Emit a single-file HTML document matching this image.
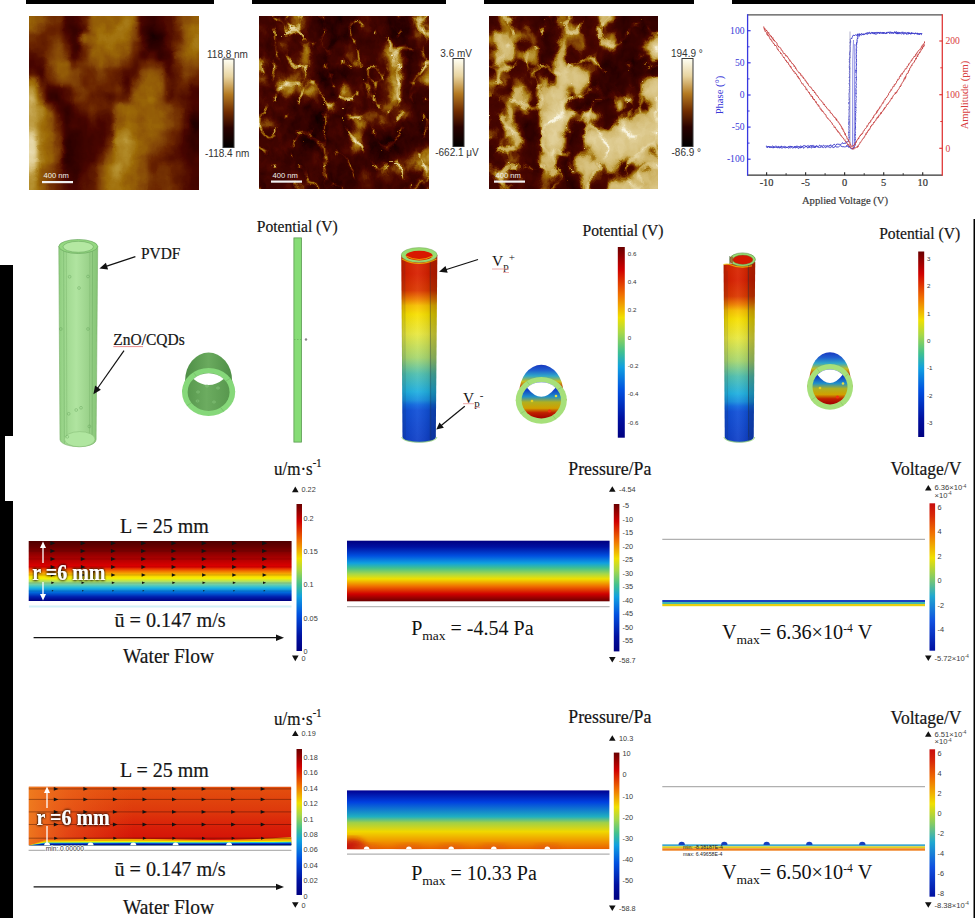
<!DOCTYPE html>
<html><head><meta charset="utf-8"><title>figure</title>
<style>html,body{margin:0;padding:0;background:#fff;} body{width:975px;height:918px;overflow:hidden;} svg{display:block}</style>
</head><body>
<svg width="975" height="918" viewBox="0 0 975 918">
<defs><linearGradient id="jet" x1="0" y1="0" x2="0" y2="1"><stop offset="0" stop-color="#6a0000"/><stop offset="0.12" stop-color="#d00000"/><stop offset="0.25" stop-color="#f07000"/><stop offset="0.37" stop-color="#f0e000"/><stop offset="0.45" stop-color="#a8d848"/><stop offset="0.55" stop-color="#40c090"/><stop offset="0.63" stop-color="#10a0e0"/><stop offset="0.75" stop-color="#0050e0"/><stop offset="0.9" stop-color="#0010a0"/><stop offset="1" stop-color="#000080"/></linearGradient><linearGradient id="jetv" x1="0" y1="0" x2="0" y2="1"><stop offset="0" stop-color="#c80c0c"/><stop offset="0.08" stop-color="#d82808"/><stop offset="0.2" stop-color="#f07000"/><stop offset="0.37" stop-color="#f0e000"/><stop offset="0.5" stop-color="#88cc60"/><stop offset="0.63" stop-color="#20a8d0"/><stop offset="0.8" stop-color="#1050e0"/><stop offset="1" stop-color="#0010a0"/></linearGradient><linearGradient id="jetr" x1="0" y1="0" x2="0" y2="1"><stop offset="0" stop-color="#000080"/><stop offset="0.09999999999999998" stop-color="#0010a0"/><stop offset="0.25" stop-color="#0050e0"/><stop offset="0.37" stop-color="#10a0e0"/><stop offset="0.44999999999999996" stop-color="#40c090"/><stop offset="0.55" stop-color="#a8d848"/><stop offset="0.63" stop-color="#f0e000"/><stop offset="0.75" stop-color="#f07000"/><stop offset="0.88" stop-color="#d00000"/><stop offset="1" stop-color="#6a0000"/></linearGradient><linearGradient id="afmgrad" x1="0" y1="0" x2="0" y2="1"><stop offset="0" stop-color="#fffff4"/><stop offset="0.2" stop-color="#e8d4a0"/><stop offset="0.4" stop-color="#b47a22"/><stop offset="0.6" stop-color="#702c00"/><stop offset="0.78" stop-color="#2a0200"/><stop offset="1" stop-color="#000"/></linearGradient><filter id="blur0" x="-20%" y="-20%" width="140%" height="140%"><feGaussianBlur stdDeviation="3.4"/></filter><filter id="blur1" x="-20%" y="-20%" width="140%" height="140%"><feGaussianBlur stdDeviation="3.2"/></filter><filter id="blur2" x="-20%" y="-20%" width="140%" height="140%"><feGaussianBlur stdDeviation="4"/></filter><filter id="bl1"><feGaussianBlur stdDeviation="0.6"/></filter><filter id="tshadow" x="-10%" y="-30%" width="120%" height="160%"><feGaussianBlur in="SourceAlpha" stdDeviation="1.2"/><feOffset dx="0" dy="0"/><feComponentTransfer><feFuncA type="linear" slope="1.5"/></feComponentTransfer><feMerge><feMergeNode/><feMergeNode in="SourceGraphic"/></feMerge></filter><filter id="sb1" x="-30%" y="-30%" width="160%" height="160%"><feGaussianBlur stdDeviation="30"/></filter><filter id="sb2" x="-30%" y="-30%" width="160%" height="160%"><feGaussianBlur stdDeviation="4"/></filter><filter id="sb3" x="-30%" y="-30%" width="160%" height="160%"><feGaussianBlur stdDeviation="7"/></filter><filter id="afmf0" x="9" y="-4" width="210" height="214" filterUnits="userSpaceOnUse" color-interpolation-filters="sRGB"><feGaussianBlur in="SourceGraphic" stdDeviation="2.8" result="b"/><feTurbulence type="fractalNoise" baseFrequency="0.08 0.06" numOctaves="3" seed="3" result="nz"/><feColorMatrix in="nz" type="matrix" values="1 0 0 0 0  1 0 0 0 0  1 0 0 0 0  0 0 0 0 1" result="nzg"/><feComposite in="b" in2="nzg" operator="arithmetic" k1="0" k2="1" k3="0.08" k4="-0.04" result="bn"/><feTurbulence type="fractalNoise" baseFrequency="0.09" numOctaves="2" seed="3" result="dn"/><feDisplacementMap in="bn" in2="dn" scale="4" xChannelSelector="R" yChannelSelector="G" result="d"/><feComponentTransfer in="d" result="c"><feFuncR type="table" tableValues="0 0.09 0.17 0.26 0.37 0.5 0.62 0.74 0.85 0.93 1"/><feFuncG type="table" tableValues="0 0.09 0.17 0.26 0.37 0.5 0.62 0.74 0.85 0.93 1"/><feFuncB type="table" tableValues="0 0.09 0.17 0.26 0.37 0.5 0.62 0.74 0.85 0.93 1"/></feComponentTransfer><feComponentTransfer in="c"><feFuncR type="table" tableValues="0.000 0.157 0.290 0.416 0.525 0.620 0.706 0.800 0.894 0.973"/><feFuncG type="table" tableValues="0.000 0.000 0.024 0.141 0.282 0.424 0.557 0.690 0.831 0.957"/><feFuncB type="table" tableValues="0.000 0.000 0.000 0.000 0.031 0.031 0.173 0.376 0.627 0.878"/></feComponentTransfer></filter><filter id="afmf1" x="239" y="-4" width="210" height="213" filterUnits="userSpaceOnUse" color-interpolation-filters="sRGB"><feGaussianBlur in="SourceGraphic" stdDeviation="3.0" result="b"/><feTurbulence type="fractalNoise" baseFrequency="0.12 0.08" numOctaves="3" seed="7" result="nz"/><feColorMatrix in="nz" type="matrix" values="1 0 0 0 0  1 0 0 0 0  1 0 0 0 0  0 0 0 0 1" result="nzg"/><feComposite in="b" in2="nzg" operator="arithmetic" k1="0" k2="1" k3="0.2" k4="-0.1" result="bn"/><feTurbulence type="turbulence" baseFrequency="0.04 0.03" numOctaves="2" seed="12" result="rt"/><feColorMatrix in="rt" type="matrix" values="-7 0 0 0 1  -7 0 0 0 1  -7 0 0 0 1  0 0 0 0 1" result="rg"/><feComposite in="bn" in2="rg" operator="arithmetic" k1="0" k2="1" k3="0.3" k4="0" result="br"/><feTurbulence type="fractalNoise" baseFrequency="0.09" numOctaves="2" seed="3" result="dn"/><feDisplacementMap in="br" in2="dn" scale="6" xChannelSelector="R" yChannelSelector="G" result="d"/><feComponentTransfer in="d" result="c"><feFuncR type="table" tableValues="0 0.06 0.14 0.2 0.28 0.5 0.72 0.82 0.9 0.96 1"/><feFuncG type="table" tableValues="0 0.06 0.14 0.2 0.28 0.5 0.72 0.82 0.9 0.96 1"/><feFuncB type="table" tableValues="0 0.06 0.14 0.2 0.28 0.5 0.72 0.82 0.9 0.96 1"/></feComponentTransfer><feComponentTransfer in="c"><feFuncR type="table" tableValues="0.000 0.157 0.290 0.416 0.525 0.620 0.706 0.800 0.894 0.973"/><feFuncG type="table" tableValues="0.000 0.000 0.024 0.141 0.282 0.424 0.557 0.690 0.831 0.957"/><feFuncB type="table" tableValues="0.000 0.000 0.000 0.000 0.031 0.031 0.173 0.376 0.627 0.878"/></feComponentTransfer></filter><filter id="afmf2" x="469" y="-4" width="209" height="213" filterUnits="userSpaceOnUse" color-interpolation-filters="sRGB"><feGaussianBlur in="SourceGraphic" stdDeviation="3.4" result="b"/><feTurbulence type="fractalNoise" baseFrequency="0.1 0.07" numOctaves="3" seed="5" result="nz"/><feColorMatrix in="nz" type="matrix" values="1 0 0 0 0  1 0 0 0 0  1 0 0 0 0  0 0 0 0 1" result="nzg"/><feComposite in="b" in2="nzg" operator="arithmetic" k1="0" k2="1" k3="0.2" k4="-0.1" result="bn"/><feTurbulence type="turbulence" baseFrequency="0.035 0.03" numOctaves="2" seed="21" result="rt"/><feColorMatrix in="rt" type="matrix" values="-6 0 0 0 1  -6 0 0 0 1  -6 0 0 0 1  0 0 0 0 1" result="rg"/><feComposite in="bn" in2="rg" operator="arithmetic" k1="0" k2="1" k3="0.22" k4="0" result="br"/><feTurbulence type="fractalNoise" baseFrequency="0.09" numOctaves="2" seed="3" result="dn"/><feDisplacementMap in="br" in2="dn" scale="8" xChannelSelector="R" yChannelSelector="G" result="d"/><feComponentTransfer in="d" result="c"><feFuncR type="table" tableValues="0 0.05 0.13 0.18 0.24 0.5 0.76 0.82 0.86 0.9 1"/><feFuncG type="table" tableValues="0 0.05 0.13 0.18 0.24 0.5 0.76 0.82 0.86 0.9 1"/><feFuncB type="table" tableValues="0 0.05 0.13 0.18 0.24 0.5 0.76 0.82 0.86 0.9 1"/></feComponentTransfer><feComponentTransfer in="c"><feFuncR type="table" tableValues="0.000 0.157 0.290 0.416 0.525 0.620 0.706 0.800 0.894 0.973"/><feFuncG type="table" tableValues="0.000 0.000 0.024 0.141 0.282 0.424 0.557 0.690 0.831 0.957"/><feFuncB type="table" tableValues="0.000 0.000 0.000 0.000 0.031 0.031 0.173 0.376 0.627 0.878"/></feComponentTransfer></filter><linearGradient id="gtube" x1="0" y1="0" x2="1" y2="0"><stop offset="0" stop-color="#8ccc7c"/><stop offset="0.12" stop-color="#9cd68c"/><stop offset="0.45" stop-color="#b0e4a0"/><stop offset="0.8" stop-color="#98d088"/><stop offset="1" stop-color="#84c474"/></linearGradient><linearGradient id="gring" x1="0" y1="0" x2="1" y2="0"><stop offset="0" stop-color="#4e8e46"/><stop offset="0.5" stop-color="#6aaa5e"/><stop offset="1" stop-color="#4e8e46"/></linearGradient><linearGradient id="ginner" x1="0" y1="0" x2="1" y2="0"><stop offset="0" stop-color="#58984e"/><stop offset="0.45" stop-color="#6cac60"/><stop offset="1" stop-color="#58984e"/></linearGradient><linearGradient id="tubegrad" x1="0" y1="0" x2="0" y2="1"><stop offset="0" stop-color="#d82800"/><stop offset="0.1" stop-color="#d82000"/><stop offset="0.19" stop-color="#dc3800"/><stop offset="0.236" stop-color="#f08000"/><stop offset="0.27" stop-color="#f8c000"/><stop offset="0.317" stop-color="#f8e000"/><stop offset="0.423" stop-color="#e8e840"/><stop offset="0.549" stop-color="#a8d870"/><stop offset="0.635" stop-color="#50c0b0"/><stop offset="0.73" stop-color="#20b0e0"/><stop offset="0.775" stop-color="#1890e0"/><stop offset="0.8" stop-color="#1068e0"/><stop offset="0.83" stop-color="#1050d8"/><stop offset="1" stop-color="#1040c8"/></linearGradient><linearGradient id="tubeshade" x1="0" y1="0" x2="1" y2="0"><stop offset="0" stop-color="#000" stop-opacity="0.22"/><stop offset="0.12" stop-color="#000" stop-opacity="0.05"/><stop offset="0.45" stop-color="#fff" stop-opacity="0.06"/><stop offset="0.75" stop-color="#000" stop-opacity="0.08"/><stop offset="0.82" stop-color="#000" stop-opacity="0.2"/><stop offset="1" stop-color="#000" stop-opacity="0.25"/></linearGradient><linearGradient id="ringback" x1="0" y1="0" x2="0" y2="1"><stop offset="0" stop-color="#1838c0"/><stop offset="0.1" stop-color="#2060d0"/><stop offset="0.2" stop-color="#30a8c8"/><stop offset="0.3" stop-color="#c8c020"/><stop offset="0.4" stop-color="#c83000"/><stop offset="0.6" stop-color="#a00800"/><stop offset="1" stop-color="#900000"/></linearGradient><linearGradient id="ringin" x1="0" y1="0" x2="0" y2="1"><stop offset="0" stop-color="#1030c0"/><stop offset="0.22" stop-color="#1040c8"/><stop offset="0.4" stop-color="#2090c8"/><stop offset="0.55" stop-color="#b0b020"/><stop offset="0.72" stop-color="#d0a000"/><stop offset="0.84" stop-color="#c02000"/><stop offset="1" stop-color="#a00000"/></linearGradient><linearGradient id="ringside" x1="0" y1="0" x2="1" y2="0"><stop offset="0" stop-color="#000" stop-opacity="0.25"/><stop offset="0.18" stop-color="#fff" stop-opacity="0"/><stop offset="0.82" stop-color="#fff" stop-opacity="0"/><stop offset="1" stop-color="#000" stop-opacity="0.25"/></linearGradient><linearGradient id="flow1grad" x1="0" y1="0" x2="0" y2="1"><stop offset="0" stop-color="#500000"/><stop offset="0.1" stop-color="#680000"/><stop offset="0.17" stop-color="#800000"/><stop offset="0.3" stop-color="#b00000"/><stop offset="0.43" stop-color="#e00000"/><stop offset="0.5" stop-color="#f07000"/><stop offset="0.57" stop-color="#f8c800"/><stop offset="0.62" stop-color="#f8f000"/><stop offset="0.7" stop-color="#90d890"/><stop offset="0.78" stop-color="#20b8e0"/><stop offset="0.85" stop-color="#0070e0"/><stop offset="0.93" stop-color="#0020b0"/><stop offset="1" stop-color="#000080"/></linearGradient><linearGradient id="fl2base" x1="0" y1="0" x2="0" y2="1"><stop offset="0" stop-color="#e4500e"/><stop offset="0.4" stop-color="#de3a0c"/><stop offset="0.7" stop-color="#d81e08"/><stop offset="0.88" stop-color="#d41408"/><stop offset="1" stop-color="#d41408"/></linearGradient><linearGradient id="fl2left" x1="0" y1="0" x2="1" y2="0"><stop offset="0" stop-color="#f08020" stop-opacity="0.9"/><stop offset="0.15" stop-color="#f07020" stop-opacity="0.5"/><stop offset="0.4" stop-color="#e86018" stop-opacity="0"/></linearGradient><filter id="bl2" x="-10%" y="-50%" width="120%" height="200%"><feGaussianBlur stdDeviation="3"/></filter><linearGradient id="pr2grad" x1="0" y1="0" x2="0" y2="1"><stop offset="0" stop-color="#000090"/><stop offset="0.2" stop-color="#0040e0"/><stop offset="0.45" stop-color="#20b0c0"/><stop offset="0.55" stop-color="#a0d048"/><stop offset="0.7" stop-color="#f0d800"/><stop offset="0.88" stop-color="#f09000"/><stop offset="1" stop-color="#e86000"/></linearGradient></defs>
<rect width="975" height="918" fill="#fff"/>
<rect x="26" y="0" width="188" height="4" fill="#000"/>
<rect x="252" y="0" width="194" height="4" fill="#000"/>
<rect x="484" y="0" width="210" height="4" fill="#000"/>
<rect x="732" y="0" width="243" height="4" fill="#000"/>
<rect x="0" y="265" width="13" height="171" fill="#000"/>
<rect x="0" y="436" width="5" height="65" fill="#000"/>
<rect x="0" y="501" width="13" height="417" fill="#000"/>
<rect x="973.5" y="219" width="1.5" height="699" fill="#000"/>
<clipPath id="afmclip0"><rect x="29" y="16" width="170" height="174"/></clipPath>
<g clip-path="url(#afmclip0)"><g filter="url(#afmf0)"><rect x="12.00" y="-1.40" width="8.80" height="9.00" fill="#848484"/><rect x="20.50" y="-1.40" width="8.80" height="9.00" fill="#848484"/><rect x="29.00" y="-1.40" width="8.80" height="9.00" fill="#848484"/><rect x="37.50" y="-1.40" width="8.80" height="9.00" fill="#767676"/><rect x="46.00" y="-1.40" width="8.80" height="9.00" fill="#676767"/><rect x="54.50" y="-1.40" width="8.80" height="9.00" fill="#676767"/><rect x="63.00" y="-1.40" width="8.80" height="9.00" fill="#3d3d3d"/><rect x="71.50" y="-1.40" width="8.80" height="9.00" fill="#3d3d3d"/><rect x="80.00" y="-1.40" width="8.80" height="9.00" fill="#595959"/><rect x="88.50" y="-1.40" width="8.80" height="9.00" fill="#848484"/><rect x="97.00" y="-1.40" width="8.80" height="9.00" fill="#848484"/><rect x="105.50" y="-1.40" width="8.80" height="9.00" fill="#848484"/><rect x="114.00" y="-1.40" width="8.80" height="9.00" fill="#848484"/><rect x="122.50" y="-1.40" width="8.80" height="9.00" fill="#929292"/><rect x="131.00" y="-1.40" width="8.80" height="9.00" fill="#848484"/><rect x="139.50" y="-1.40" width="8.80" height="9.00" fill="#3d3d3d"/><rect x="148.00" y="-1.40" width="8.80" height="9.00" fill="#2f2f2f"/><rect x="156.50" y="-1.40" width="8.80" height="9.00" fill="#3d3d3d"/><rect x="165.00" y="-1.40" width="8.80" height="9.00" fill="#4b4b4b"/><rect x="173.50" y="-1.40" width="8.80" height="9.00" fill="#676767"/><rect x="182.00" y="-1.40" width="8.80" height="9.00" fill="#767676"/><rect x="190.50" y="-1.40" width="8.80" height="9.00" fill="#848484"/><rect x="199.00" y="-1.40" width="8.80" height="9.00" fill="#848484"/><rect x="207.50" y="-1.40" width="8.80" height="9.00" fill="#848484"/><rect x="12.00" y="7.30" width="8.80" height="9.00" fill="#848484"/><rect x="20.50" y="7.30" width="8.80" height="9.00" fill="#848484"/><rect x="29.00" y="7.30" width="8.80" height="9.00" fill="#848484"/><rect x="37.50" y="7.30" width="8.80" height="9.00" fill="#767676"/><rect x="46.00" y="7.30" width="8.80" height="9.00" fill="#676767"/><rect x="54.50" y="7.30" width="8.80" height="9.00" fill="#676767"/><rect x="63.00" y="7.30" width="8.80" height="9.00" fill="#3d3d3d"/><rect x="71.50" y="7.30" width="8.80" height="9.00" fill="#3d3d3d"/><rect x="80.00" y="7.30" width="8.80" height="9.00" fill="#595959"/><rect x="88.50" y="7.30" width="8.80" height="9.00" fill="#848484"/><rect x="97.00" y="7.30" width="8.80" height="9.00" fill="#848484"/><rect x="105.50" y="7.30" width="8.80" height="9.00" fill="#848484"/><rect x="114.00" y="7.30" width="8.80" height="9.00" fill="#848484"/><rect x="122.50" y="7.30" width="8.80" height="9.00" fill="#929292"/><rect x="131.00" y="7.30" width="8.80" height="9.00" fill="#848484"/><rect x="139.50" y="7.30" width="8.80" height="9.00" fill="#3d3d3d"/><rect x="148.00" y="7.30" width="8.80" height="9.00" fill="#2f2f2f"/><rect x="156.50" y="7.30" width="8.80" height="9.00" fill="#3d3d3d"/><rect x="165.00" y="7.30" width="8.80" height="9.00" fill="#4b4b4b"/><rect x="173.50" y="7.30" width="8.80" height="9.00" fill="#676767"/><rect x="182.00" y="7.30" width="8.80" height="9.00" fill="#767676"/><rect x="190.50" y="7.30" width="8.80" height="9.00" fill="#848484"/><rect x="199.00" y="7.30" width="8.80" height="9.00" fill="#848484"/><rect x="207.50" y="7.30" width="8.80" height="9.00" fill="#848484"/><rect x="12.00" y="16.00" width="8.80" height="9.00" fill="#848484"/><rect x="20.50" y="16.00" width="8.80" height="9.00" fill="#848484"/><rect x="29.00" y="16.00" width="8.80" height="9.00" fill="#848484"/><rect x="37.50" y="16.00" width="8.80" height="9.00" fill="#767676"/><rect x="46.00" y="16.00" width="8.80" height="9.00" fill="#676767"/><rect x="54.50" y="16.00" width="8.80" height="9.00" fill="#676767"/><rect x="63.00" y="16.00" width="8.80" height="9.00" fill="#3d3d3d"/><rect x="71.50" y="16.00" width="8.80" height="9.00" fill="#3d3d3d"/><rect x="80.00" y="16.00" width="8.80" height="9.00" fill="#595959"/><rect x="88.50" y="16.00" width="8.80" height="9.00" fill="#848484"/><rect x="97.00" y="16.00" width="8.80" height="9.00" fill="#848484"/><rect x="105.50" y="16.00" width="8.80" height="9.00" fill="#848484"/><rect x="114.00" y="16.00" width="8.80" height="9.00" fill="#848484"/><rect x="122.50" y="16.00" width="8.80" height="9.00" fill="#929292"/><rect x="131.00" y="16.00" width="8.80" height="9.00" fill="#848484"/><rect x="139.50" y="16.00" width="8.80" height="9.00" fill="#3d3d3d"/><rect x="148.00" y="16.00" width="8.80" height="9.00" fill="#2f2f2f"/><rect x="156.50" y="16.00" width="8.80" height="9.00" fill="#3d3d3d"/><rect x="165.00" y="16.00" width="8.80" height="9.00" fill="#4b4b4b"/><rect x="173.50" y="16.00" width="8.80" height="9.00" fill="#676767"/><rect x="182.00" y="16.00" width="8.80" height="9.00" fill="#767676"/><rect x="190.50" y="16.00" width="8.80" height="9.00" fill="#848484"/><rect x="199.00" y="16.00" width="8.80" height="9.00" fill="#848484"/><rect x="207.50" y="16.00" width="8.80" height="9.00" fill="#848484"/><rect x="12.00" y="24.70" width="8.80" height="9.00" fill="#848484"/><rect x="20.50" y="24.70" width="8.80" height="9.00" fill="#848484"/><rect x="29.00" y="24.70" width="8.80" height="9.00" fill="#848484"/><rect x="37.50" y="24.70" width="8.80" height="9.00" fill="#676767"/><rect x="46.00" y="24.70" width="8.80" height="9.00" fill="#595959"/><rect x="54.50" y="24.70" width="8.80" height="9.00" fill="#595959"/><rect x="63.00" y="24.70" width="8.80" height="9.00" fill="#3d3d3d"/><rect x="71.50" y="24.70" width="8.80" height="9.00" fill="#2f2f2f"/><rect x="80.00" y="24.70" width="8.80" height="9.00" fill="#4b4b4b"/><rect x="88.50" y="24.70" width="8.80" height="9.00" fill="#848484"/><rect x="97.00" y="24.70" width="8.80" height="9.00" fill="#929292"/><rect x="105.50" y="24.70" width="8.80" height="9.00" fill="#848484"/><rect x="114.00" y="24.70" width="8.80" height="9.00" fill="#929292"/><rect x="122.50" y="24.70" width="8.80" height="9.00" fill="#929292"/><rect x="131.00" y="24.70" width="8.80" height="9.00" fill="#767676"/><rect x="139.50" y="24.70" width="8.80" height="9.00" fill="#2f2f2f"/><rect x="148.00" y="24.70" width="8.80" height="9.00" fill="#212121"/><rect x="156.50" y="24.70" width="8.80" height="9.00" fill="#2f2f2f"/><rect x="165.00" y="24.70" width="8.80" height="9.00" fill="#4b4b4b"/><rect x="173.50" y="24.70" width="8.80" height="9.00" fill="#595959"/><rect x="182.00" y="24.70" width="8.80" height="9.00" fill="#848484"/><rect x="190.50" y="24.70" width="8.80" height="9.00" fill="#929292"/><rect x="199.00" y="24.70" width="8.80" height="9.00" fill="#929292"/><rect x="207.50" y="24.70" width="8.80" height="9.00" fill="#929292"/><rect x="12.00" y="33.40" width="8.80" height="9.00" fill="#676767"/><rect x="20.50" y="33.40" width="8.80" height="9.00" fill="#676767"/><rect x="29.00" y="33.40" width="8.80" height="9.00" fill="#676767"/><rect x="37.50" y="33.40" width="8.80" height="9.00" fill="#595959"/><rect x="46.00" y="33.40" width="8.80" height="9.00" fill="#676767"/><rect x="54.50" y="33.40" width="8.80" height="9.00" fill="#676767"/><rect x="63.00" y="33.40" width="8.80" height="9.00" fill="#4b4b4b"/><rect x="71.50" y="33.40" width="8.80" height="9.00" fill="#2f2f2f"/><rect x="80.00" y="33.40" width="8.80" height="9.00" fill="#848484"/><rect x="88.50" y="33.40" width="8.80" height="9.00" fill="#848484"/><rect x="97.00" y="33.40" width="8.80" height="9.00" fill="#929292"/><rect x="105.50" y="33.40" width="8.80" height="9.00" fill="#929292"/><rect x="114.00" y="33.40" width="8.80" height="9.00" fill="#929292"/><rect x="122.50" y="33.40" width="8.80" height="9.00" fill="#929292"/><rect x="131.00" y="33.40" width="8.80" height="9.00" fill="#767676"/><rect x="139.50" y="33.40" width="8.80" height="9.00" fill="#3d3d3d"/><rect x="148.00" y="33.40" width="8.80" height="9.00" fill="#121212"/><rect x="156.50" y="33.40" width="8.80" height="9.00" fill="#212121"/><rect x="165.00" y="33.40" width="8.80" height="9.00" fill="#4b4b4b"/><rect x="173.50" y="33.40" width="8.80" height="9.00" fill="#595959"/><rect x="182.00" y="33.40" width="8.80" height="9.00" fill="#848484"/><rect x="190.50" y="33.40" width="8.80" height="9.00" fill="#929292"/><rect x="199.00" y="33.40" width="8.80" height="9.00" fill="#929292"/><rect x="207.50" y="33.40" width="8.80" height="9.00" fill="#929292"/><rect x="12.00" y="42.10" width="8.80" height="9.00" fill="#595959"/><rect x="20.50" y="42.10" width="8.80" height="9.00" fill="#595959"/><rect x="29.00" y="42.10" width="8.80" height="9.00" fill="#595959"/><rect x="37.50" y="42.10" width="8.80" height="9.00" fill="#595959"/><rect x="46.00" y="42.10" width="8.80" height="9.00" fill="#676767"/><rect x="54.50" y="42.10" width="8.80" height="9.00" fill="#767676"/><rect x="63.00" y="42.10" width="8.80" height="9.00" fill="#595959"/><rect x="71.50" y="42.10" width="8.80" height="9.00" fill="#2f2f2f"/><rect x="80.00" y="42.10" width="8.80" height="9.00" fill="#676767"/><rect x="88.50" y="42.10" width="8.80" height="9.00" fill="#848484"/><rect x="97.00" y="42.10" width="8.80" height="9.00" fill="#848484"/><rect x="105.50" y="42.10" width="8.80" height="9.00" fill="#929292"/><rect x="114.00" y="42.10" width="8.80" height="9.00" fill="#848484"/><rect x="122.50" y="42.10" width="8.80" height="9.00" fill="#848484"/><rect x="131.00" y="42.10" width="8.80" height="9.00" fill="#676767"/><rect x="139.50" y="42.10" width="8.80" height="9.00" fill="#4b4b4b"/><rect x="148.00" y="42.10" width="8.80" height="9.00" fill="#212121"/><rect x="156.50" y="42.10" width="8.80" height="9.00" fill="#2f2f2f"/><rect x="165.00" y="42.10" width="8.80" height="9.00" fill="#4b4b4b"/><rect x="173.50" y="42.10" width="8.80" height="9.00" fill="#676767"/><rect x="182.00" y="42.10" width="8.80" height="9.00" fill="#848484"/><rect x="190.50" y="42.10" width="8.80" height="9.00" fill="#929292"/><rect x="199.00" y="42.10" width="8.80" height="9.00" fill="#929292"/><rect x="207.50" y="42.10" width="8.80" height="9.00" fill="#929292"/><rect x="12.00" y="50.80" width="8.80" height="9.00" fill="#4b4b4b"/><rect x="20.50" y="50.80" width="8.80" height="9.00" fill="#4b4b4b"/><rect x="29.00" y="50.80" width="8.80" height="9.00" fill="#4b4b4b"/><rect x="37.50" y="50.80" width="8.80" height="9.00" fill="#595959"/><rect x="46.00" y="50.80" width="8.80" height="9.00" fill="#676767"/><rect x="54.50" y="50.80" width="8.80" height="9.00" fill="#767676"/><rect x="63.00" y="50.80" width="8.80" height="9.00" fill="#676767"/><rect x="71.50" y="50.80" width="8.80" height="9.00" fill="#3d3d3d"/><rect x="80.00" y="50.80" width="8.80" height="9.00" fill="#595959"/><rect x="88.50" y="50.80" width="8.80" height="9.00" fill="#848484"/><rect x="97.00" y="50.80" width="8.80" height="9.00" fill="#848484"/><rect x="105.50" y="50.80" width="8.80" height="9.00" fill="#848484"/><rect x="114.00" y="50.80" width="8.80" height="9.00" fill="#848484"/><rect x="122.50" y="50.80" width="8.80" height="9.00" fill="#767676"/><rect x="131.00" y="50.80" width="8.80" height="9.00" fill="#595959"/><rect x="139.50" y="50.80" width="8.80" height="9.00" fill="#3d3d3d"/><rect x="148.00" y="50.80" width="8.80" height="9.00" fill="#4b4b4b"/><rect x="156.50" y="50.80" width="8.80" height="9.00" fill="#2f2f2f"/><rect x="165.00" y="50.80" width="8.80" height="9.00" fill="#3d3d3d"/><rect x="173.50" y="50.80" width="8.80" height="9.00" fill="#767676"/><rect x="182.00" y="50.80" width="8.80" height="9.00" fill="#848484"/><rect x="190.50" y="50.80" width="8.80" height="9.00" fill="#848484"/><rect x="199.00" y="50.80" width="8.80" height="9.00" fill="#848484"/><rect x="207.50" y="50.80" width="8.80" height="9.00" fill="#848484"/><rect x="12.00" y="59.50" width="8.80" height="9.00" fill="#3d3d3d"/><rect x="20.50" y="59.50" width="8.80" height="9.00" fill="#3d3d3d"/><rect x="29.00" y="59.50" width="8.80" height="9.00" fill="#3d3d3d"/><rect x="37.50" y="59.50" width="8.80" height="9.00" fill="#4b4b4b"/><rect x="46.00" y="59.50" width="8.80" height="9.00" fill="#767676"/><rect x="54.50" y="59.50" width="8.80" height="9.00" fill="#848484"/><rect x="63.00" y="59.50" width="8.80" height="9.00" fill="#848484"/><rect x="71.50" y="59.50" width="8.80" height="9.00" fill="#595959"/><rect x="80.00" y="59.50" width="8.80" height="9.00" fill="#676767"/><rect x="88.50" y="59.50" width="8.80" height="9.00" fill="#767676"/><rect x="97.00" y="59.50" width="8.80" height="9.00" fill="#848484"/><rect x="105.50" y="59.50" width="8.80" height="9.00" fill="#767676"/><rect x="114.00" y="59.50" width="8.80" height="9.00" fill="#767676"/><rect x="122.50" y="59.50" width="8.80" height="9.00" fill="#676767"/><rect x="131.00" y="59.50" width="8.80" height="9.00" fill="#4b4b4b"/><rect x="139.50" y="59.50" width="8.80" height="9.00" fill="#595959"/><rect x="148.00" y="59.50" width="8.80" height="9.00" fill="#676767"/><rect x="156.50" y="59.50" width="8.80" height="9.00" fill="#595959"/><rect x="165.00" y="59.50" width="8.80" height="9.00" fill="#3d3d3d"/><rect x="173.50" y="59.50" width="8.80" height="9.00" fill="#676767"/><rect x="182.00" y="59.50" width="8.80" height="9.00" fill="#767676"/><rect x="190.50" y="59.50" width="8.80" height="9.00" fill="#767676"/><rect x="199.00" y="59.50" width="8.80" height="9.00" fill="#767676"/><rect x="207.50" y="59.50" width="8.80" height="9.00" fill="#767676"/><rect x="12.00" y="68.20" width="8.80" height="9.00" fill="#4b4b4b"/><rect x="20.50" y="68.20" width="8.80" height="9.00" fill="#4b4b4b"/><rect x="29.00" y="68.20" width="8.80" height="9.00" fill="#4b4b4b"/><rect x="37.50" y="68.20" width="8.80" height="9.00" fill="#3d3d3d"/><rect x="46.00" y="68.20" width="8.80" height="9.00" fill="#676767"/><rect x="54.50" y="68.20" width="8.80" height="9.00" fill="#848484"/><rect x="63.00" y="68.20" width="8.80" height="9.00" fill="#848484"/><rect x="71.50" y="68.20" width="8.80" height="9.00" fill="#767676"/><rect x="80.00" y="68.20" width="8.80" height="9.00" fill="#676767"/><rect x="88.50" y="68.20" width="8.80" height="9.00" fill="#676767"/><rect x="97.00" y="68.20" width="8.80" height="9.00" fill="#767676"/><rect x="105.50" y="68.20" width="8.80" height="9.00" fill="#676767"/><rect x="114.00" y="68.20" width="8.80" height="9.00" fill="#595959"/><rect x="122.50" y="68.20" width="8.80" height="9.00" fill="#4b4b4b"/><rect x="131.00" y="68.20" width="8.80" height="9.00" fill="#4b4b4b"/><rect x="139.50" y="68.20" width="8.80" height="9.00" fill="#767676"/><rect x="148.00" y="68.20" width="8.80" height="9.00" fill="#848484"/><rect x="156.50" y="68.20" width="8.80" height="9.00" fill="#767676"/><rect x="165.00" y="68.20" width="8.80" height="9.00" fill="#3d3d3d"/><rect x="173.50" y="68.20" width="8.80" height="9.00" fill="#595959"/><rect x="182.00" y="68.20" width="8.80" height="9.00" fill="#767676"/><rect x="190.50" y="68.20" width="8.80" height="9.00" fill="#676767"/><rect x="199.00" y="68.20" width="8.80" height="9.00" fill="#676767"/><rect x="207.50" y="68.20" width="8.80" height="9.00" fill="#676767"/><rect x="12.00" y="76.90" width="8.80" height="9.00" fill="#929292"/><rect x="20.50" y="76.90" width="8.80" height="9.00" fill="#929292"/><rect x="29.00" y="76.90" width="8.80" height="9.00" fill="#929292"/><rect x="37.50" y="76.90" width="8.80" height="9.00" fill="#4b4b4b"/><rect x="46.00" y="76.90" width="8.80" height="9.00" fill="#595959"/><rect x="54.50" y="76.90" width="8.80" height="9.00" fill="#767676"/><rect x="63.00" y="76.90" width="8.80" height="9.00" fill="#767676"/><rect x="71.50" y="76.90" width="8.80" height="9.00" fill="#767676"/><rect x="80.00" y="76.90" width="8.80" height="9.00" fill="#595959"/><rect x="88.50" y="76.90" width="8.80" height="9.00" fill="#676767"/><rect x="97.00" y="76.90" width="8.80" height="9.00" fill="#676767"/><rect x="105.50" y="76.90" width="8.80" height="9.00" fill="#595959"/><rect x="114.00" y="76.90" width="8.80" height="9.00" fill="#595959"/><rect x="122.50" y="76.90" width="8.80" height="9.00" fill="#3d3d3d"/><rect x="131.00" y="76.90" width="8.80" height="9.00" fill="#676767"/><rect x="139.50" y="76.90" width="8.80" height="9.00" fill="#848484"/><rect x="148.00" y="76.90" width="8.80" height="9.00" fill="#848484"/><rect x="156.50" y="76.90" width="8.80" height="9.00" fill="#848484"/><rect x="165.00" y="76.90" width="8.80" height="9.00" fill="#4b4b4b"/><rect x="173.50" y="76.90" width="8.80" height="9.00" fill="#595959"/><rect x="182.00" y="76.90" width="8.80" height="9.00" fill="#676767"/><rect x="190.50" y="76.90" width="8.80" height="9.00" fill="#595959"/><rect x="199.00" y="76.90" width="8.80" height="9.00" fill="#595959"/><rect x="207.50" y="76.90" width="8.80" height="9.00" fill="#595959"/><rect x="12.00" y="85.60" width="8.80" height="9.00" fill="#aeaeae"/><rect x="20.50" y="85.60" width="8.80" height="9.00" fill="#aeaeae"/><rect x="29.00" y="85.60" width="8.80" height="9.00" fill="#aeaeae"/><rect x="37.50" y="85.60" width="8.80" height="9.00" fill="#676767"/><rect x="46.00" y="85.60" width="8.80" height="9.00" fill="#3d3d3d"/><rect x="54.50" y="85.60" width="8.80" height="9.00" fill="#3d3d3d"/><rect x="63.00" y="85.60" width="8.80" height="9.00" fill="#4b4b4b"/><rect x="71.50" y="85.60" width="8.80" height="9.00" fill="#676767"/><rect x="80.00" y="85.60" width="8.80" height="9.00" fill="#676767"/><rect x="88.50" y="85.60" width="8.80" height="9.00" fill="#676767"/><rect x="97.00" y="85.60" width="8.80" height="9.00" fill="#595959"/><rect x="105.50" y="85.60" width="8.80" height="9.00" fill="#595959"/><rect x="114.00" y="85.60" width="8.80" height="9.00" fill="#676767"/><rect x="122.50" y="85.60" width="8.80" height="9.00" fill="#4b4b4b"/><rect x="131.00" y="85.60" width="8.80" height="9.00" fill="#767676"/><rect x="139.50" y="85.60" width="8.80" height="9.00" fill="#848484"/><rect x="148.00" y="85.60" width="8.80" height="9.00" fill="#848484"/><rect x="156.50" y="85.60" width="8.80" height="9.00" fill="#848484"/><rect x="165.00" y="85.60" width="8.80" height="9.00" fill="#4b4b4b"/><rect x="173.50" y="85.60" width="8.80" height="9.00" fill="#595959"/><rect x="182.00" y="85.60" width="8.80" height="9.00" fill="#595959"/><rect x="190.50" y="85.60" width="8.80" height="9.00" fill="#3d3d3d"/><rect x="199.00" y="85.60" width="8.80" height="9.00" fill="#3d3d3d"/><rect x="207.50" y="85.60" width="8.80" height="9.00" fill="#3d3d3d"/><rect x="12.00" y="94.30" width="8.80" height="9.00" fill="#bcbcbc"/><rect x="20.50" y="94.30" width="8.80" height="9.00" fill="#bcbcbc"/><rect x="29.00" y="94.30" width="8.80" height="9.00" fill="#bcbcbc"/><rect x="37.50" y="94.30" width="8.80" height="9.00" fill="#767676"/><rect x="46.00" y="94.30" width="8.80" height="9.00" fill="#2f2f2f"/><rect x="54.50" y="94.30" width="8.80" height="9.00" fill="#2f2f2f"/><rect x="63.00" y="94.30" width="8.80" height="9.00" fill="#4b4b4b"/><rect x="71.50" y="94.30" width="8.80" height="9.00" fill="#676767"/><rect x="80.00" y="94.30" width="8.80" height="9.00" fill="#676767"/><rect x="88.50" y="94.30" width="8.80" height="9.00" fill="#595959"/><rect x="97.00" y="94.30" width="8.80" height="9.00" fill="#595959"/><rect x="105.50" y="94.30" width="8.80" height="9.00" fill="#4b4b4b"/><rect x="114.00" y="94.30" width="8.80" height="9.00" fill="#595959"/><rect x="122.50" y="94.30" width="8.80" height="9.00" fill="#595959"/><rect x="131.00" y="94.30" width="8.80" height="9.00" fill="#848484"/><rect x="139.50" y="94.30" width="8.80" height="9.00" fill="#848484"/><rect x="148.00" y="94.30" width="8.80" height="9.00" fill="#929292"/><rect x="156.50" y="94.30" width="8.80" height="9.00" fill="#767676"/><rect x="165.00" y="94.30" width="8.80" height="9.00" fill="#4b4b4b"/><rect x="173.50" y="94.30" width="8.80" height="9.00" fill="#595959"/><rect x="182.00" y="94.30" width="8.80" height="9.00" fill="#4b4b4b"/><rect x="190.50" y="94.30" width="8.80" height="9.00" fill="#3d3d3d"/><rect x="199.00" y="94.30" width="8.80" height="9.00" fill="#3d3d3d"/><rect x="207.50" y="94.30" width="8.80" height="9.00" fill="#3d3d3d"/><rect x="12.00" y="103.00" width="8.80" height="9.00" fill="#aeaeae"/><rect x="20.50" y="103.00" width="8.80" height="9.00" fill="#aeaeae"/><rect x="29.00" y="103.00" width="8.80" height="9.00" fill="#aeaeae"/><rect x="37.50" y="103.00" width="8.80" height="9.00" fill="#a0a0a0"/><rect x="46.00" y="103.00" width="8.80" height="9.00" fill="#676767"/><rect x="54.50" y="103.00" width="8.80" height="9.00" fill="#3d3d3d"/><rect x="63.00" y="103.00" width="8.80" height="9.00" fill="#2f2f2f"/><rect x="71.50" y="103.00" width="8.80" height="9.00" fill="#4b4b4b"/><rect x="80.00" y="103.00" width="8.80" height="9.00" fill="#595959"/><rect x="88.50" y="103.00" width="8.80" height="9.00" fill="#676767"/><rect x="97.00" y="103.00" width="8.80" height="9.00" fill="#595959"/><rect x="105.50" y="103.00" width="8.80" height="9.00" fill="#595959"/><rect x="114.00" y="103.00" width="8.80" height="9.00" fill="#848484"/><rect x="122.50" y="103.00" width="8.80" height="9.00" fill="#848484"/><rect x="131.00" y="103.00" width="8.80" height="9.00" fill="#848484"/><rect x="139.50" y="103.00" width="8.80" height="9.00" fill="#848484"/><rect x="148.00" y="103.00" width="8.80" height="9.00" fill="#848484"/><rect x="156.50" y="103.00" width="8.80" height="9.00" fill="#767676"/><rect x="165.00" y="103.00" width="8.80" height="9.00" fill="#767676"/><rect x="173.50" y="103.00" width="8.80" height="9.00" fill="#676767"/><rect x="182.00" y="103.00" width="8.80" height="9.00" fill="#4b4b4b"/><rect x="190.50" y="103.00" width="8.80" height="9.00" fill="#3d3d3d"/><rect x="199.00" y="103.00" width="8.80" height="9.00" fill="#3d3d3d"/><rect x="207.50" y="103.00" width="8.80" height="9.00" fill="#3d3d3d"/><rect x="12.00" y="111.70" width="8.80" height="9.00" fill="#aeaeae"/><rect x="20.50" y="111.70" width="8.80" height="9.00" fill="#aeaeae"/><rect x="29.00" y="111.70" width="8.80" height="9.00" fill="#aeaeae"/><rect x="37.50" y="111.70" width="8.80" height="9.00" fill="#a0a0a0"/><rect x="46.00" y="111.70" width="8.80" height="9.00" fill="#848484"/><rect x="54.50" y="111.70" width="8.80" height="9.00" fill="#4b4b4b"/><rect x="63.00" y="111.70" width="8.80" height="9.00" fill="#2f2f2f"/><rect x="71.50" y="111.70" width="8.80" height="9.00" fill="#3d3d3d"/><rect x="80.00" y="111.70" width="8.80" height="9.00" fill="#4b4b4b"/><rect x="88.50" y="111.70" width="8.80" height="9.00" fill="#595959"/><rect x="97.00" y="111.70" width="8.80" height="9.00" fill="#4b4b4b"/><rect x="105.50" y="111.70" width="8.80" height="9.00" fill="#4b4b4b"/><rect x="114.00" y="111.70" width="8.80" height="9.00" fill="#848484"/><rect x="122.50" y="111.70" width="8.80" height="9.00" fill="#848484"/><rect x="131.00" y="111.70" width="8.80" height="9.00" fill="#848484"/><rect x="139.50" y="111.70" width="8.80" height="9.00" fill="#848484"/><rect x="148.00" y="111.70" width="8.80" height="9.00" fill="#848484"/><rect x="156.50" y="111.70" width="8.80" height="9.00" fill="#848484"/><rect x="165.00" y="111.70" width="8.80" height="9.00" fill="#767676"/><rect x="173.50" y="111.70" width="8.80" height="9.00" fill="#676767"/><rect x="182.00" y="111.70" width="8.80" height="9.00" fill="#4b4b4b"/><rect x="190.50" y="111.70" width="8.80" height="9.00" fill="#2f2f2f"/><rect x="199.00" y="111.70" width="8.80" height="9.00" fill="#2f2f2f"/><rect x="207.50" y="111.70" width="8.80" height="9.00" fill="#2f2f2f"/><rect x="12.00" y="120.40" width="8.80" height="9.00" fill="#aeaeae"/><rect x="20.50" y="120.40" width="8.80" height="9.00" fill="#aeaeae"/><rect x="29.00" y="120.40" width="8.80" height="9.00" fill="#aeaeae"/><rect x="37.50" y="120.40" width="8.80" height="9.00" fill="#929292"/><rect x="46.00" y="120.40" width="8.80" height="9.00" fill="#848484"/><rect x="54.50" y="120.40" width="8.80" height="9.00" fill="#595959"/><rect x="63.00" y="120.40" width="8.80" height="9.00" fill="#2f2f2f"/><rect x="71.50" y="120.40" width="8.80" height="9.00" fill="#3d3d3d"/><rect x="80.00" y="120.40" width="8.80" height="9.00" fill="#3d3d3d"/><rect x="88.50" y="120.40" width="8.80" height="9.00" fill="#4b4b4b"/><rect x="97.00" y="120.40" width="8.80" height="9.00" fill="#3d3d3d"/><rect x="105.50" y="120.40" width="8.80" height="9.00" fill="#4b4b4b"/><rect x="114.00" y="120.40" width="8.80" height="9.00" fill="#848484"/><rect x="122.50" y="120.40" width="8.80" height="9.00" fill="#929292"/><rect x="131.00" y="120.40" width="8.80" height="9.00" fill="#848484"/><rect x="139.50" y="120.40" width="8.80" height="9.00" fill="#848484"/><rect x="148.00" y="120.40" width="8.80" height="9.00" fill="#848484"/><rect x="156.50" y="120.40" width="8.80" height="9.00" fill="#848484"/><rect x="165.00" y="120.40" width="8.80" height="9.00" fill="#767676"/><rect x="173.50" y="120.40" width="8.80" height="9.00" fill="#676767"/><rect x="182.00" y="120.40" width="8.80" height="9.00" fill="#4b4b4b"/><rect x="190.50" y="120.40" width="8.80" height="9.00" fill="#212121"/><rect x="199.00" y="120.40" width="8.80" height="9.00" fill="#212121"/><rect x="207.50" y="120.40" width="8.80" height="9.00" fill="#212121"/><rect x="12.00" y="129.10" width="8.80" height="9.00" fill="#cbcbcb"/><rect x="20.50" y="129.10" width="8.80" height="9.00" fill="#cbcbcb"/><rect x="29.00" y="129.10" width="8.80" height="9.00" fill="#cbcbcb"/><rect x="37.50" y="129.10" width="8.80" height="9.00" fill="#929292"/><rect x="46.00" y="129.10" width="8.80" height="9.00" fill="#848484"/><rect x="54.50" y="129.10" width="8.80" height="9.00" fill="#676767"/><rect x="63.00" y="129.10" width="8.80" height="9.00" fill="#2f2f2f"/><rect x="71.50" y="129.10" width="8.80" height="9.00" fill="#2f2f2f"/><rect x="80.00" y="129.10" width="8.80" height="9.00" fill="#3d3d3d"/><rect x="88.50" y="129.10" width="8.80" height="9.00" fill="#3d3d3d"/><rect x="97.00" y="129.10" width="8.80" height="9.00" fill="#3d3d3d"/><rect x="105.50" y="129.10" width="8.80" height="9.00" fill="#4b4b4b"/><rect x="114.00" y="129.10" width="8.80" height="9.00" fill="#929292"/><rect x="122.50" y="129.10" width="8.80" height="9.00" fill="#a0a0a0"/><rect x="131.00" y="129.10" width="8.80" height="9.00" fill="#848484"/><rect x="139.50" y="129.10" width="8.80" height="9.00" fill="#848484"/><rect x="148.00" y="129.10" width="8.80" height="9.00" fill="#848484"/><rect x="156.50" y="129.10" width="8.80" height="9.00" fill="#767676"/><rect x="165.00" y="129.10" width="8.80" height="9.00" fill="#676767"/><rect x="173.50" y="129.10" width="8.80" height="9.00" fill="#595959"/><rect x="182.00" y="129.10" width="8.80" height="9.00" fill="#3d3d3d"/><rect x="190.50" y="129.10" width="8.80" height="9.00" fill="#2f2f2f"/><rect x="199.00" y="129.10" width="8.80" height="9.00" fill="#2f2f2f"/><rect x="207.50" y="129.10" width="8.80" height="9.00" fill="#2f2f2f"/><rect x="12.00" y="137.80" width="8.80" height="9.00" fill="#e7e7e7"/><rect x="20.50" y="137.80" width="8.80" height="9.00" fill="#e7e7e7"/><rect x="29.00" y="137.80" width="8.80" height="9.00" fill="#e7e7e7"/><rect x="37.50" y="137.80" width="8.80" height="9.00" fill="#929292"/><rect x="46.00" y="137.80" width="8.80" height="9.00" fill="#848484"/><rect x="54.50" y="137.80" width="8.80" height="9.00" fill="#676767"/><rect x="63.00" y="137.80" width="8.80" height="9.00" fill="#212121"/><rect x="71.50" y="137.80" width="8.80" height="9.00" fill="#2f2f2f"/><rect x="80.00" y="137.80" width="8.80" height="9.00" fill="#3d3d3d"/><rect x="88.50" y="137.80" width="8.80" height="9.00" fill="#3d3d3d"/><rect x="97.00" y="137.80" width="8.80" height="9.00" fill="#3d3d3d"/><rect x="105.50" y="137.80" width="8.80" height="9.00" fill="#595959"/><rect x="114.00" y="137.80" width="8.80" height="9.00" fill="#a0a0a0"/><rect x="122.50" y="137.80" width="8.80" height="9.00" fill="#aeaeae"/><rect x="131.00" y="137.80" width="8.80" height="9.00" fill="#929292"/><rect x="139.50" y="137.80" width="8.80" height="9.00" fill="#848484"/><rect x="148.00" y="137.80" width="8.80" height="9.00" fill="#767676"/><rect x="156.50" y="137.80" width="8.80" height="9.00" fill="#767676"/><rect x="165.00" y="137.80" width="8.80" height="9.00" fill="#676767"/><rect x="173.50" y="137.80" width="8.80" height="9.00" fill="#595959"/><rect x="182.00" y="137.80" width="8.80" height="9.00" fill="#3d3d3d"/><rect x="190.50" y="137.80" width="8.80" height="9.00" fill="#2f2f2f"/><rect x="199.00" y="137.80" width="8.80" height="9.00" fill="#2f2f2f"/><rect x="207.50" y="137.80" width="8.80" height="9.00" fill="#2f2f2f"/><rect x="12.00" y="146.50" width="8.80" height="9.00" fill="#e7e7e7"/><rect x="20.50" y="146.50" width="8.80" height="9.00" fill="#e7e7e7"/><rect x="29.00" y="146.50" width="8.80" height="9.00" fill="#e7e7e7"/><rect x="37.50" y="146.50" width="8.80" height="9.00" fill="#929292"/><rect x="46.00" y="146.50" width="8.80" height="9.00" fill="#848484"/><rect x="54.50" y="146.50" width="8.80" height="9.00" fill="#767676"/><rect x="63.00" y="146.50" width="8.80" height="9.00" fill="#212121"/><rect x="71.50" y="146.50" width="8.80" height="9.00" fill="#2f2f2f"/><rect x="80.00" y="146.50" width="8.80" height="9.00" fill="#3d3d3d"/><rect x="88.50" y="146.50" width="8.80" height="9.00" fill="#3d3d3d"/><rect x="97.00" y="146.50" width="8.80" height="9.00" fill="#4b4b4b"/><rect x="105.50" y="146.50" width="8.80" height="9.00" fill="#767676"/><rect x="114.00" y="146.50" width="8.80" height="9.00" fill="#a0a0a0"/><rect x="122.50" y="146.50" width="8.80" height="9.00" fill="#a0a0a0"/><rect x="131.00" y="146.50" width="8.80" height="9.00" fill="#929292"/><rect x="139.50" y="146.50" width="8.80" height="9.00" fill="#848484"/><rect x="148.00" y="146.50" width="8.80" height="9.00" fill="#767676"/><rect x="156.50" y="146.50" width="8.80" height="9.00" fill="#676767"/><rect x="165.00" y="146.50" width="8.80" height="9.00" fill="#595959"/><rect x="173.50" y="146.50" width="8.80" height="9.00" fill="#4b4b4b"/><rect x="182.00" y="146.50" width="8.80" height="9.00" fill="#3d3d3d"/><rect x="190.50" y="146.50" width="8.80" height="9.00" fill="#2f2f2f"/><rect x="199.00" y="146.50" width="8.80" height="9.00" fill="#2f2f2f"/><rect x="207.50" y="146.50" width="8.80" height="9.00" fill="#2f2f2f"/><rect x="12.00" y="155.20" width="8.80" height="9.00" fill="#d9d9d9"/><rect x="20.50" y="155.20" width="8.80" height="9.00" fill="#d9d9d9"/><rect x="29.00" y="155.20" width="8.80" height="9.00" fill="#d9d9d9"/><rect x="37.50" y="155.20" width="8.80" height="9.00" fill="#929292"/><rect x="46.00" y="155.20" width="8.80" height="9.00" fill="#848484"/><rect x="54.50" y="155.20" width="8.80" height="9.00" fill="#676767"/><rect x="63.00" y="155.20" width="8.80" height="9.00" fill="#212121"/><rect x="71.50" y="155.20" width="8.80" height="9.00" fill="#2f2f2f"/><rect x="80.00" y="155.20" width="8.80" height="9.00" fill="#3d3d3d"/><rect x="88.50" y="155.20" width="8.80" height="9.00" fill="#3d3d3d"/><rect x="97.00" y="155.20" width="8.80" height="9.00" fill="#595959"/><rect x="105.50" y="155.20" width="8.80" height="9.00" fill="#848484"/><rect x="114.00" y="155.20" width="8.80" height="9.00" fill="#a0a0a0"/><rect x="122.50" y="155.20" width="8.80" height="9.00" fill="#a0a0a0"/><rect x="131.00" y="155.20" width="8.80" height="9.00" fill="#848484"/><rect x="139.50" y="155.20" width="8.80" height="9.00" fill="#767676"/><rect x="148.00" y="155.20" width="8.80" height="9.00" fill="#676767"/><rect x="156.50" y="155.20" width="8.80" height="9.00" fill="#595959"/><rect x="165.00" y="155.20" width="8.80" height="9.00" fill="#4b4b4b"/><rect x="173.50" y="155.20" width="8.80" height="9.00" fill="#4b4b4b"/><rect x="182.00" y="155.20" width="8.80" height="9.00" fill="#3d3d3d"/><rect x="190.50" y="155.20" width="8.80" height="9.00" fill="#3d3d3d"/><rect x="199.00" y="155.20" width="8.80" height="9.00" fill="#3d3d3d"/><rect x="207.50" y="155.20" width="8.80" height="9.00" fill="#3d3d3d"/><rect x="12.00" y="163.90" width="8.80" height="9.00" fill="#cbcbcb"/><rect x="20.50" y="163.90" width="8.80" height="9.00" fill="#cbcbcb"/><rect x="29.00" y="163.90" width="8.80" height="9.00" fill="#cbcbcb"/><rect x="37.50" y="163.90" width="8.80" height="9.00" fill="#848484"/><rect x="46.00" y="163.90" width="8.80" height="9.00" fill="#767676"/><rect x="54.50" y="163.90" width="8.80" height="9.00" fill="#595959"/><rect x="63.00" y="163.90" width="8.80" height="9.00" fill="#2f2f2f"/><rect x="71.50" y="163.90" width="8.80" height="9.00" fill="#2f2f2f"/><rect x="80.00" y="163.90" width="8.80" height="9.00" fill="#3d3d3d"/><rect x="88.50" y="163.90" width="8.80" height="9.00" fill="#595959"/><rect x="97.00" y="163.90" width="8.80" height="9.00" fill="#767676"/><rect x="105.50" y="163.90" width="8.80" height="9.00" fill="#929292"/><rect x="114.00" y="163.90" width="8.80" height="9.00" fill="#aeaeae"/><rect x="122.50" y="163.90" width="8.80" height="9.00" fill="#929292"/><rect x="131.00" y="163.90" width="8.80" height="9.00" fill="#848484"/><rect x="139.50" y="163.90" width="8.80" height="9.00" fill="#767676"/><rect x="148.00" y="163.90" width="8.80" height="9.00" fill="#595959"/><rect x="156.50" y="163.90" width="8.80" height="9.00" fill="#676767"/><rect x="165.00" y="163.90" width="8.80" height="9.00" fill="#676767"/><rect x="173.50" y="163.90" width="8.80" height="9.00" fill="#595959"/><rect x="182.00" y="163.90" width="8.80" height="9.00" fill="#4b4b4b"/><rect x="190.50" y="163.90" width="8.80" height="9.00" fill="#3d3d3d"/><rect x="199.00" y="163.90" width="8.80" height="9.00" fill="#3d3d3d"/><rect x="207.50" y="163.90" width="8.80" height="9.00" fill="#3d3d3d"/><rect x="12.00" y="172.60" width="8.80" height="9.00" fill="#aeaeae"/><rect x="20.50" y="172.60" width="8.80" height="9.00" fill="#aeaeae"/><rect x="29.00" y="172.60" width="8.80" height="9.00" fill="#aeaeae"/><rect x="37.50" y="172.60" width="8.80" height="9.00" fill="#848484"/><rect x="46.00" y="172.60" width="8.80" height="9.00" fill="#767676"/><rect x="54.50" y="172.60" width="8.80" height="9.00" fill="#595959"/><rect x="63.00" y="172.60" width="8.80" height="9.00" fill="#3d3d3d"/><rect x="71.50" y="172.60" width="8.80" height="9.00" fill="#2f2f2f"/><rect x="80.00" y="172.60" width="8.80" height="9.00" fill="#4b4b4b"/><rect x="88.50" y="172.60" width="8.80" height="9.00" fill="#595959"/><rect x="97.00" y="172.60" width="8.80" height="9.00" fill="#767676"/><rect x="105.50" y="172.60" width="8.80" height="9.00" fill="#929292"/><rect x="114.00" y="172.60" width="8.80" height="9.00" fill="#a0a0a0"/><rect x="122.50" y="172.60" width="8.80" height="9.00" fill="#848484"/><rect x="131.00" y="172.60" width="8.80" height="9.00" fill="#848484"/><rect x="139.50" y="172.60" width="8.80" height="9.00" fill="#767676"/><rect x="148.00" y="172.60" width="8.80" height="9.00" fill="#676767"/><rect x="156.50" y="172.60" width="8.80" height="9.00" fill="#676767"/><rect x="165.00" y="172.60" width="8.80" height="9.00" fill="#676767"/><rect x="173.50" y="172.60" width="8.80" height="9.00" fill="#595959"/><rect x="182.00" y="172.60" width="8.80" height="9.00" fill="#4b4b4b"/><rect x="190.50" y="172.60" width="8.80" height="9.00" fill="#3d3d3d"/><rect x="199.00" y="172.60" width="8.80" height="9.00" fill="#3d3d3d"/><rect x="207.50" y="172.60" width="8.80" height="9.00" fill="#3d3d3d"/><rect x="12.00" y="181.30" width="8.80" height="9.00" fill="#a0a0a0"/><rect x="20.50" y="181.30" width="8.80" height="9.00" fill="#a0a0a0"/><rect x="29.00" y="181.30" width="8.80" height="9.00" fill="#a0a0a0"/><rect x="37.50" y="181.30" width="8.80" height="9.00" fill="#848484"/><rect x="46.00" y="181.30" width="8.80" height="9.00" fill="#676767"/><rect x="54.50" y="181.30" width="8.80" height="9.00" fill="#595959"/><rect x="63.00" y="181.30" width="8.80" height="9.00" fill="#4b4b4b"/><rect x="71.50" y="181.30" width="8.80" height="9.00" fill="#3d3d3d"/><rect x="80.00" y="181.30" width="8.80" height="9.00" fill="#4b4b4b"/><rect x="88.50" y="181.30" width="8.80" height="9.00" fill="#595959"/><rect x="97.00" y="181.30" width="8.80" height="9.00" fill="#767676"/><rect x="105.50" y="181.30" width="8.80" height="9.00" fill="#929292"/><rect x="114.00" y="181.30" width="8.80" height="9.00" fill="#929292"/><rect x="122.50" y="181.30" width="8.80" height="9.00" fill="#848484"/><rect x="131.00" y="181.30" width="8.80" height="9.00" fill="#848484"/><rect x="139.50" y="181.30" width="8.80" height="9.00" fill="#767676"/><rect x="148.00" y="181.30" width="8.80" height="9.00" fill="#676767"/><rect x="156.50" y="181.30" width="8.80" height="9.00" fill="#676767"/><rect x="165.00" y="181.30" width="8.80" height="9.00" fill="#676767"/><rect x="173.50" y="181.30" width="8.80" height="9.00" fill="#595959"/><rect x="182.00" y="181.30" width="8.80" height="9.00" fill="#4b4b4b"/><rect x="190.50" y="181.30" width="8.80" height="9.00" fill="#3d3d3d"/><rect x="199.00" y="181.30" width="8.80" height="9.00" fill="#3d3d3d"/><rect x="207.50" y="181.30" width="8.80" height="9.00" fill="#3d3d3d"/><rect x="12.00" y="190.00" width="8.80" height="9.00" fill="#a0a0a0"/><rect x="20.50" y="190.00" width="8.80" height="9.00" fill="#a0a0a0"/><rect x="29.00" y="190.00" width="8.80" height="9.00" fill="#a0a0a0"/><rect x="37.50" y="190.00" width="8.80" height="9.00" fill="#848484"/><rect x="46.00" y="190.00" width="8.80" height="9.00" fill="#676767"/><rect x="54.50" y="190.00" width="8.80" height="9.00" fill="#595959"/><rect x="63.00" y="190.00" width="8.80" height="9.00" fill="#4b4b4b"/><rect x="71.50" y="190.00" width="8.80" height="9.00" fill="#3d3d3d"/><rect x="80.00" y="190.00" width="8.80" height="9.00" fill="#4b4b4b"/><rect x="88.50" y="190.00" width="8.80" height="9.00" fill="#595959"/><rect x="97.00" y="190.00" width="8.80" height="9.00" fill="#767676"/><rect x="105.50" y="190.00" width="8.80" height="9.00" fill="#929292"/><rect x="114.00" y="190.00" width="8.80" height="9.00" fill="#929292"/><rect x="122.50" y="190.00" width="8.80" height="9.00" fill="#848484"/><rect x="131.00" y="190.00" width="8.80" height="9.00" fill="#848484"/><rect x="139.50" y="190.00" width="8.80" height="9.00" fill="#767676"/><rect x="148.00" y="190.00" width="8.80" height="9.00" fill="#676767"/><rect x="156.50" y="190.00" width="8.80" height="9.00" fill="#676767"/><rect x="165.00" y="190.00" width="8.80" height="9.00" fill="#676767"/><rect x="173.50" y="190.00" width="8.80" height="9.00" fill="#595959"/><rect x="182.00" y="190.00" width="8.80" height="9.00" fill="#4b4b4b"/><rect x="190.50" y="190.00" width="8.80" height="9.00" fill="#3d3d3d"/><rect x="199.00" y="190.00" width="8.80" height="9.00" fill="#3d3d3d"/><rect x="207.50" y="190.00" width="8.80" height="9.00" fill="#3d3d3d"/><rect x="12.00" y="198.70" width="8.80" height="9.00" fill="#a0a0a0"/><rect x="20.50" y="198.70" width="8.80" height="9.00" fill="#a0a0a0"/><rect x="29.00" y="198.70" width="8.80" height="9.00" fill="#a0a0a0"/><rect x="37.50" y="198.70" width="8.80" height="9.00" fill="#848484"/><rect x="46.00" y="198.70" width="8.80" height="9.00" fill="#676767"/><rect x="54.50" y="198.70" width="8.80" height="9.00" fill="#595959"/><rect x="63.00" y="198.70" width="8.80" height="9.00" fill="#4b4b4b"/><rect x="71.50" y="198.70" width="8.80" height="9.00" fill="#3d3d3d"/><rect x="80.00" y="198.70" width="8.80" height="9.00" fill="#4b4b4b"/><rect x="88.50" y="198.70" width="8.80" height="9.00" fill="#595959"/><rect x="97.00" y="198.70" width="8.80" height="9.00" fill="#767676"/><rect x="105.50" y="198.70" width="8.80" height="9.00" fill="#929292"/><rect x="114.00" y="198.70" width="8.80" height="9.00" fill="#929292"/><rect x="122.50" y="198.70" width="8.80" height="9.00" fill="#848484"/><rect x="131.00" y="198.70" width="8.80" height="9.00" fill="#848484"/><rect x="139.50" y="198.70" width="8.80" height="9.00" fill="#767676"/><rect x="148.00" y="198.70" width="8.80" height="9.00" fill="#676767"/><rect x="156.50" y="198.70" width="8.80" height="9.00" fill="#676767"/><rect x="165.00" y="198.70" width="8.80" height="9.00" fill="#676767"/><rect x="173.50" y="198.70" width="8.80" height="9.00" fill="#595959"/><rect x="182.00" y="198.70" width="8.80" height="9.00" fill="#4b4b4b"/><rect x="190.50" y="198.70" width="8.80" height="9.00" fill="#3d3d3d"/><rect x="199.00" y="198.70" width="8.80" height="9.00" fill="#3d3d3d"/><rect x="207.50" y="198.70" width="8.80" height="9.00" fill="#3d3d3d"/></g>
</g>
<rect x="42" y="181" width="31" height="2.2" fill="#f0f0f0"/>
<text x="43.5" y="178" style="font-family:'Liberation Sans',sans-serif;font-size:7.6px" fill="#f0f0f0" text-anchor="start" >400 nm</text>
<rect x="223.0" y="59.0" width="11" height="88.5" fill="url(#afmgrad)" stroke="#3a3a3a" stroke-width="1"/>
<text x="207" y="57.5" style="font-family:'Liberation Sans',sans-serif;font-size:10px" fill="#333" text-anchor="start" >118.8 nm</text>
<text x="205" y="157.0" style="font-family:'Liberation Sans',sans-serif;font-size:10px" fill="#333" text-anchor="start" >-118.4 nm</text>
<clipPath id="afmclip1"><rect x="259" y="16" width="170" height="173"/></clipPath>
<g clip-path="url(#afmclip1)"><g filter="url(#afmf1)"><rect x="242.00" y="-1.30" width="8.80" height="8.95" fill="#454545"/><rect x="250.50" y="-1.30" width="8.80" height="8.95" fill="#454545"/><rect x="259.00" y="-1.30" width="8.80" height="8.95" fill="#454545"/><rect x="267.50" y="-1.30" width="8.80" height="8.95" fill="#545454"/><rect x="276.00" y="-1.30" width="8.80" height="8.95" fill="#454545"/><rect x="284.50" y="-1.30" width="8.80" height="8.95" fill="#545454"/><rect x="293.00" y="-1.30" width="8.80" height="8.95" fill="#8e8e8e"/><rect x="301.50" y="-1.30" width="8.80" height="8.95" fill="#626262"/><rect x="310.00" y="-1.30" width="8.80" height="8.95" fill="#454545"/><rect x="318.50" y="-1.30" width="8.80" height="8.95" fill="#373737"/><rect x="327.00" y="-1.30" width="8.80" height="8.95" fill="#292929"/><rect x="335.50" y="-1.30" width="8.80" height="8.95" fill="#292929"/><rect x="344.00" y="-1.30" width="8.80" height="8.95" fill="#373737"/><rect x="352.50" y="-1.30" width="8.80" height="8.95" fill="#454545"/><rect x="361.00" y="-1.30" width="8.80" height="8.95" fill="#626262"/><rect x="369.50" y="-1.30" width="8.80" height="8.95" fill="#454545"/><rect x="378.00" y="-1.30" width="8.80" height="8.95" fill="#454545"/><rect x="386.50" y="-1.30" width="8.80" height="8.95" fill="#292929"/><rect x="395.00" y="-1.30" width="8.80" height="8.95" fill="#292929"/><rect x="403.50" y="-1.30" width="8.80" height="8.95" fill="#373737"/><rect x="412.00" y="-1.30" width="8.80" height="8.95" fill="#8e8e8e"/><rect x="420.50" y="-1.30" width="8.80" height="8.95" fill="#626262"/><rect x="429.00" y="-1.30" width="8.80" height="8.95" fill="#626262"/><rect x="437.50" y="-1.30" width="8.80" height="8.95" fill="#626262"/><rect x="242.00" y="7.35" width="8.80" height="8.95" fill="#454545"/><rect x="250.50" y="7.35" width="8.80" height="8.95" fill="#454545"/><rect x="259.00" y="7.35" width="8.80" height="8.95" fill="#454545"/><rect x="267.50" y="7.35" width="8.80" height="8.95" fill="#545454"/><rect x="276.00" y="7.35" width="8.80" height="8.95" fill="#454545"/><rect x="284.50" y="7.35" width="8.80" height="8.95" fill="#545454"/><rect x="293.00" y="7.35" width="8.80" height="8.95" fill="#8e8e8e"/><rect x="301.50" y="7.35" width="8.80" height="8.95" fill="#626262"/><rect x="310.00" y="7.35" width="8.80" height="8.95" fill="#454545"/><rect x="318.50" y="7.35" width="8.80" height="8.95" fill="#373737"/><rect x="327.00" y="7.35" width="8.80" height="8.95" fill="#292929"/><rect x="335.50" y="7.35" width="8.80" height="8.95" fill="#292929"/><rect x="344.00" y="7.35" width="8.80" height="8.95" fill="#373737"/><rect x="352.50" y="7.35" width="8.80" height="8.95" fill="#454545"/><rect x="361.00" y="7.35" width="8.80" height="8.95" fill="#626262"/><rect x="369.50" y="7.35" width="8.80" height="8.95" fill="#454545"/><rect x="378.00" y="7.35" width="8.80" height="8.95" fill="#454545"/><rect x="386.50" y="7.35" width="8.80" height="8.95" fill="#292929"/><rect x="395.00" y="7.35" width="8.80" height="8.95" fill="#292929"/><rect x="403.50" y="7.35" width="8.80" height="8.95" fill="#373737"/><rect x="412.00" y="7.35" width="8.80" height="8.95" fill="#8e8e8e"/><rect x="420.50" y="7.35" width="8.80" height="8.95" fill="#626262"/><rect x="429.00" y="7.35" width="8.80" height="8.95" fill="#626262"/><rect x="437.50" y="7.35" width="8.80" height="8.95" fill="#626262"/><rect x="242.00" y="16.00" width="8.80" height="8.95" fill="#454545"/><rect x="250.50" y="16.00" width="8.80" height="8.95" fill="#454545"/><rect x="259.00" y="16.00" width="8.80" height="8.95" fill="#454545"/><rect x="267.50" y="16.00" width="8.80" height="8.95" fill="#545454"/><rect x="276.00" y="16.00" width="8.80" height="8.95" fill="#454545"/><rect x="284.50" y="16.00" width="8.80" height="8.95" fill="#545454"/><rect x="293.00" y="16.00" width="8.80" height="8.95" fill="#8e8e8e"/><rect x="301.50" y="16.00" width="8.80" height="8.95" fill="#626262"/><rect x="310.00" y="16.00" width="8.80" height="8.95" fill="#454545"/><rect x="318.50" y="16.00" width="8.80" height="8.95" fill="#373737"/><rect x="327.00" y="16.00" width="8.80" height="8.95" fill="#292929"/><rect x="335.50" y="16.00" width="8.80" height="8.95" fill="#292929"/><rect x="344.00" y="16.00" width="8.80" height="8.95" fill="#373737"/><rect x="352.50" y="16.00" width="8.80" height="8.95" fill="#454545"/><rect x="361.00" y="16.00" width="8.80" height="8.95" fill="#626262"/><rect x="369.50" y="16.00" width="8.80" height="8.95" fill="#454545"/><rect x="378.00" y="16.00" width="8.80" height="8.95" fill="#454545"/><rect x="386.50" y="16.00" width="8.80" height="8.95" fill="#292929"/><rect x="395.00" y="16.00" width="8.80" height="8.95" fill="#292929"/><rect x="403.50" y="16.00" width="8.80" height="8.95" fill="#373737"/><rect x="412.00" y="16.00" width="8.80" height="8.95" fill="#8e8e8e"/><rect x="420.50" y="16.00" width="8.80" height="8.95" fill="#626262"/><rect x="429.00" y="16.00" width="8.80" height="8.95" fill="#626262"/><rect x="437.50" y="16.00" width="8.80" height="8.95" fill="#626262"/><rect x="242.00" y="24.65" width="8.80" height="8.95" fill="#545454"/><rect x="250.50" y="24.65" width="8.80" height="8.95" fill="#545454"/><rect x="259.00" y="24.65" width="8.80" height="8.95" fill="#545454"/><rect x="267.50" y="24.65" width="8.80" height="8.95" fill="#454545"/><rect x="276.00" y="24.65" width="8.80" height="8.95" fill="#545454"/><rect x="284.50" y="24.65" width="8.80" height="8.95" fill="#8e8e8e"/><rect x="293.00" y="24.65" width="8.80" height="8.95" fill="#808080"/><rect x="301.50" y="24.65" width="8.80" height="8.95" fill="#545454"/><rect x="310.00" y="24.65" width="8.80" height="8.95" fill="#373737"/><rect x="318.50" y="24.65" width="8.80" height="8.95" fill="#292929"/><rect x="327.00" y="24.65" width="8.80" height="8.95" fill="#292929"/><rect x="335.50" y="24.65" width="8.80" height="8.95" fill="#373737"/><rect x="344.00" y="24.65" width="8.80" height="8.95" fill="#292929"/><rect x="352.50" y="24.65" width="8.80" height="8.95" fill="#454545"/><rect x="361.00" y="24.65" width="8.80" height="8.95" fill="#626262"/><rect x="369.50" y="24.65" width="8.80" height="8.95" fill="#454545"/><rect x="378.00" y="24.65" width="8.80" height="8.95" fill="#545454"/><rect x="386.50" y="24.65" width="8.80" height="8.95" fill="#292929"/><rect x="395.00" y="24.65" width="8.80" height="8.95" fill="#373737"/><rect x="403.50" y="24.65" width="8.80" height="8.95" fill="#292929"/><rect x="412.00" y="24.65" width="8.80" height="8.95" fill="#626262"/><rect x="420.50" y="24.65" width="8.80" height="8.95" fill="#808080"/><rect x="429.00" y="24.65" width="8.80" height="8.95" fill="#808080"/><rect x="437.50" y="24.65" width="8.80" height="8.95" fill="#808080"/><rect x="242.00" y="33.30" width="8.80" height="8.95" fill="#545454"/><rect x="250.50" y="33.30" width="8.80" height="8.95" fill="#545454"/><rect x="259.00" y="33.30" width="8.80" height="8.95" fill="#545454"/><rect x="267.50" y="33.30" width="8.80" height="8.95" fill="#454545"/><rect x="276.00" y="33.30" width="8.80" height="8.95" fill="#454545"/><rect x="284.50" y="33.30" width="8.80" height="8.95" fill="#626262"/><rect x="293.00" y="33.30" width="8.80" height="8.95" fill="#454545"/><rect x="301.50" y="33.30" width="8.80" height="8.95" fill="#454545"/><rect x="310.00" y="33.30" width="8.80" height="8.95" fill="#454545"/><rect x="318.50" y="33.30" width="8.80" height="8.95" fill="#545454"/><rect x="327.00" y="33.30" width="8.80" height="8.95" fill="#292929"/><rect x="335.50" y="33.30" width="8.80" height="8.95" fill="#292929"/><rect x="344.00" y="33.30" width="8.80" height="8.95" fill="#373737"/><rect x="352.50" y="33.30" width="8.80" height="8.95" fill="#454545"/><rect x="361.00" y="33.30" width="8.80" height="8.95" fill="#454545"/><rect x="369.50" y="33.30" width="8.80" height="8.95" fill="#454545"/><rect x="378.00" y="33.30" width="8.80" height="8.95" fill="#454545"/><rect x="386.50" y="33.30" width="8.80" height="8.95" fill="#292929"/><rect x="395.00" y="33.30" width="8.80" height="8.95" fill="#292929"/><rect x="403.50" y="33.30" width="8.80" height="8.95" fill="#373737"/><rect x="412.00" y="33.30" width="8.80" height="8.95" fill="#808080"/><rect x="420.50" y="33.30" width="8.80" height="8.95" fill="#626262"/><rect x="429.00" y="33.30" width="8.80" height="8.95" fill="#626262"/><rect x="437.50" y="33.30" width="8.80" height="8.95" fill="#626262"/><rect x="242.00" y="41.95" width="8.80" height="8.95" fill="#545454"/><rect x="250.50" y="41.95" width="8.80" height="8.95" fill="#545454"/><rect x="259.00" y="41.95" width="8.80" height="8.95" fill="#545454"/><rect x="267.50" y="41.95" width="8.80" height="8.95" fill="#373737"/><rect x="276.00" y="41.95" width="8.80" height="8.95" fill="#8e8e8e"/><rect x="284.50" y="41.95" width="8.80" height="8.95" fill="#545454"/><rect x="293.00" y="41.95" width="8.80" height="8.95" fill="#454545"/><rect x="301.50" y="41.95" width="8.80" height="8.95" fill="#8e8e8e"/><rect x="310.00" y="41.95" width="8.80" height="8.95" fill="#454545"/><rect x="318.50" y="41.95" width="8.80" height="8.95" fill="#545454"/><rect x="327.00" y="41.95" width="8.80" height="8.95" fill="#292929"/><rect x="335.50" y="41.95" width="8.80" height="8.95" fill="#454545"/><rect x="344.00" y="41.95" width="8.80" height="8.95" fill="#626262"/><rect x="352.50" y="41.95" width="8.80" height="8.95" fill="#454545"/><rect x="361.00" y="41.95" width="8.80" height="8.95" fill="#454545"/><rect x="369.50" y="41.95" width="8.80" height="8.95" fill="#454545"/><rect x="378.00" y="41.95" width="8.80" height="8.95" fill="#626262"/><rect x="386.50" y="41.95" width="8.80" height="8.95" fill="#8e8e8e"/><rect x="395.00" y="41.95" width="8.80" height="8.95" fill="#373737"/><rect x="403.50" y="41.95" width="8.80" height="8.95" fill="#292929"/><rect x="412.00" y="41.95" width="8.80" height="8.95" fill="#454545"/><rect x="420.50" y="41.95" width="8.80" height="8.95" fill="#545454"/><rect x="429.00" y="41.95" width="8.80" height="8.95" fill="#545454"/><rect x="437.50" y="41.95" width="8.80" height="8.95" fill="#545454"/><rect x="242.00" y="50.60" width="8.80" height="8.95" fill="#454545"/><rect x="250.50" y="50.60" width="8.80" height="8.95" fill="#454545"/><rect x="259.00" y="50.60" width="8.80" height="8.95" fill="#454545"/><rect x="267.50" y="50.60" width="8.80" height="8.95" fill="#454545"/><rect x="276.00" y="50.60" width="8.80" height="8.95" fill="#454545"/><rect x="284.50" y="50.60" width="8.80" height="8.95" fill="#454545"/><rect x="293.00" y="50.60" width="8.80" height="8.95" fill="#454545"/><rect x="301.50" y="50.60" width="8.80" height="8.95" fill="#9c9c9c"/><rect x="310.00" y="50.60" width="8.80" height="8.95" fill="#454545"/><rect x="318.50" y="50.60" width="8.80" height="8.95" fill="#292929"/><rect x="327.00" y="50.60" width="8.80" height="8.95" fill="#545454"/><rect x="335.50" y="50.60" width="8.80" height="8.95" fill="#373737"/><rect x="344.00" y="50.60" width="8.80" height="8.95" fill="#808080"/><rect x="352.50" y="50.60" width="8.80" height="8.95" fill="#545454"/><rect x="361.00" y="50.60" width="8.80" height="8.95" fill="#454545"/><rect x="369.50" y="50.60" width="8.80" height="8.95" fill="#454545"/><rect x="378.00" y="50.60" width="8.80" height="8.95" fill="#626262"/><rect x="386.50" y="50.60" width="8.80" height="8.95" fill="#9c9c9c"/><rect x="395.00" y="50.60" width="8.80" height="8.95" fill="#8e8e8e"/><rect x="403.50" y="50.60" width="8.80" height="8.95" fill="#292929"/><rect x="412.00" y="50.60" width="8.80" height="8.95" fill="#373737"/><rect x="420.50" y="50.60" width="8.80" height="8.95" fill="#454545"/><rect x="429.00" y="50.60" width="8.80" height="8.95" fill="#454545"/><rect x="437.50" y="50.60" width="8.80" height="8.95" fill="#454545"/><rect x="242.00" y="59.25" width="8.80" height="8.95" fill="#808080"/><rect x="250.50" y="59.25" width="8.80" height="8.95" fill="#808080"/><rect x="259.00" y="59.25" width="8.80" height="8.95" fill="#808080"/><rect x="267.50" y="59.25" width="8.80" height="8.95" fill="#545454"/><rect x="276.00" y="59.25" width="8.80" height="8.95" fill="#454545"/><rect x="284.50" y="59.25" width="8.80" height="8.95" fill="#626262"/><rect x="293.00" y="59.25" width="8.80" height="8.95" fill="#626262"/><rect x="301.50" y="59.25" width="8.80" height="8.95" fill="#9c9c9c"/><rect x="310.00" y="59.25" width="8.80" height="8.95" fill="#454545"/><rect x="318.50" y="59.25" width="8.80" height="8.95" fill="#292929"/><rect x="327.00" y="59.25" width="8.80" height="8.95" fill="#454545"/><rect x="335.50" y="59.25" width="8.80" height="8.95" fill="#626262"/><rect x="344.00" y="59.25" width="8.80" height="8.95" fill="#454545"/><rect x="352.50" y="59.25" width="8.80" height="8.95" fill="#9c9c9c"/><rect x="361.00" y="59.25" width="8.80" height="8.95" fill="#545454"/><rect x="369.50" y="59.25" width="8.80" height="8.95" fill="#454545"/><rect x="378.00" y="59.25" width="8.80" height="8.95" fill="#545454"/><rect x="386.50" y="59.25" width="8.80" height="8.95" fill="#9c9c9c"/><rect x="395.00" y="59.25" width="8.80" height="8.95" fill="#8e8e8e"/><rect x="403.50" y="59.25" width="8.80" height="8.95" fill="#292929"/><rect x="412.00" y="59.25" width="8.80" height="8.95" fill="#454545"/><rect x="420.50" y="59.25" width="8.80" height="8.95" fill="#808080"/><rect x="429.00" y="59.25" width="8.80" height="8.95" fill="#808080"/><rect x="437.50" y="59.25" width="8.80" height="8.95" fill="#808080"/><rect x="242.00" y="67.90" width="8.80" height="8.95" fill="#626262"/><rect x="250.50" y="67.90" width="8.80" height="8.95" fill="#626262"/><rect x="259.00" y="67.90" width="8.80" height="8.95" fill="#626262"/><rect x="267.50" y="67.90" width="8.80" height="8.95" fill="#545454"/><rect x="276.00" y="67.90" width="8.80" height="8.95" fill="#454545"/><rect x="284.50" y="67.90" width="8.80" height="8.95" fill="#626262"/><rect x="293.00" y="67.90" width="8.80" height="8.95" fill="#626262"/><rect x="301.50" y="67.90" width="8.80" height="8.95" fill="#808080"/><rect x="310.00" y="67.90" width="8.80" height="8.95" fill="#454545"/><rect x="318.50" y="67.90" width="8.80" height="8.95" fill="#292929"/><rect x="327.00" y="67.90" width="8.80" height="8.95" fill="#292929"/><rect x="335.50" y="67.90" width="8.80" height="8.95" fill="#292929"/><rect x="344.00" y="67.90" width="8.80" height="8.95" fill="#292929"/><rect x="352.50" y="67.90" width="8.80" height="8.95" fill="#454545"/><rect x="361.00" y="67.90" width="8.80" height="8.95" fill="#373737"/><rect x="369.50" y="67.90" width="8.80" height="8.95" fill="#454545"/><rect x="378.00" y="67.90" width="8.80" height="8.95" fill="#454545"/><rect x="386.50" y="67.90" width="8.80" height="8.95" fill="#8e8e8e"/><rect x="395.00" y="67.90" width="8.80" height="8.95" fill="#8e8e8e"/><rect x="403.50" y="67.90" width="8.80" height="8.95" fill="#292929"/><rect x="412.00" y="67.90" width="8.80" height="8.95" fill="#454545"/><rect x="420.50" y="67.90" width="8.80" height="8.95" fill="#808080"/><rect x="429.00" y="67.90" width="8.80" height="8.95" fill="#808080"/><rect x="437.50" y="67.90" width="8.80" height="8.95" fill="#808080"/><rect x="242.00" y="76.55" width="8.80" height="8.95" fill="#808080"/><rect x="250.50" y="76.55" width="8.80" height="8.95" fill="#808080"/><rect x="259.00" y="76.55" width="8.80" height="8.95" fill="#808080"/><rect x="267.50" y="76.55" width="8.80" height="8.95" fill="#454545"/><rect x="276.00" y="76.55" width="8.80" height="8.95" fill="#8e8e8e"/><rect x="284.50" y="76.55" width="8.80" height="8.95" fill="#8e8e8e"/><rect x="293.00" y="76.55" width="8.80" height="8.95" fill="#808080"/><rect x="301.50" y="76.55" width="8.80" height="8.95" fill="#545454"/><rect x="310.00" y="76.55" width="8.80" height="8.95" fill="#454545"/><rect x="318.50" y="76.55" width="8.80" height="8.95" fill="#292929"/><rect x="327.00" y="76.55" width="8.80" height="8.95" fill="#292929"/><rect x="335.50" y="76.55" width="8.80" height="8.95" fill="#373737"/><rect x="344.00" y="76.55" width="8.80" height="8.95" fill="#454545"/><rect x="352.50" y="76.55" width="8.80" height="8.95" fill="#454545"/><rect x="361.00" y="76.55" width="8.80" height="8.95" fill="#454545"/><rect x="369.50" y="76.55" width="8.80" height="8.95" fill="#454545"/><rect x="378.00" y="76.55" width="8.80" height="8.95" fill="#545454"/><rect x="386.50" y="76.55" width="8.80" height="8.95" fill="#808080"/><rect x="395.00" y="76.55" width="8.80" height="8.95" fill="#8e8e8e"/><rect x="403.50" y="76.55" width="8.80" height="8.95" fill="#373737"/><rect x="412.00" y="76.55" width="8.80" height="8.95" fill="#626262"/><rect x="420.50" y="76.55" width="8.80" height="8.95" fill="#8e8e8e"/><rect x="429.00" y="76.55" width="8.80" height="8.95" fill="#8e8e8e"/><rect x="437.50" y="76.55" width="8.80" height="8.95" fill="#8e8e8e"/><rect x="242.00" y="85.20" width="8.80" height="8.95" fill="#545454"/><rect x="250.50" y="85.20" width="8.80" height="8.95" fill="#545454"/><rect x="259.00" y="85.20" width="8.80" height="8.95" fill="#545454"/><rect x="267.50" y="85.20" width="8.80" height="8.95" fill="#454545"/><rect x="276.00" y="85.20" width="8.80" height="8.95" fill="#808080"/><rect x="284.50" y="85.20" width="8.80" height="8.95" fill="#9c9c9c"/><rect x="293.00" y="85.20" width="8.80" height="8.95" fill="#808080"/><rect x="301.50" y="85.20" width="8.80" height="8.95" fill="#808080"/><rect x="310.00" y="85.20" width="8.80" height="8.95" fill="#9c9c9c"/><rect x="318.50" y="85.20" width="8.80" height="8.95" fill="#454545"/><rect x="327.00" y="85.20" width="8.80" height="8.95" fill="#292929"/><rect x="335.50" y="85.20" width="8.80" height="8.95" fill="#8e8e8e"/><rect x="344.00" y="85.20" width="8.80" height="8.95" fill="#8e8e8e"/><rect x="352.50" y="85.20" width="8.80" height="8.95" fill="#626262"/><rect x="361.00" y="85.20" width="8.80" height="8.95" fill="#454545"/><rect x="369.50" y="85.20" width="8.80" height="8.95" fill="#454545"/><rect x="378.00" y="85.20" width="8.80" height="8.95" fill="#626262"/><rect x="386.50" y="85.20" width="8.80" height="8.95" fill="#808080"/><rect x="395.00" y="85.20" width="8.80" height="8.95" fill="#9c9c9c"/><rect x="403.50" y="85.20" width="8.80" height="8.95" fill="#373737"/><rect x="412.00" y="85.20" width="8.80" height="8.95" fill="#454545"/><rect x="420.50" y="85.20" width="8.80" height="8.95" fill="#454545"/><rect x="429.00" y="85.20" width="8.80" height="8.95" fill="#454545"/><rect x="437.50" y="85.20" width="8.80" height="8.95" fill="#454545"/><rect x="242.00" y="93.85" width="8.80" height="8.95" fill="#545454"/><rect x="250.50" y="93.85" width="8.80" height="8.95" fill="#545454"/><rect x="259.00" y="93.85" width="8.80" height="8.95" fill="#545454"/><rect x="267.50" y="93.85" width="8.80" height="8.95" fill="#545454"/><rect x="276.00" y="93.85" width="8.80" height="8.95" fill="#454545"/><rect x="284.50" y="93.85" width="8.80" height="8.95" fill="#545454"/><rect x="293.00" y="93.85" width="8.80" height="8.95" fill="#454545"/><rect x="301.50" y="93.85" width="8.80" height="8.95" fill="#545454"/><rect x="310.00" y="93.85" width="8.80" height="8.95" fill="#808080"/><rect x="318.50" y="93.85" width="8.80" height="8.95" fill="#454545"/><rect x="327.00" y="93.85" width="8.80" height="8.95" fill="#292929"/><rect x="335.50" y="93.85" width="8.80" height="8.95" fill="#626262"/><rect x="344.00" y="93.85" width="8.80" height="8.95" fill="#808080"/><rect x="352.50" y="93.85" width="8.80" height="8.95" fill="#626262"/><rect x="361.00" y="93.85" width="8.80" height="8.95" fill="#454545"/><rect x="369.50" y="93.85" width="8.80" height="8.95" fill="#454545"/><rect x="378.00" y="93.85" width="8.80" height="8.95" fill="#545454"/><rect x="386.50" y="93.85" width="8.80" height="8.95" fill="#808080"/><rect x="395.00" y="93.85" width="8.80" height="8.95" fill="#8e8e8e"/><rect x="403.50" y="93.85" width="8.80" height="8.95" fill="#373737"/><rect x="412.00" y="93.85" width="8.80" height="8.95" fill="#373737"/><rect x="420.50" y="93.85" width="8.80" height="8.95" fill="#373737"/><rect x="429.00" y="93.85" width="8.80" height="8.95" fill="#373737"/><rect x="437.50" y="93.85" width="8.80" height="8.95" fill="#373737"/><rect x="242.00" y="102.50" width="8.80" height="8.95" fill="#545454"/><rect x="250.50" y="102.50" width="8.80" height="8.95" fill="#545454"/><rect x="259.00" y="102.50" width="8.80" height="8.95" fill="#545454"/><rect x="267.50" y="102.50" width="8.80" height="8.95" fill="#454545"/><rect x="276.00" y="102.50" width="8.80" height="8.95" fill="#626262"/><rect x="284.50" y="102.50" width="8.80" height="8.95" fill="#454545"/><rect x="293.00" y="102.50" width="8.80" height="8.95" fill="#454545"/><rect x="301.50" y="102.50" width="8.80" height="8.95" fill="#373737"/><rect x="310.00" y="102.50" width="8.80" height="8.95" fill="#373737"/><rect x="318.50" y="102.50" width="8.80" height="8.95" fill="#373737"/><rect x="327.00" y="102.50" width="8.80" height="8.95" fill="#9c9c9c"/><rect x="335.50" y="102.50" width="8.80" height="8.95" fill="#454545"/><rect x="344.00" y="102.50" width="8.80" height="8.95" fill="#373737"/><rect x="352.50" y="102.50" width="8.80" height="8.95" fill="#454545"/><rect x="361.00" y="102.50" width="8.80" height="8.95" fill="#545454"/><rect x="369.50" y="102.50" width="8.80" height="8.95" fill="#454545"/><rect x="378.00" y="102.50" width="8.80" height="8.95" fill="#808080"/><rect x="386.50" y="102.50" width="8.80" height="8.95" fill="#8e8e8e"/><rect x="395.00" y="102.50" width="8.80" height="8.95" fill="#545454"/><rect x="403.50" y="102.50" width="8.80" height="8.95" fill="#626262"/><rect x="412.00" y="102.50" width="8.80" height="8.95" fill="#373737"/><rect x="420.50" y="102.50" width="8.80" height="8.95" fill="#454545"/><rect x="429.00" y="102.50" width="8.80" height="8.95" fill="#454545"/><rect x="437.50" y="102.50" width="8.80" height="8.95" fill="#454545"/><rect x="242.00" y="111.15" width="8.80" height="8.95" fill="#454545"/><rect x="250.50" y="111.15" width="8.80" height="8.95" fill="#454545"/><rect x="259.00" y="111.15" width="8.80" height="8.95" fill="#454545"/><rect x="267.50" y="111.15" width="8.80" height="8.95" fill="#545454"/><rect x="276.00" y="111.15" width="8.80" height="8.95" fill="#454545"/><rect x="284.50" y="111.15" width="8.80" height="8.95" fill="#454545"/><rect x="293.00" y="111.15" width="8.80" height="8.95" fill="#454545"/><rect x="301.50" y="111.15" width="8.80" height="8.95" fill="#373737"/><rect x="310.00" y="111.15" width="8.80" height="8.95" fill="#292929"/><rect x="318.50" y="111.15" width="8.80" height="8.95" fill="#292929"/><rect x="327.00" y="111.15" width="8.80" height="8.95" fill="#454545"/><rect x="335.50" y="111.15" width="8.80" height="8.95" fill="#454545"/><rect x="344.00" y="111.15" width="8.80" height="8.95" fill="#373737"/><rect x="352.50" y="111.15" width="8.80" height="8.95" fill="#808080"/><rect x="361.00" y="111.15" width="8.80" height="8.95" fill="#626262"/><rect x="369.50" y="111.15" width="8.80" height="8.95" fill="#808080"/><rect x="378.00" y="111.15" width="8.80" height="8.95" fill="#626262"/><rect x="386.50" y="111.15" width="8.80" height="8.95" fill="#545454"/><rect x="395.00" y="111.15" width="8.80" height="8.95" fill="#808080"/><rect x="403.50" y="111.15" width="8.80" height="8.95" fill="#808080"/><rect x="412.00" y="111.15" width="8.80" height="8.95" fill="#373737"/><rect x="420.50" y="111.15" width="8.80" height="8.95" fill="#373737"/><rect x="429.00" y="111.15" width="8.80" height="8.95" fill="#373737"/><rect x="437.50" y="111.15" width="8.80" height="8.95" fill="#373737"/><rect x="242.00" y="119.80" width="8.80" height="8.95" fill="#8e8e8e"/><rect x="250.50" y="119.80" width="8.80" height="8.95" fill="#8e8e8e"/><rect x="259.00" y="119.80" width="8.80" height="8.95" fill="#8e8e8e"/><rect x="267.50" y="119.80" width="8.80" height="8.95" fill="#808080"/><rect x="276.00" y="119.80" width="8.80" height="8.95" fill="#454545"/><rect x="284.50" y="119.80" width="8.80" height="8.95" fill="#373737"/><rect x="293.00" y="119.80" width="8.80" height="8.95" fill="#373737"/><rect x="301.50" y="119.80" width="8.80" height="8.95" fill="#373737"/><rect x="310.00" y="119.80" width="8.80" height="8.95" fill="#292929"/><rect x="318.50" y="119.80" width="8.80" height="8.95" fill="#292929"/><rect x="327.00" y="119.80" width="8.80" height="8.95" fill="#454545"/><rect x="335.50" y="119.80" width="8.80" height="8.95" fill="#454545"/><rect x="344.00" y="119.80" width="8.80" height="8.95" fill="#373737"/><rect x="352.50" y="119.80" width="8.80" height="8.95" fill="#8e8e8e"/><rect x="361.00" y="119.80" width="8.80" height="8.95" fill="#808080"/><rect x="369.50" y="119.80" width="8.80" height="8.95" fill="#545454"/><rect x="378.00" y="119.80" width="8.80" height="8.95" fill="#808080"/><rect x="386.50" y="119.80" width="8.80" height="8.95" fill="#626262"/><rect x="395.00" y="119.80" width="8.80" height="8.95" fill="#454545"/><rect x="403.50" y="119.80" width="8.80" height="8.95" fill="#373737"/><rect x="412.00" y="119.80" width="8.80" height="8.95" fill="#373737"/><rect x="420.50" y="119.80" width="8.80" height="8.95" fill="#373737"/><rect x="429.00" y="119.80" width="8.80" height="8.95" fill="#373737"/><rect x="437.50" y="119.80" width="8.80" height="8.95" fill="#373737"/><rect x="242.00" y="128.45" width="8.80" height="8.95" fill="#454545"/><rect x="250.50" y="128.45" width="8.80" height="8.95" fill="#454545"/><rect x="259.00" y="128.45" width="8.80" height="8.95" fill="#454545"/><rect x="267.50" y="128.45" width="8.80" height="8.95" fill="#454545"/><rect x="276.00" y="128.45" width="8.80" height="8.95" fill="#454545"/><rect x="284.50" y="128.45" width="8.80" height="8.95" fill="#454545"/><rect x="293.00" y="128.45" width="8.80" height="8.95" fill="#373737"/><rect x="301.50" y="128.45" width="8.80" height="8.95" fill="#292929"/><rect x="310.00" y="128.45" width="8.80" height="8.95" fill="#292929"/><rect x="318.50" y="128.45" width="8.80" height="8.95" fill="#292929"/><rect x="327.00" y="128.45" width="8.80" height="8.95" fill="#454545"/><rect x="335.50" y="128.45" width="8.80" height="8.95" fill="#454545"/><rect x="344.00" y="128.45" width="8.80" height="8.95" fill="#373737"/><rect x="352.50" y="128.45" width="8.80" height="8.95" fill="#9c9c9c"/><rect x="361.00" y="128.45" width="8.80" height="8.95" fill="#454545"/><rect x="369.50" y="128.45" width="8.80" height="8.95" fill="#373737"/><rect x="378.00" y="128.45" width="8.80" height="8.95" fill="#373737"/><rect x="386.50" y="128.45" width="8.80" height="8.95" fill="#373737"/><rect x="395.00" y="128.45" width="8.80" height="8.95" fill="#373737"/><rect x="403.50" y="128.45" width="8.80" height="8.95" fill="#373737"/><rect x="412.00" y="128.45" width="8.80" height="8.95" fill="#373737"/><rect x="420.50" y="128.45" width="8.80" height="8.95" fill="#373737"/><rect x="429.00" y="128.45" width="8.80" height="8.95" fill="#373737"/><rect x="437.50" y="128.45" width="8.80" height="8.95" fill="#373737"/><rect x="242.00" y="137.10" width="8.80" height="8.95" fill="#454545"/><rect x="250.50" y="137.10" width="8.80" height="8.95" fill="#454545"/><rect x="259.00" y="137.10" width="8.80" height="8.95" fill="#454545"/><rect x="267.50" y="137.10" width="8.80" height="8.95" fill="#545454"/><rect x="276.00" y="137.10" width="8.80" height="8.95" fill="#454545"/><rect x="284.50" y="137.10" width="8.80" height="8.95" fill="#454545"/><rect x="293.00" y="137.10" width="8.80" height="8.95" fill="#373737"/><rect x="301.50" y="137.10" width="8.80" height="8.95" fill="#292929"/><rect x="310.00" y="137.10" width="8.80" height="8.95" fill="#292929"/><rect x="318.50" y="137.10" width="8.80" height="8.95" fill="#373737"/><rect x="327.00" y="137.10" width="8.80" height="8.95" fill="#454545"/><rect x="335.50" y="137.10" width="8.80" height="8.95" fill="#454545"/><rect x="344.00" y="137.10" width="8.80" height="8.95" fill="#454545"/><rect x="352.50" y="137.10" width="8.80" height="8.95" fill="#9c9c9c"/><rect x="361.00" y="137.10" width="8.80" height="8.95" fill="#454545"/><rect x="369.50" y="137.10" width="8.80" height="8.95" fill="#292929"/><rect x="378.00" y="137.10" width="8.80" height="8.95" fill="#292929"/><rect x="386.50" y="137.10" width="8.80" height="8.95" fill="#292929"/><rect x="395.00" y="137.10" width="8.80" height="8.95" fill="#292929"/><rect x="403.50" y="137.10" width="8.80" height="8.95" fill="#373737"/><rect x="412.00" y="137.10" width="8.80" height="8.95" fill="#373737"/><rect x="420.50" y="137.10" width="8.80" height="8.95" fill="#373737"/><rect x="429.00" y="137.10" width="8.80" height="8.95" fill="#373737"/><rect x="437.50" y="137.10" width="8.80" height="8.95" fill="#373737"/><rect x="242.00" y="145.75" width="8.80" height="8.95" fill="#454545"/><rect x="250.50" y="145.75" width="8.80" height="8.95" fill="#454545"/><rect x="259.00" y="145.75" width="8.80" height="8.95" fill="#454545"/><rect x="267.50" y="145.75" width="8.80" height="8.95" fill="#454545"/><rect x="276.00" y="145.75" width="8.80" height="8.95" fill="#626262"/><rect x="284.50" y="145.75" width="8.80" height="8.95" fill="#454545"/><rect x="293.00" y="145.75" width="8.80" height="8.95" fill="#373737"/><rect x="301.50" y="145.75" width="8.80" height="8.95" fill="#373737"/><rect x="310.00" y="145.75" width="8.80" height="8.95" fill="#373737"/><rect x="318.50" y="145.75" width="8.80" height="8.95" fill="#373737"/><rect x="327.00" y="145.75" width="8.80" height="8.95" fill="#454545"/><rect x="335.50" y="145.75" width="8.80" height="8.95" fill="#454545"/><rect x="344.00" y="145.75" width="8.80" height="8.95" fill="#545454"/><rect x="352.50" y="145.75" width="8.80" height="8.95" fill="#8e8e8e"/><rect x="361.00" y="145.75" width="8.80" height="8.95" fill="#545454"/><rect x="369.50" y="145.75" width="8.80" height="8.95" fill="#292929"/><rect x="378.00" y="145.75" width="8.80" height="8.95" fill="#292929"/><rect x="386.50" y="145.75" width="8.80" height="8.95" fill="#292929"/><rect x="395.00" y="145.75" width="8.80" height="8.95" fill="#292929"/><rect x="403.50" y="145.75" width="8.80" height="8.95" fill="#373737"/><rect x="412.00" y="145.75" width="8.80" height="8.95" fill="#626262"/><rect x="420.50" y="145.75" width="8.80" height="8.95" fill="#808080"/><rect x="429.00" y="145.75" width="8.80" height="8.95" fill="#808080"/><rect x="437.50" y="145.75" width="8.80" height="8.95" fill="#808080"/><rect x="242.00" y="154.40" width="8.80" height="8.95" fill="#545454"/><rect x="250.50" y="154.40" width="8.80" height="8.95" fill="#545454"/><rect x="259.00" y="154.40" width="8.80" height="8.95" fill="#545454"/><rect x="267.50" y="154.40" width="8.80" height="8.95" fill="#454545"/><rect x="276.00" y="154.40" width="8.80" height="8.95" fill="#454545"/><rect x="284.50" y="154.40" width="8.80" height="8.95" fill="#454545"/><rect x="293.00" y="154.40" width="8.80" height="8.95" fill="#373737"/><rect x="301.50" y="154.40" width="8.80" height="8.95" fill="#373737"/><rect x="310.00" y="154.40" width="8.80" height="8.95" fill="#626262"/><rect x="318.50" y="154.40" width="8.80" height="8.95" fill="#454545"/><rect x="327.00" y="154.40" width="8.80" height="8.95" fill="#454545"/><rect x="335.50" y="154.40" width="8.80" height="8.95" fill="#454545"/><rect x="344.00" y="154.40" width="8.80" height="8.95" fill="#454545"/><rect x="352.50" y="154.40" width="8.80" height="8.95" fill="#454545"/><rect x="361.00" y="154.40" width="8.80" height="8.95" fill="#373737"/><rect x="369.50" y="154.40" width="8.80" height="8.95" fill="#373737"/><rect x="378.00" y="154.40" width="8.80" height="8.95" fill="#292929"/><rect x="386.50" y="154.40" width="8.80" height="8.95" fill="#292929"/><rect x="395.00" y="154.40" width="8.80" height="8.95" fill="#545454"/><rect x="403.50" y="154.40" width="8.80" height="8.95" fill="#808080"/><rect x="412.00" y="154.40" width="8.80" height="8.95" fill="#8e8e8e"/><rect x="420.50" y="154.40" width="8.80" height="8.95" fill="#9c9c9c"/><rect x="429.00" y="154.40" width="8.80" height="8.95" fill="#9c9c9c"/><rect x="437.50" y="154.40" width="8.80" height="8.95" fill="#9c9c9c"/><rect x="242.00" y="163.05" width="8.80" height="8.95" fill="#454545"/><rect x="250.50" y="163.05" width="8.80" height="8.95" fill="#454545"/><rect x="259.00" y="163.05" width="8.80" height="8.95" fill="#454545"/><rect x="267.50" y="163.05" width="8.80" height="8.95" fill="#626262"/><rect x="276.00" y="163.05" width="8.80" height="8.95" fill="#454545"/><rect x="284.50" y="163.05" width="8.80" height="8.95" fill="#454545"/><rect x="293.00" y="163.05" width="8.80" height="8.95" fill="#373737"/><rect x="301.50" y="163.05" width="8.80" height="8.95" fill="#454545"/><rect x="310.00" y="163.05" width="8.80" height="8.95" fill="#545454"/><rect x="318.50" y="163.05" width="8.80" height="8.95" fill="#454545"/><rect x="327.00" y="163.05" width="8.80" height="8.95" fill="#454545"/><rect x="335.50" y="163.05" width="8.80" height="8.95" fill="#373737"/><rect x="344.00" y="163.05" width="8.80" height="8.95" fill="#373737"/><rect x="352.50" y="163.05" width="8.80" height="8.95" fill="#373737"/><rect x="361.00" y="163.05" width="8.80" height="8.95" fill="#454545"/><rect x="369.50" y="163.05" width="8.80" height="8.95" fill="#454545"/><rect x="378.00" y="163.05" width="8.80" height="8.95" fill="#626262"/><rect x="386.50" y="163.05" width="8.80" height="8.95" fill="#808080"/><rect x="395.00" y="163.05" width="8.80" height="8.95" fill="#8e8e8e"/><rect x="403.50" y="163.05" width="8.80" height="8.95" fill="#626262"/><rect x="412.00" y="163.05" width="8.80" height="8.95" fill="#808080"/><rect x="420.50" y="163.05" width="8.80" height="8.95" fill="#808080"/><rect x="429.00" y="163.05" width="8.80" height="8.95" fill="#808080"/><rect x="437.50" y="163.05" width="8.80" height="8.95" fill="#808080"/><rect x="242.00" y="171.70" width="8.80" height="8.95" fill="#454545"/><rect x="250.50" y="171.70" width="8.80" height="8.95" fill="#454545"/><rect x="259.00" y="171.70" width="8.80" height="8.95" fill="#454545"/><rect x="267.50" y="171.70" width="8.80" height="8.95" fill="#454545"/><rect x="276.00" y="171.70" width="8.80" height="8.95" fill="#454545"/><rect x="284.50" y="171.70" width="8.80" height="8.95" fill="#545454"/><rect x="293.00" y="171.70" width="8.80" height="8.95" fill="#545454"/><rect x="301.50" y="171.70" width="8.80" height="8.95" fill="#454545"/><rect x="310.00" y="171.70" width="8.80" height="8.95" fill="#454545"/><rect x="318.50" y="171.70" width="8.80" height="8.95" fill="#454545"/><rect x="327.00" y="171.70" width="8.80" height="8.95" fill="#373737"/><rect x="335.50" y="171.70" width="8.80" height="8.95" fill="#373737"/><rect x="344.00" y="171.70" width="8.80" height="8.95" fill="#373737"/><rect x="352.50" y="171.70" width="8.80" height="8.95" fill="#373737"/><rect x="361.00" y="171.70" width="8.80" height="8.95" fill="#808080"/><rect x="369.50" y="171.70" width="8.80" height="8.95" fill="#454545"/><rect x="378.00" y="171.70" width="8.80" height="8.95" fill="#808080"/><rect x="386.50" y="171.70" width="8.80" height="8.95" fill="#545454"/><rect x="395.00" y="171.70" width="8.80" height="8.95" fill="#626262"/><rect x="403.50" y="171.70" width="8.80" height="8.95" fill="#545454"/><rect x="412.00" y="171.70" width="8.80" height="8.95" fill="#454545"/><rect x="420.50" y="171.70" width="8.80" height="8.95" fill="#454545"/><rect x="429.00" y="171.70" width="8.80" height="8.95" fill="#454545"/><rect x="437.50" y="171.70" width="8.80" height="8.95" fill="#454545"/><rect x="242.00" y="180.35" width="8.80" height="8.95" fill="#454545"/><rect x="250.50" y="180.35" width="8.80" height="8.95" fill="#454545"/><rect x="259.00" y="180.35" width="8.80" height="8.95" fill="#454545"/><rect x="267.50" y="180.35" width="8.80" height="8.95" fill="#454545"/><rect x="276.00" y="180.35" width="8.80" height="8.95" fill="#454545"/><rect x="284.50" y="180.35" width="8.80" height="8.95" fill="#545454"/><rect x="293.00" y="180.35" width="8.80" height="8.95" fill="#545454"/><rect x="301.50" y="180.35" width="8.80" height="8.95" fill="#454545"/><rect x="310.00" y="180.35" width="8.80" height="8.95" fill="#454545"/><rect x="318.50" y="180.35" width="8.80" height="8.95" fill="#373737"/><rect x="327.00" y="180.35" width="8.80" height="8.95" fill="#373737"/><rect x="335.50" y="180.35" width="8.80" height="8.95" fill="#373737"/><rect x="344.00" y="180.35" width="8.80" height="8.95" fill="#373737"/><rect x="352.50" y="180.35" width="8.80" height="8.95" fill="#454545"/><rect x="361.00" y="180.35" width="8.80" height="8.95" fill="#626262"/><rect x="369.50" y="180.35" width="8.80" height="8.95" fill="#454545"/><rect x="378.00" y="180.35" width="8.80" height="8.95" fill="#454545"/><rect x="386.50" y="180.35" width="8.80" height="8.95" fill="#454545"/><rect x="395.00" y="180.35" width="8.80" height="8.95" fill="#454545"/><rect x="403.50" y="180.35" width="8.80" height="8.95" fill="#454545"/><rect x="412.00" y="180.35" width="8.80" height="8.95" fill="#373737"/><rect x="420.50" y="180.35" width="8.80" height="8.95" fill="#373737"/><rect x="429.00" y="180.35" width="8.80" height="8.95" fill="#373737"/><rect x="437.50" y="180.35" width="8.80" height="8.95" fill="#373737"/><rect x="242.00" y="189.00" width="8.80" height="8.95" fill="#454545"/><rect x="250.50" y="189.00" width="8.80" height="8.95" fill="#454545"/><rect x="259.00" y="189.00" width="8.80" height="8.95" fill="#454545"/><rect x="267.50" y="189.00" width="8.80" height="8.95" fill="#454545"/><rect x="276.00" y="189.00" width="8.80" height="8.95" fill="#454545"/><rect x="284.50" y="189.00" width="8.80" height="8.95" fill="#545454"/><rect x="293.00" y="189.00" width="8.80" height="8.95" fill="#545454"/><rect x="301.50" y="189.00" width="8.80" height="8.95" fill="#454545"/><rect x="310.00" y="189.00" width="8.80" height="8.95" fill="#454545"/><rect x="318.50" y="189.00" width="8.80" height="8.95" fill="#373737"/><rect x="327.00" y="189.00" width="8.80" height="8.95" fill="#373737"/><rect x="335.50" y="189.00" width="8.80" height="8.95" fill="#373737"/><rect x="344.00" y="189.00" width="8.80" height="8.95" fill="#373737"/><rect x="352.50" y="189.00" width="8.80" height="8.95" fill="#454545"/><rect x="361.00" y="189.00" width="8.80" height="8.95" fill="#626262"/><rect x="369.50" y="189.00" width="8.80" height="8.95" fill="#454545"/><rect x="378.00" y="189.00" width="8.80" height="8.95" fill="#454545"/><rect x="386.50" y="189.00" width="8.80" height="8.95" fill="#454545"/><rect x="395.00" y="189.00" width="8.80" height="8.95" fill="#454545"/><rect x="403.50" y="189.00" width="8.80" height="8.95" fill="#454545"/><rect x="412.00" y="189.00" width="8.80" height="8.95" fill="#373737"/><rect x="420.50" y="189.00" width="8.80" height="8.95" fill="#373737"/><rect x="429.00" y="189.00" width="8.80" height="8.95" fill="#373737"/><rect x="437.50" y="189.00" width="8.80" height="8.95" fill="#373737"/><rect x="242.00" y="197.65" width="8.80" height="8.95" fill="#454545"/><rect x="250.50" y="197.65" width="8.80" height="8.95" fill="#454545"/><rect x="259.00" y="197.65" width="8.80" height="8.95" fill="#454545"/><rect x="267.50" y="197.65" width="8.80" height="8.95" fill="#454545"/><rect x="276.00" y="197.65" width="8.80" height="8.95" fill="#454545"/><rect x="284.50" y="197.65" width="8.80" height="8.95" fill="#545454"/><rect x="293.00" y="197.65" width="8.80" height="8.95" fill="#545454"/><rect x="301.50" y="197.65" width="8.80" height="8.95" fill="#454545"/><rect x="310.00" y="197.65" width="8.80" height="8.95" fill="#454545"/><rect x="318.50" y="197.65" width="8.80" height="8.95" fill="#373737"/><rect x="327.00" y="197.65" width="8.80" height="8.95" fill="#373737"/><rect x="335.50" y="197.65" width="8.80" height="8.95" fill="#373737"/><rect x="344.00" y="197.65" width="8.80" height="8.95" fill="#373737"/><rect x="352.50" y="197.65" width="8.80" height="8.95" fill="#454545"/><rect x="361.00" y="197.65" width="8.80" height="8.95" fill="#626262"/><rect x="369.50" y="197.65" width="8.80" height="8.95" fill="#454545"/><rect x="378.00" y="197.65" width="8.80" height="8.95" fill="#454545"/><rect x="386.50" y="197.65" width="8.80" height="8.95" fill="#454545"/><rect x="395.00" y="197.65" width="8.80" height="8.95" fill="#454545"/><rect x="403.50" y="197.65" width="8.80" height="8.95" fill="#454545"/><rect x="412.00" y="197.65" width="8.80" height="8.95" fill="#373737"/><rect x="420.50" y="197.65" width="8.80" height="8.95" fill="#373737"/><rect x="429.00" y="197.65" width="8.80" height="8.95" fill="#373737"/><rect x="437.50" y="197.65" width="8.80" height="8.95" fill="#373737"/></g>
</g>
<rect x="271" y="180.5" width="31" height="2.2" fill="#f0f0f0"/>
<text x="272.5" y="177.5" style="font-family:'Liberation Sans',sans-serif;font-size:7.6px" fill="#f0f0f0" text-anchor="start" >400 nm</text>
<rect x="453.0" y="58.5" width="11" height="88" fill="url(#afmgrad)" stroke="#3a3a3a" stroke-width="1"/>
<text x="440.3" y="57" style="font-family:'Liberation Sans',sans-serif;font-size:10px" fill="#333" text-anchor="start" >3.6 mV</text>
<text x="435.2" y="156" style="font-family:'Liberation Sans',sans-serif;font-size:10px" fill="#333" text-anchor="start" >-662.1 μV</text>
<clipPath id="afmclip2"><rect x="489" y="16" width="169" height="173"/></clipPath>
<g clip-path="url(#afmclip2)"><g filter="url(#afmf2)"><rect x="472.10" y="-1.30" width="8.75" height="8.95" fill="#474747"/><rect x="480.55" y="-1.30" width="8.75" height="8.95" fill="#474747"/><rect x="489.00" y="-1.30" width="8.75" height="8.95" fill="#474747"/><rect x="497.45" y="-1.30" width="8.75" height="8.95" fill="#8e8e8e"/><rect x="505.90" y="-1.30" width="8.75" height="8.95" fill="#717171"/><rect x="514.35" y="-1.30" width="8.75" height="8.95" fill="#555555"/><rect x="522.80" y="-1.30" width="8.75" height="8.95" fill="#555555"/><rect x="531.25" y="-1.30" width="8.75" height="8.95" fill="#555555"/><rect x="539.70" y="-1.30" width="8.75" height="8.95" fill="#393939"/><rect x="548.15" y="-1.30" width="8.75" height="8.95" fill="#393939"/><rect x="556.60" y="-1.30" width="8.75" height="8.95" fill="#8e8e8e"/><rect x="565.05" y="-1.30" width="8.75" height="8.95" fill="#717171"/><rect x="573.50" y="-1.30" width="8.75" height="8.95" fill="#555555"/><rect x="581.95" y="-1.30" width="8.75" height="8.95" fill="#474747"/><rect x="590.40" y="-1.30" width="8.75" height="8.95" fill="#636363"/><rect x="598.85" y="-1.30" width="8.75" height="8.95" fill="#bbbbbb"/><rect x="607.30" y="-1.30" width="8.75" height="8.95" fill="#8e8e8e"/><rect x="615.75" y="-1.30" width="8.75" height="8.95" fill="#393939"/><rect x="624.20" y="-1.30" width="8.75" height="8.95" fill="#393939"/><rect x="632.65" y="-1.30" width="8.75" height="8.95" fill="#393939"/><rect x="641.10" y="-1.30" width="8.75" height="8.95" fill="#474747"/><rect x="649.55" y="-1.30" width="8.75" height="8.95" fill="#393939"/><rect x="658.00" y="-1.30" width="8.75" height="8.95" fill="#393939"/><rect x="666.45" y="-1.30" width="8.75" height="8.95" fill="#393939"/><rect x="472.10" y="7.35" width="8.75" height="8.95" fill="#474747"/><rect x="480.55" y="7.35" width="8.75" height="8.95" fill="#474747"/><rect x="489.00" y="7.35" width="8.75" height="8.95" fill="#474747"/><rect x="497.45" y="7.35" width="8.75" height="8.95" fill="#8e8e8e"/><rect x="505.90" y="7.35" width="8.75" height="8.95" fill="#717171"/><rect x="514.35" y="7.35" width="8.75" height="8.95" fill="#555555"/><rect x="522.80" y="7.35" width="8.75" height="8.95" fill="#555555"/><rect x="531.25" y="7.35" width="8.75" height="8.95" fill="#555555"/><rect x="539.70" y="7.35" width="8.75" height="8.95" fill="#393939"/><rect x="548.15" y="7.35" width="8.75" height="8.95" fill="#393939"/><rect x="556.60" y="7.35" width="8.75" height="8.95" fill="#8e8e8e"/><rect x="565.05" y="7.35" width="8.75" height="8.95" fill="#717171"/><rect x="573.50" y="7.35" width="8.75" height="8.95" fill="#555555"/><rect x="581.95" y="7.35" width="8.75" height="8.95" fill="#474747"/><rect x="590.40" y="7.35" width="8.75" height="8.95" fill="#636363"/><rect x="598.85" y="7.35" width="8.75" height="8.95" fill="#bbbbbb"/><rect x="607.30" y="7.35" width="8.75" height="8.95" fill="#8e8e8e"/><rect x="615.75" y="7.35" width="8.75" height="8.95" fill="#393939"/><rect x="624.20" y="7.35" width="8.75" height="8.95" fill="#393939"/><rect x="632.65" y="7.35" width="8.75" height="8.95" fill="#393939"/><rect x="641.10" y="7.35" width="8.75" height="8.95" fill="#474747"/><rect x="649.55" y="7.35" width="8.75" height="8.95" fill="#393939"/><rect x="658.00" y="7.35" width="8.75" height="8.95" fill="#393939"/><rect x="666.45" y="7.35" width="8.75" height="8.95" fill="#393939"/><rect x="472.10" y="16.00" width="8.75" height="8.95" fill="#474747"/><rect x="480.55" y="16.00" width="8.75" height="8.95" fill="#474747"/><rect x="489.00" y="16.00" width="8.75" height="8.95" fill="#474747"/><rect x="497.45" y="16.00" width="8.75" height="8.95" fill="#8e8e8e"/><rect x="505.90" y="16.00" width="8.75" height="8.95" fill="#717171"/><rect x="514.35" y="16.00" width="8.75" height="8.95" fill="#555555"/><rect x="522.80" y="16.00" width="8.75" height="8.95" fill="#555555"/><rect x="531.25" y="16.00" width="8.75" height="8.95" fill="#555555"/><rect x="539.70" y="16.00" width="8.75" height="8.95" fill="#393939"/><rect x="548.15" y="16.00" width="8.75" height="8.95" fill="#393939"/><rect x="556.60" y="16.00" width="8.75" height="8.95" fill="#8e8e8e"/><rect x="565.05" y="16.00" width="8.75" height="8.95" fill="#717171"/><rect x="573.50" y="16.00" width="8.75" height="8.95" fill="#555555"/><rect x="581.95" y="16.00" width="8.75" height="8.95" fill="#474747"/><rect x="590.40" y="16.00" width="8.75" height="8.95" fill="#636363"/><rect x="598.85" y="16.00" width="8.75" height="8.95" fill="#bbbbbb"/><rect x="607.30" y="16.00" width="8.75" height="8.95" fill="#8e8e8e"/><rect x="615.75" y="16.00" width="8.75" height="8.95" fill="#393939"/><rect x="624.20" y="16.00" width="8.75" height="8.95" fill="#393939"/><rect x="632.65" y="16.00" width="8.75" height="8.95" fill="#393939"/><rect x="641.10" y="16.00" width="8.75" height="8.95" fill="#474747"/><rect x="649.55" y="16.00" width="8.75" height="8.95" fill="#393939"/><rect x="658.00" y="16.00" width="8.75" height="8.95" fill="#393939"/><rect x="666.45" y="16.00" width="8.75" height="8.95" fill="#393939"/><rect x="472.10" y="24.65" width="8.75" height="8.95" fill="#555555"/><rect x="480.55" y="24.65" width="8.75" height="8.95" fill="#555555"/><rect x="489.00" y="24.65" width="8.75" height="8.95" fill="#555555"/><rect x="497.45" y="24.65" width="8.75" height="8.95" fill="#717171"/><rect x="505.90" y="24.65" width="8.75" height="8.95" fill="#8e8e8e"/><rect x="514.35" y="24.65" width="8.75" height="8.95" fill="#555555"/><rect x="522.80" y="24.65" width="8.75" height="8.95" fill="#808080"/><rect x="531.25" y="24.65" width="8.75" height="8.95" fill="#555555"/><rect x="539.70" y="24.65" width="8.75" height="8.95" fill="#717171"/><rect x="548.15" y="24.65" width="8.75" height="8.95" fill="#393939"/><rect x="556.60" y="24.65" width="8.75" height="8.95" fill="#808080"/><rect x="565.05" y="24.65" width="8.75" height="8.95" fill="#8e8e8e"/><rect x="573.50" y="24.65" width="8.75" height="8.95" fill="#8e8e8e"/><rect x="581.95" y="24.65" width="8.75" height="8.95" fill="#474747"/><rect x="590.40" y="24.65" width="8.75" height="8.95" fill="#717171"/><rect x="598.85" y="24.65" width="8.75" height="8.95" fill="#636363"/><rect x="607.30" y="24.65" width="8.75" height="8.95" fill="#555555"/><rect x="615.75" y="24.65" width="8.75" height="8.95" fill="#393939"/><rect x="624.20" y="24.65" width="8.75" height="8.95" fill="#474747"/><rect x="632.65" y="24.65" width="8.75" height="8.95" fill="#393939"/><rect x="641.10" y="24.65" width="8.75" height="8.95" fill="#393939"/><rect x="649.55" y="24.65" width="8.75" height="8.95" fill="#393939"/><rect x="658.00" y="24.65" width="8.75" height="8.95" fill="#393939"/><rect x="666.45" y="24.65" width="8.75" height="8.95" fill="#393939"/><rect x="472.10" y="33.30" width="8.75" height="8.95" fill="#8e8e8e"/><rect x="480.55" y="33.30" width="8.75" height="8.95" fill="#8e8e8e"/><rect x="489.00" y="33.30" width="8.75" height="8.95" fill="#8e8e8e"/><rect x="497.45" y="33.30" width="8.75" height="8.95" fill="#c9c9c9"/><rect x="505.90" y="33.30" width="8.75" height="8.95" fill="#8e8e8e"/><rect x="514.35" y="33.30" width="8.75" height="8.95" fill="#8e8e8e"/><rect x="522.80" y="33.30" width="8.75" height="8.95" fill="#717171"/><rect x="531.25" y="33.30" width="8.75" height="8.95" fill="#8e8e8e"/><rect x="539.70" y="33.30" width="8.75" height="8.95" fill="#393939"/><rect x="548.15" y="33.30" width="8.75" height="8.95" fill="#393939"/><rect x="556.60" y="33.30" width="8.75" height="8.95" fill="#717171"/><rect x="565.05" y="33.30" width="8.75" height="8.95" fill="#8e8e8e"/><rect x="573.50" y="33.30" width="8.75" height="8.95" fill="#8e8e8e"/><rect x="581.95" y="33.30" width="8.75" height="8.95" fill="#474747"/><rect x="590.40" y="33.30" width="8.75" height="8.95" fill="#636363"/><rect x="598.85" y="33.30" width="8.75" height="8.95" fill="#636363"/><rect x="607.30" y="33.30" width="8.75" height="8.95" fill="#8e8e8e"/><rect x="615.75" y="33.30" width="8.75" height="8.95" fill="#474747"/><rect x="624.20" y="33.30" width="8.75" height="8.95" fill="#393939"/><rect x="632.65" y="33.30" width="8.75" height="8.95" fill="#393939"/><rect x="641.10" y="33.30" width="8.75" height="8.95" fill="#474747"/><rect x="649.55" y="33.30" width="8.75" height="8.95" fill="#8e8e8e"/><rect x="658.00" y="33.30" width="8.75" height="8.95" fill="#8e8e8e"/><rect x="666.45" y="33.30" width="8.75" height="8.95" fill="#8e8e8e"/><rect x="472.10" y="41.95" width="8.75" height="8.95" fill="#636363"/><rect x="480.55" y="41.95" width="8.75" height="8.95" fill="#636363"/><rect x="489.00" y="41.95" width="8.75" height="8.95" fill="#636363"/><rect x="497.45" y="41.95" width="8.75" height="8.95" fill="#bbbbbb"/><rect x="505.90" y="41.95" width="8.75" height="8.95" fill="#bbbbbb"/><rect x="514.35" y="41.95" width="8.75" height="8.95" fill="#555555"/><rect x="522.80" y="41.95" width="8.75" height="8.95" fill="#555555"/><rect x="531.25" y="41.95" width="8.75" height="8.95" fill="#808080"/><rect x="539.70" y="41.95" width="8.75" height="8.95" fill="#393939"/><rect x="548.15" y="41.95" width="8.75" height="8.95" fill="#393939"/><rect x="556.60" y="41.95" width="8.75" height="8.95" fill="#adadad"/><rect x="565.05" y="41.95" width="8.75" height="8.95" fill="#636363"/><rect x="573.50" y="41.95" width="8.75" height="8.95" fill="#8e8e8e"/><rect x="581.95" y="41.95" width="8.75" height="8.95" fill="#555555"/><rect x="590.40" y="41.95" width="8.75" height="8.95" fill="#636363"/><rect x="598.85" y="41.95" width="8.75" height="8.95" fill="#808080"/><rect x="607.30" y="41.95" width="8.75" height="8.95" fill="#bbbbbb"/><rect x="615.75" y="41.95" width="8.75" height="8.95" fill="#555555"/><rect x="624.20" y="41.95" width="8.75" height="8.95" fill="#393939"/><rect x="632.65" y="41.95" width="8.75" height="8.95" fill="#393939"/><rect x="641.10" y="41.95" width="8.75" height="8.95" fill="#8e8e8e"/><rect x="649.55" y="41.95" width="8.75" height="8.95" fill="#c9c9c9"/><rect x="658.00" y="41.95" width="8.75" height="8.95" fill="#c9c9c9"/><rect x="666.45" y="41.95" width="8.75" height="8.95" fill="#c9c9c9"/><rect x="472.10" y="50.60" width="8.75" height="8.95" fill="#717171"/><rect x="480.55" y="50.60" width="8.75" height="8.95" fill="#717171"/><rect x="489.00" y="50.60" width="8.75" height="8.95" fill="#717171"/><rect x="497.45" y="50.60" width="8.75" height="8.95" fill="#c9c9c9"/><rect x="505.90" y="50.60" width="8.75" height="8.95" fill="#bbbbbb"/><rect x="514.35" y="50.60" width="8.75" height="8.95" fill="#808080"/><rect x="522.80" y="50.60" width="8.75" height="8.95" fill="#adadad"/><rect x="531.25" y="50.60" width="8.75" height="8.95" fill="#8e8e8e"/><rect x="539.70" y="50.60" width="8.75" height="8.95" fill="#393939"/><rect x="548.15" y="50.60" width="8.75" height="8.95" fill="#393939"/><rect x="556.60" y="50.60" width="8.75" height="8.95" fill="#bbbbbb"/><rect x="565.05" y="50.60" width="8.75" height="8.95" fill="#474747"/><rect x="573.50" y="50.60" width="8.75" height="8.95" fill="#636363"/><rect x="581.95" y="50.60" width="8.75" height="8.95" fill="#555555"/><rect x="590.40" y="50.60" width="8.75" height="8.95" fill="#717171"/><rect x="598.85" y="50.60" width="8.75" height="8.95" fill="#555555"/><rect x="607.30" y="50.60" width="8.75" height="8.95" fill="#393939"/><rect x="615.75" y="50.60" width="8.75" height="8.95" fill="#393939"/><rect x="624.20" y="50.60" width="8.75" height="8.95" fill="#393939"/><rect x="632.65" y="50.60" width="8.75" height="8.95" fill="#393939"/><rect x="641.10" y="50.60" width="8.75" height="8.95" fill="#555555"/><rect x="649.55" y="50.60" width="8.75" height="8.95" fill="#bbbbbb"/><rect x="658.00" y="50.60" width="8.75" height="8.95" fill="#bbbbbb"/><rect x="666.45" y="50.60" width="8.75" height="8.95" fill="#bbbbbb"/><rect x="472.10" y="59.25" width="8.75" height="8.95" fill="#555555"/><rect x="480.55" y="59.25" width="8.75" height="8.95" fill="#555555"/><rect x="489.00" y="59.25" width="8.75" height="8.95" fill="#555555"/><rect x="497.45" y="59.25" width="8.75" height="8.95" fill="#8e8e8e"/><rect x="505.90" y="59.25" width="8.75" height="8.95" fill="#636363"/><rect x="514.35" y="59.25" width="8.75" height="8.95" fill="#555555"/><rect x="522.80" y="59.25" width="8.75" height="8.95" fill="#636363"/><rect x="531.25" y="59.25" width="8.75" height="8.95" fill="#8e8e8e"/><rect x="539.70" y="59.25" width="8.75" height="8.95" fill="#393939"/><rect x="548.15" y="59.25" width="8.75" height="8.95" fill="#8e8e8e"/><rect x="556.60" y="59.25" width="8.75" height="8.95" fill="#c9c9c9"/><rect x="565.05" y="59.25" width="8.75" height="8.95" fill="#555555"/><rect x="573.50" y="59.25" width="8.75" height="8.95" fill="#717171"/><rect x="581.95" y="59.25" width="8.75" height="8.95" fill="#636363"/><rect x="590.40" y="59.25" width="8.75" height="8.95" fill="#808080"/><rect x="598.85" y="59.25" width="8.75" height="8.95" fill="#393939"/><rect x="607.30" y="59.25" width="8.75" height="8.95" fill="#393939"/><rect x="615.75" y="59.25" width="8.75" height="8.95" fill="#393939"/><rect x="624.20" y="59.25" width="8.75" height="8.95" fill="#393939"/><rect x="632.65" y="59.25" width="8.75" height="8.95" fill="#393939"/><rect x="641.10" y="59.25" width="8.75" height="8.95" fill="#393939"/><rect x="649.55" y="59.25" width="8.75" height="8.95" fill="#393939"/><rect x="658.00" y="59.25" width="8.75" height="8.95" fill="#393939"/><rect x="666.45" y="59.25" width="8.75" height="8.95" fill="#393939"/><rect x="472.10" y="67.90" width="8.75" height="8.95" fill="#474747"/><rect x="480.55" y="67.90" width="8.75" height="8.95" fill="#474747"/><rect x="489.00" y="67.90" width="8.75" height="8.95" fill="#474747"/><rect x="497.45" y="67.90" width="8.75" height="8.95" fill="#808080"/><rect x="505.90" y="67.90" width="8.75" height="8.95" fill="#717171"/><rect x="514.35" y="67.90" width="8.75" height="8.95" fill="#555555"/><rect x="522.80" y="67.90" width="8.75" height="8.95" fill="#555555"/><rect x="531.25" y="67.90" width="8.75" height="8.95" fill="#636363"/><rect x="539.70" y="67.90" width="8.75" height="8.95" fill="#555555"/><rect x="548.15" y="67.90" width="8.75" height="8.95" fill="#393939"/><rect x="556.60" y="67.90" width="8.75" height="8.95" fill="#d7d7d7"/><rect x="565.05" y="67.90" width="8.75" height="8.95" fill="#c9c9c9"/><rect x="573.50" y="67.90" width="8.75" height="8.95" fill="#bbbbbb"/><rect x="581.95" y="67.90" width="8.75" height="8.95" fill="#adadad"/><rect x="590.40" y="67.90" width="8.75" height="8.95" fill="#555555"/><rect x="598.85" y="67.90" width="8.75" height="8.95" fill="#393939"/><rect x="607.30" y="67.90" width="8.75" height="8.95" fill="#393939"/><rect x="615.75" y="67.90" width="8.75" height="8.95" fill="#393939"/><rect x="624.20" y="67.90" width="8.75" height="8.95" fill="#393939"/><rect x="632.65" y="67.90" width="8.75" height="8.95" fill="#393939"/><rect x="641.10" y="67.90" width="8.75" height="8.95" fill="#393939"/><rect x="649.55" y="67.90" width="8.75" height="8.95" fill="#393939"/><rect x="658.00" y="67.90" width="8.75" height="8.95" fill="#393939"/><rect x="666.45" y="67.90" width="8.75" height="8.95" fill="#393939"/><rect x="472.10" y="76.55" width="8.75" height="8.95" fill="#8e8e8e"/><rect x="480.55" y="76.55" width="8.75" height="8.95" fill="#8e8e8e"/><rect x="489.00" y="76.55" width="8.75" height="8.95" fill="#8e8e8e"/><rect x="497.45" y="76.55" width="8.75" height="8.95" fill="#717171"/><rect x="505.90" y="76.55" width="8.75" height="8.95" fill="#555555"/><rect x="514.35" y="76.55" width="8.75" height="8.95" fill="#808080"/><rect x="522.80" y="76.55" width="8.75" height="8.95" fill="#555555"/><rect x="531.25" y="76.55" width="8.75" height="8.95" fill="#717171"/><rect x="539.70" y="76.55" width="8.75" height="8.95" fill="#adadad"/><rect x="548.15" y="76.55" width="8.75" height="8.95" fill="#555555"/><rect x="556.60" y="76.55" width="8.75" height="8.95" fill="#c9c9c9"/><rect x="565.05" y="76.55" width="8.75" height="8.95" fill="#c9c9c9"/><rect x="573.50" y="76.55" width="8.75" height="8.95" fill="#c9c9c9"/><rect x="581.95" y="76.55" width="8.75" height="8.95" fill="#bbbbbb"/><rect x="590.40" y="76.55" width="8.75" height="8.95" fill="#393939"/><rect x="598.85" y="76.55" width="8.75" height="8.95" fill="#393939"/><rect x="607.30" y="76.55" width="8.75" height="8.95" fill="#393939"/><rect x="615.75" y="76.55" width="8.75" height="8.95" fill="#393939"/><rect x="624.20" y="76.55" width="8.75" height="8.95" fill="#474747"/><rect x="632.65" y="76.55" width="8.75" height="8.95" fill="#393939"/><rect x="641.10" y="76.55" width="8.75" height="8.95" fill="#8e8e8e"/><rect x="649.55" y="76.55" width="8.75" height="8.95" fill="#c9c9c9"/><rect x="658.00" y="76.55" width="8.75" height="8.95" fill="#c9c9c9"/><rect x="666.45" y="76.55" width="8.75" height="8.95" fill="#c9c9c9"/><rect x="472.10" y="85.20" width="8.75" height="8.95" fill="#808080"/><rect x="480.55" y="85.20" width="8.75" height="8.95" fill="#808080"/><rect x="489.00" y="85.20" width="8.75" height="8.95" fill="#808080"/><rect x="497.45" y="85.20" width="8.75" height="8.95" fill="#555555"/><rect x="505.90" y="85.20" width="8.75" height="8.95" fill="#555555"/><rect x="514.35" y="85.20" width="8.75" height="8.95" fill="#bbbbbb"/><rect x="522.80" y="85.20" width="8.75" height="8.95" fill="#717171"/><rect x="531.25" y="85.20" width="8.75" height="8.95" fill="#555555"/><rect x="539.70" y="85.20" width="8.75" height="8.95" fill="#8e8e8e"/><rect x="548.15" y="85.20" width="8.75" height="8.95" fill="#bbbbbb"/><rect x="556.60" y="85.20" width="8.75" height="8.95" fill="#c9c9c9"/><rect x="565.05" y="85.20" width="8.75" height="8.95" fill="#636363"/><rect x="573.50" y="85.20" width="8.75" height="8.95" fill="#bbbbbb"/><rect x="581.95" y="85.20" width="8.75" height="8.95" fill="#808080"/><rect x="590.40" y="85.20" width="8.75" height="8.95" fill="#393939"/><rect x="598.85" y="85.20" width="8.75" height="8.95" fill="#393939"/><rect x="607.30" y="85.20" width="8.75" height="8.95" fill="#393939"/><rect x="615.75" y="85.20" width="8.75" height="8.95" fill="#393939"/><rect x="624.20" y="85.20" width="8.75" height="8.95" fill="#717171"/><rect x="632.65" y="85.20" width="8.75" height="8.95" fill="#393939"/><rect x="641.10" y="85.20" width="8.75" height="8.95" fill="#bbbbbb"/><rect x="649.55" y="85.20" width="8.75" height="8.95" fill="#c9c9c9"/><rect x="658.00" y="85.20" width="8.75" height="8.95" fill="#c9c9c9"/><rect x="666.45" y="85.20" width="8.75" height="8.95" fill="#c9c9c9"/><rect x="472.10" y="93.85" width="8.75" height="8.95" fill="#555555"/><rect x="480.55" y="93.85" width="8.75" height="8.95" fill="#555555"/><rect x="489.00" y="93.85" width="8.75" height="8.95" fill="#555555"/><rect x="497.45" y="93.85" width="8.75" height="8.95" fill="#717171"/><rect x="505.90" y="93.85" width="8.75" height="8.95" fill="#8e8e8e"/><rect x="514.35" y="93.85" width="8.75" height="8.95" fill="#bbbbbb"/><rect x="522.80" y="93.85" width="8.75" height="8.95" fill="#8e8e8e"/><rect x="531.25" y="93.85" width="8.75" height="8.95" fill="#555555"/><rect x="539.70" y="93.85" width="8.75" height="8.95" fill="#bbbbbb"/><rect x="548.15" y="93.85" width="8.75" height="8.95" fill="#bbbbbb"/><rect x="556.60" y="93.85" width="8.75" height="8.95" fill="#c9c9c9"/><rect x="565.05" y="93.85" width="8.75" height="8.95" fill="#555555"/><rect x="573.50" y="93.85" width="8.75" height="8.95" fill="#717171"/><rect x="581.95" y="93.85" width="8.75" height="8.95" fill="#393939"/><rect x="590.40" y="93.85" width="8.75" height="8.95" fill="#393939"/><rect x="598.85" y="93.85" width="8.75" height="8.95" fill="#393939"/><rect x="607.30" y="93.85" width="8.75" height="8.95" fill="#393939"/><rect x="615.75" y="93.85" width="8.75" height="8.95" fill="#808080"/><rect x="624.20" y="93.85" width="8.75" height="8.95" fill="#8e8e8e"/><rect x="632.65" y="93.85" width="8.75" height="8.95" fill="#555555"/><rect x="641.10" y="93.85" width="8.75" height="8.95" fill="#8e8e8e"/><rect x="649.55" y="93.85" width="8.75" height="8.95" fill="#bbbbbb"/><rect x="658.00" y="93.85" width="8.75" height="8.95" fill="#bbbbbb"/><rect x="666.45" y="93.85" width="8.75" height="8.95" fill="#bbbbbb"/><rect x="472.10" y="102.50" width="8.75" height="8.95" fill="#555555"/><rect x="480.55" y="102.50" width="8.75" height="8.95" fill="#555555"/><rect x="489.00" y="102.50" width="8.75" height="8.95" fill="#555555"/><rect x="497.45" y="102.50" width="8.75" height="8.95" fill="#636363"/><rect x="505.90" y="102.50" width="8.75" height="8.95" fill="#8e8e8e"/><rect x="514.35" y="102.50" width="8.75" height="8.95" fill="#636363"/><rect x="522.80" y="102.50" width="8.75" height="8.95" fill="#bbbbbb"/><rect x="531.25" y="102.50" width="8.75" height="8.95" fill="#393939"/><rect x="539.70" y="102.50" width="8.75" height="8.95" fill="#bbbbbb"/><rect x="548.15" y="102.50" width="8.75" height="8.95" fill="#c9c9c9"/><rect x="556.60" y="102.50" width="8.75" height="8.95" fill="#c9c9c9"/><rect x="565.05" y="102.50" width="8.75" height="8.95" fill="#717171"/><rect x="573.50" y="102.50" width="8.75" height="8.95" fill="#393939"/><rect x="581.95" y="102.50" width="8.75" height="8.95" fill="#393939"/><rect x="590.40" y="102.50" width="8.75" height="8.95" fill="#393939"/><rect x="598.85" y="102.50" width="8.75" height="8.95" fill="#393939"/><rect x="607.30" y="102.50" width="8.75" height="8.95" fill="#474747"/><rect x="615.75" y="102.50" width="8.75" height="8.95" fill="#bbbbbb"/><rect x="624.20" y="102.50" width="8.75" height="8.95" fill="#555555"/><rect x="632.65" y="102.50" width="8.75" height="8.95" fill="#393939"/><rect x="641.10" y="102.50" width="8.75" height="8.95" fill="#474747"/><rect x="649.55" y="102.50" width="8.75" height="8.95" fill="#adadad"/><rect x="658.00" y="102.50" width="8.75" height="8.95" fill="#adadad"/><rect x="666.45" y="102.50" width="8.75" height="8.95" fill="#adadad"/><rect x="472.10" y="111.15" width="8.75" height="8.95" fill="#636363"/><rect x="480.55" y="111.15" width="8.75" height="8.95" fill="#636363"/><rect x="489.00" y="111.15" width="8.75" height="8.95" fill="#636363"/><rect x="497.45" y="111.15" width="8.75" height="8.95" fill="#717171"/><rect x="505.90" y="111.15" width="8.75" height="8.95" fill="#bbbbbb"/><rect x="514.35" y="111.15" width="8.75" height="8.95" fill="#555555"/><rect x="522.80" y="111.15" width="8.75" height="8.95" fill="#717171"/><rect x="531.25" y="111.15" width="8.75" height="8.95" fill="#393939"/><rect x="539.70" y="111.15" width="8.75" height="8.95" fill="#c9c9c9"/><rect x="548.15" y="111.15" width="8.75" height="8.95" fill="#d7d7d7"/><rect x="556.60" y="111.15" width="8.75" height="8.95" fill="#d7d7d7"/><rect x="565.05" y="111.15" width="8.75" height="8.95" fill="#adadad"/><rect x="573.50" y="111.15" width="8.75" height="8.95" fill="#393939"/><rect x="581.95" y="111.15" width="8.75" height="8.95" fill="#bbbbbb"/><rect x="590.40" y="111.15" width="8.75" height="8.95" fill="#bbbbbb"/><rect x="598.85" y="111.15" width="8.75" height="8.95" fill="#555555"/><rect x="607.30" y="111.15" width="8.75" height="8.95" fill="#474747"/><rect x="615.75" y="111.15" width="8.75" height="8.95" fill="#393939"/><rect x="624.20" y="111.15" width="8.75" height="8.95" fill="#474747"/><rect x="632.65" y="111.15" width="8.75" height="8.95" fill="#adadad"/><rect x="641.10" y="111.15" width="8.75" height="8.95" fill="#adadad"/><rect x="649.55" y="111.15" width="8.75" height="8.95" fill="#bbbbbb"/><rect x="658.00" y="111.15" width="8.75" height="8.95" fill="#bbbbbb"/><rect x="666.45" y="111.15" width="8.75" height="8.95" fill="#bbbbbb"/><rect x="472.10" y="119.80" width="8.75" height="8.95" fill="#555555"/><rect x="480.55" y="119.80" width="8.75" height="8.95" fill="#555555"/><rect x="489.00" y="119.80" width="8.75" height="8.95" fill="#555555"/><rect x="497.45" y="119.80" width="8.75" height="8.95" fill="#636363"/><rect x="505.90" y="119.80" width="8.75" height="8.95" fill="#bbbbbb"/><rect x="514.35" y="119.80" width="8.75" height="8.95" fill="#555555"/><rect x="522.80" y="119.80" width="8.75" height="8.95" fill="#393939"/><rect x="531.25" y="119.80" width="8.75" height="8.95" fill="#393939"/><rect x="539.70" y="119.80" width="8.75" height="8.95" fill="#bbbbbb"/><rect x="548.15" y="119.80" width="8.75" height="8.95" fill="#d7d7d7"/><rect x="556.60" y="119.80" width="8.75" height="8.95" fill="#d7d7d7"/><rect x="565.05" y="119.80" width="8.75" height="8.95" fill="#555555"/><rect x="573.50" y="119.80" width="8.75" height="8.95" fill="#393939"/><rect x="581.95" y="119.80" width="8.75" height="8.95" fill="#555555"/><rect x="590.40" y="119.80" width="8.75" height="8.95" fill="#636363"/><rect x="598.85" y="119.80" width="8.75" height="8.95" fill="#393939"/><rect x="607.30" y="119.80" width="8.75" height="8.95" fill="#474747"/><rect x="615.75" y="119.80" width="8.75" height="8.95" fill="#bbbbbb"/><rect x="624.20" y="119.80" width="8.75" height="8.95" fill="#bbbbbb"/><rect x="632.65" y="119.80" width="8.75" height="8.95" fill="#c9c9c9"/><rect x="641.10" y="119.80" width="8.75" height="8.95" fill="#c9c9c9"/><rect x="649.55" y="119.80" width="8.75" height="8.95" fill="#c9c9c9"/><rect x="658.00" y="119.80" width="8.75" height="8.95" fill="#c9c9c9"/><rect x="666.45" y="119.80" width="8.75" height="8.95" fill="#c9c9c9"/><rect x="472.10" y="128.45" width="8.75" height="8.95" fill="#808080"/><rect x="480.55" y="128.45" width="8.75" height="8.95" fill="#808080"/><rect x="489.00" y="128.45" width="8.75" height="8.95" fill="#808080"/><rect x="497.45" y="128.45" width="8.75" height="8.95" fill="#555555"/><rect x="505.90" y="128.45" width="8.75" height="8.95" fill="#bbbbbb"/><rect x="514.35" y="128.45" width="8.75" height="8.95" fill="#8e8e8e"/><rect x="522.80" y="128.45" width="8.75" height="8.95" fill="#393939"/><rect x="531.25" y="128.45" width="8.75" height="8.95" fill="#393939"/><rect x="539.70" y="128.45" width="8.75" height="8.95" fill="#bbbbbb"/><rect x="548.15" y="128.45" width="8.75" height="8.95" fill="#d7d7d7"/><rect x="556.60" y="128.45" width="8.75" height="8.95" fill="#c9c9c9"/><rect x="565.05" y="128.45" width="8.75" height="8.95" fill="#474747"/><rect x="573.50" y="128.45" width="8.75" height="8.95" fill="#393939"/><rect x="581.95" y="128.45" width="8.75" height="8.95" fill="#bbbbbb"/><rect x="590.40" y="128.45" width="8.75" height="8.95" fill="#c9c9c9"/><rect x="598.85" y="128.45" width="8.75" height="8.95" fill="#bbbbbb"/><rect x="607.30" y="128.45" width="8.75" height="8.95" fill="#bbbbbb"/><rect x="615.75" y="128.45" width="8.75" height="8.95" fill="#c9c9c9"/><rect x="624.20" y="128.45" width="8.75" height="8.95" fill="#d7d7d7"/><rect x="632.65" y="128.45" width="8.75" height="8.95" fill="#c9c9c9"/><rect x="641.10" y="128.45" width="8.75" height="8.95" fill="#c9c9c9"/><rect x="649.55" y="128.45" width="8.75" height="8.95" fill="#c9c9c9"/><rect x="658.00" y="128.45" width="8.75" height="8.95" fill="#c9c9c9"/><rect x="666.45" y="128.45" width="8.75" height="8.95" fill="#c9c9c9"/><rect x="472.10" y="137.10" width="8.75" height="8.95" fill="#555555"/><rect x="480.55" y="137.10" width="8.75" height="8.95" fill="#555555"/><rect x="489.00" y="137.10" width="8.75" height="8.95" fill="#555555"/><rect x="497.45" y="137.10" width="8.75" height="8.95" fill="#808080"/><rect x="505.90" y="137.10" width="8.75" height="8.95" fill="#717171"/><rect x="514.35" y="137.10" width="8.75" height="8.95" fill="#bbbbbb"/><rect x="522.80" y="137.10" width="8.75" height="8.95" fill="#474747"/><rect x="531.25" y="137.10" width="8.75" height="8.95" fill="#393939"/><rect x="539.70" y="137.10" width="8.75" height="8.95" fill="#adadad"/><rect x="548.15" y="137.10" width="8.75" height="8.95" fill="#d7d7d7"/><rect x="556.60" y="137.10" width="8.75" height="8.95" fill="#c9c9c9"/><rect x="565.05" y="137.10" width="8.75" height="8.95" fill="#393939"/><rect x="573.50" y="137.10" width="8.75" height="8.95" fill="#393939"/><rect x="581.95" y="137.10" width="8.75" height="8.95" fill="#c9c9c9"/><rect x="590.40" y="137.10" width="8.75" height="8.95" fill="#d7d7d7"/><rect x="598.85" y="137.10" width="8.75" height="8.95" fill="#c9c9c9"/><rect x="607.30" y="137.10" width="8.75" height="8.95" fill="#d7d7d7"/><rect x="615.75" y="137.10" width="8.75" height="8.95" fill="#d7d7d7"/><rect x="624.20" y="137.10" width="8.75" height="8.95" fill="#c9c9c9"/><rect x="632.65" y="137.10" width="8.75" height="8.95" fill="#c9c9c9"/><rect x="641.10" y="137.10" width="8.75" height="8.95" fill="#c9c9c9"/><rect x="649.55" y="137.10" width="8.75" height="8.95" fill="#c9c9c9"/><rect x="658.00" y="137.10" width="8.75" height="8.95" fill="#c9c9c9"/><rect x="666.45" y="137.10" width="8.75" height="8.95" fill="#c9c9c9"/><rect x="472.10" y="145.75" width="8.75" height="8.95" fill="#555555"/><rect x="480.55" y="145.75" width="8.75" height="8.95" fill="#555555"/><rect x="489.00" y="145.75" width="8.75" height="8.95" fill="#555555"/><rect x="497.45" y="145.75" width="8.75" height="8.95" fill="#717171"/><rect x="505.90" y="145.75" width="8.75" height="8.95" fill="#808080"/><rect x="514.35" y="145.75" width="8.75" height="8.95" fill="#717171"/><rect x="522.80" y="145.75" width="8.75" height="8.95" fill="#555555"/><rect x="531.25" y="145.75" width="8.75" height="8.95" fill="#393939"/><rect x="539.70" y="145.75" width="8.75" height="8.95" fill="#8e8e8e"/><rect x="548.15" y="145.75" width="8.75" height="8.95" fill="#c9c9c9"/><rect x="556.60" y="145.75" width="8.75" height="8.95" fill="#adadad"/><rect x="565.05" y="145.75" width="8.75" height="8.95" fill="#393939"/><rect x="573.50" y="145.75" width="8.75" height="8.95" fill="#555555"/><rect x="581.95" y="145.75" width="8.75" height="8.95" fill="#636363"/><rect x="590.40" y="145.75" width="8.75" height="8.95" fill="#c9c9c9"/><rect x="598.85" y="145.75" width="8.75" height="8.95" fill="#c9c9c9"/><rect x="607.30" y="145.75" width="8.75" height="8.95" fill="#d7d7d7"/><rect x="615.75" y="145.75" width="8.75" height="8.95" fill="#d7d7d7"/><rect x="624.20" y="145.75" width="8.75" height="8.95" fill="#c9c9c9"/><rect x="632.65" y="145.75" width="8.75" height="8.95" fill="#c9c9c9"/><rect x="641.10" y="145.75" width="8.75" height="8.95" fill="#bbbbbb"/><rect x="649.55" y="145.75" width="8.75" height="8.95" fill="#636363"/><rect x="658.00" y="145.75" width="8.75" height="8.95" fill="#636363"/><rect x="666.45" y="145.75" width="8.75" height="8.95" fill="#636363"/><rect x="472.10" y="154.40" width="8.75" height="8.95" fill="#474747"/><rect x="480.55" y="154.40" width="8.75" height="8.95" fill="#474747"/><rect x="489.00" y="154.40" width="8.75" height="8.95" fill="#474747"/><rect x="497.45" y="154.40" width="8.75" height="8.95" fill="#636363"/><rect x="505.90" y="154.40" width="8.75" height="8.95" fill="#808080"/><rect x="514.35" y="154.40" width="8.75" height="8.95" fill="#636363"/><rect x="522.80" y="154.40" width="8.75" height="8.95" fill="#555555"/><rect x="531.25" y="154.40" width="8.75" height="8.95" fill="#393939"/><rect x="539.70" y="154.40" width="8.75" height="8.95" fill="#adadad"/><rect x="548.15" y="154.40" width="8.75" height="8.95" fill="#bbbbbb"/><rect x="556.60" y="154.40" width="8.75" height="8.95" fill="#555555"/><rect x="565.05" y="154.40" width="8.75" height="8.95" fill="#393939"/><rect x="573.50" y="154.40" width="8.75" height="8.95" fill="#adadad"/><rect x="581.95" y="154.40" width="8.75" height="8.95" fill="#bbbbbb"/><rect x="590.40" y="154.40" width="8.75" height="8.95" fill="#717171"/><rect x="598.85" y="154.40" width="8.75" height="8.95" fill="#c9c9c9"/><rect x="607.30" y="154.40" width="8.75" height="8.95" fill="#c9c9c9"/><rect x="615.75" y="154.40" width="8.75" height="8.95" fill="#c9c9c9"/><rect x="624.20" y="154.40" width="8.75" height="8.95" fill="#8e8e8e"/><rect x="632.65" y="154.40" width="8.75" height="8.95" fill="#c9c9c9"/><rect x="641.10" y="154.40" width="8.75" height="8.95" fill="#adadad"/><rect x="649.55" y="154.40" width="8.75" height="8.95" fill="#bbbbbb"/><rect x="658.00" y="154.40" width="8.75" height="8.95" fill="#bbbbbb"/><rect x="666.45" y="154.40" width="8.75" height="8.95" fill="#bbbbbb"/><rect x="472.10" y="163.05" width="8.75" height="8.95" fill="#555555"/><rect x="480.55" y="163.05" width="8.75" height="8.95" fill="#555555"/><rect x="489.00" y="163.05" width="8.75" height="8.95" fill="#555555"/><rect x="497.45" y="163.05" width="8.75" height="8.95" fill="#636363"/><rect x="505.90" y="163.05" width="8.75" height="8.95" fill="#717171"/><rect x="514.35" y="163.05" width="8.75" height="8.95" fill="#717171"/><rect x="522.80" y="163.05" width="8.75" height="8.95" fill="#555555"/><rect x="531.25" y="163.05" width="8.75" height="8.95" fill="#393939"/><rect x="539.70" y="163.05" width="8.75" height="8.95" fill="#8e8e8e"/><rect x="548.15" y="163.05" width="8.75" height="8.95" fill="#adadad"/><rect x="556.60" y="163.05" width="8.75" height="8.95" fill="#474747"/><rect x="565.05" y="163.05" width="8.75" height="8.95" fill="#393939"/><rect x="573.50" y="163.05" width="8.75" height="8.95" fill="#bbbbbb"/><rect x="581.95" y="163.05" width="8.75" height="8.95" fill="#bbbbbb"/><rect x="590.40" y="163.05" width="8.75" height="8.95" fill="#c9c9c9"/><rect x="598.85" y="163.05" width="8.75" height="8.95" fill="#555555"/><rect x="607.30" y="163.05" width="8.75" height="8.95" fill="#c9c9c9"/><rect x="615.75" y="163.05" width="8.75" height="8.95" fill="#555555"/><rect x="624.20" y="163.05" width="8.75" height="8.95" fill="#474747"/><rect x="632.65" y="163.05" width="8.75" height="8.95" fill="#717171"/><rect x="641.10" y="163.05" width="8.75" height="8.95" fill="#555555"/><rect x="649.55" y="163.05" width="8.75" height="8.95" fill="#bbbbbb"/><rect x="658.00" y="163.05" width="8.75" height="8.95" fill="#bbbbbb"/><rect x="666.45" y="163.05" width="8.75" height="8.95" fill="#bbbbbb"/><rect x="472.10" y="171.70" width="8.75" height="8.95" fill="#636363"/><rect x="480.55" y="171.70" width="8.75" height="8.95" fill="#636363"/><rect x="489.00" y="171.70" width="8.75" height="8.95" fill="#636363"/><rect x="497.45" y="171.70" width="8.75" height="8.95" fill="#8e8e8e"/><rect x="505.90" y="171.70" width="8.75" height="8.95" fill="#717171"/><rect x="514.35" y="171.70" width="8.75" height="8.95" fill="#636363"/><rect x="522.80" y="171.70" width="8.75" height="8.95" fill="#555555"/><rect x="531.25" y="171.70" width="8.75" height="8.95" fill="#474747"/><rect x="539.70" y="171.70" width="8.75" height="8.95" fill="#808080"/><rect x="548.15" y="171.70" width="8.75" height="8.95" fill="#8e8e8e"/><rect x="556.60" y="171.70" width="8.75" height="8.95" fill="#393939"/><rect x="565.05" y="171.70" width="8.75" height="8.95" fill="#393939"/><rect x="573.50" y="171.70" width="8.75" height="8.95" fill="#555555"/><rect x="581.95" y="171.70" width="8.75" height="8.95" fill="#c9c9c9"/><rect x="590.40" y="171.70" width="8.75" height="8.95" fill="#8e8e8e"/><rect x="598.85" y="171.70" width="8.75" height="8.95" fill="#636363"/><rect x="607.30" y="171.70" width="8.75" height="8.95" fill="#555555"/><rect x="615.75" y="171.70" width="8.75" height="8.95" fill="#636363"/><rect x="624.20" y="171.70" width="8.75" height="8.95" fill="#636363"/><rect x="632.65" y="171.70" width="8.75" height="8.95" fill="#bbbbbb"/><rect x="641.10" y="171.70" width="8.75" height="8.95" fill="#bbbbbb"/><rect x="649.55" y="171.70" width="8.75" height="8.95" fill="#adadad"/><rect x="658.00" y="171.70" width="8.75" height="8.95" fill="#adadad"/><rect x="666.45" y="171.70" width="8.75" height="8.95" fill="#adadad"/><rect x="472.10" y="180.35" width="8.75" height="8.95" fill="#555555"/><rect x="480.55" y="180.35" width="8.75" height="8.95" fill="#555555"/><rect x="489.00" y="180.35" width="8.75" height="8.95" fill="#555555"/><rect x="497.45" y="180.35" width="8.75" height="8.95" fill="#636363"/><rect x="505.90" y="180.35" width="8.75" height="8.95" fill="#555555"/><rect x="514.35" y="180.35" width="8.75" height="8.95" fill="#636363"/><rect x="522.80" y="180.35" width="8.75" height="8.95" fill="#555555"/><rect x="531.25" y="180.35" width="8.75" height="8.95" fill="#474747"/><rect x="539.70" y="180.35" width="8.75" height="8.95" fill="#8e8e8e"/><rect x="548.15" y="180.35" width="8.75" height="8.95" fill="#555555"/><rect x="556.60" y="180.35" width="8.75" height="8.95" fill="#393939"/><rect x="565.05" y="180.35" width="8.75" height="8.95" fill="#393939"/><rect x="573.50" y="180.35" width="8.75" height="8.95" fill="#393939"/><rect x="581.95" y="180.35" width="8.75" height="8.95" fill="#adadad"/><rect x="590.40" y="180.35" width="8.75" height="8.95" fill="#555555"/><rect x="598.85" y="180.35" width="8.75" height="8.95" fill="#555555"/><rect x="607.30" y="180.35" width="8.75" height="8.95" fill="#bbbbbb"/><rect x="615.75" y="180.35" width="8.75" height="8.95" fill="#bbbbbb"/><rect x="624.20" y="180.35" width="8.75" height="8.95" fill="#bbbbbb"/><rect x="632.65" y="180.35" width="8.75" height="8.95" fill="#bbbbbb"/><rect x="641.10" y="180.35" width="8.75" height="8.95" fill="#adadad"/><rect x="649.55" y="180.35" width="8.75" height="8.95" fill="#bbbbbb"/><rect x="658.00" y="180.35" width="8.75" height="8.95" fill="#bbbbbb"/><rect x="666.45" y="180.35" width="8.75" height="8.95" fill="#bbbbbb"/><rect x="472.10" y="189.00" width="8.75" height="8.95" fill="#555555"/><rect x="480.55" y="189.00" width="8.75" height="8.95" fill="#555555"/><rect x="489.00" y="189.00" width="8.75" height="8.95" fill="#555555"/><rect x="497.45" y="189.00" width="8.75" height="8.95" fill="#636363"/><rect x="505.90" y="189.00" width="8.75" height="8.95" fill="#555555"/><rect x="514.35" y="189.00" width="8.75" height="8.95" fill="#636363"/><rect x="522.80" y="189.00" width="8.75" height="8.95" fill="#555555"/><rect x="531.25" y="189.00" width="8.75" height="8.95" fill="#474747"/><rect x="539.70" y="189.00" width="8.75" height="8.95" fill="#8e8e8e"/><rect x="548.15" y="189.00" width="8.75" height="8.95" fill="#555555"/><rect x="556.60" y="189.00" width="8.75" height="8.95" fill="#393939"/><rect x="565.05" y="189.00" width="8.75" height="8.95" fill="#393939"/><rect x="573.50" y="189.00" width="8.75" height="8.95" fill="#393939"/><rect x="581.95" y="189.00" width="8.75" height="8.95" fill="#adadad"/><rect x="590.40" y="189.00" width="8.75" height="8.95" fill="#555555"/><rect x="598.85" y="189.00" width="8.75" height="8.95" fill="#555555"/><rect x="607.30" y="189.00" width="8.75" height="8.95" fill="#bbbbbb"/><rect x="615.75" y="189.00" width="8.75" height="8.95" fill="#bbbbbb"/><rect x="624.20" y="189.00" width="8.75" height="8.95" fill="#bbbbbb"/><rect x="632.65" y="189.00" width="8.75" height="8.95" fill="#bbbbbb"/><rect x="641.10" y="189.00" width="8.75" height="8.95" fill="#adadad"/><rect x="649.55" y="189.00" width="8.75" height="8.95" fill="#bbbbbb"/><rect x="658.00" y="189.00" width="8.75" height="8.95" fill="#bbbbbb"/><rect x="666.45" y="189.00" width="8.75" height="8.95" fill="#bbbbbb"/><rect x="472.10" y="197.65" width="8.75" height="8.95" fill="#555555"/><rect x="480.55" y="197.65" width="8.75" height="8.95" fill="#555555"/><rect x="489.00" y="197.65" width="8.75" height="8.95" fill="#555555"/><rect x="497.45" y="197.65" width="8.75" height="8.95" fill="#636363"/><rect x="505.90" y="197.65" width="8.75" height="8.95" fill="#555555"/><rect x="514.35" y="197.65" width="8.75" height="8.95" fill="#636363"/><rect x="522.80" y="197.65" width="8.75" height="8.95" fill="#555555"/><rect x="531.25" y="197.65" width="8.75" height="8.95" fill="#474747"/><rect x="539.70" y="197.65" width="8.75" height="8.95" fill="#8e8e8e"/><rect x="548.15" y="197.65" width="8.75" height="8.95" fill="#555555"/><rect x="556.60" y="197.65" width="8.75" height="8.95" fill="#393939"/><rect x="565.05" y="197.65" width="8.75" height="8.95" fill="#393939"/><rect x="573.50" y="197.65" width="8.75" height="8.95" fill="#393939"/><rect x="581.95" y="197.65" width="8.75" height="8.95" fill="#adadad"/><rect x="590.40" y="197.65" width="8.75" height="8.95" fill="#555555"/><rect x="598.85" y="197.65" width="8.75" height="8.95" fill="#555555"/><rect x="607.30" y="197.65" width="8.75" height="8.95" fill="#bbbbbb"/><rect x="615.75" y="197.65" width="8.75" height="8.95" fill="#bbbbbb"/><rect x="624.20" y="197.65" width="8.75" height="8.95" fill="#bbbbbb"/><rect x="632.65" y="197.65" width="8.75" height="8.95" fill="#bbbbbb"/><rect x="641.10" y="197.65" width="8.75" height="8.95" fill="#adadad"/><rect x="649.55" y="197.65" width="8.75" height="8.95" fill="#bbbbbb"/><rect x="658.00" y="197.65" width="8.75" height="8.95" fill="#bbbbbb"/><rect x="666.45" y="197.65" width="8.75" height="8.95" fill="#bbbbbb"/></g>
</g>
<rect x="494" y="180.5" width="31" height="2.2" fill="#f0f0f0"/>
<text x="495.5" y="177.5" style="font-family:'Liberation Sans',sans-serif;font-size:7.6px" fill="#f0f0f0" text-anchor="start" >400 nm</text>
<rect x="682.0" y="58.5" width="11" height="88" fill="url(#afmgrad)" stroke="#3a3a3a" stroke-width="1"/>
<text x="671" y="57" style="font-family:'Liberation Sans',sans-serif;font-size:10px" fill="#333" text-anchor="start" >194.9 °</text>
<text x="671.5" y="156" style="font-family:'Liberation Sans',sans-serif;font-size:10px" fill="#333" text-anchor="start" >-86.9 °</text>
<line x1="747.5" y1="14.8" x2="942.5" y2="14.8" stroke="#505050" stroke-width="1.2"/>
<line x1="747.5" y1="175.2" x2="942.5" y2="175.2" stroke="#333" stroke-width="1.2"/>
<line x1="747.6" y1="14.2" x2="747.6" y2="175.8" stroke="#3838e0" stroke-width="1.3"/>
<line x1="942.3" y1="14.2" x2="942.3" y2="175.8" stroke="#e03838" stroke-width="1.3"/>
<line x1="747.6" y1="30.7" x2="750.6" y2="30.7" stroke="#3838e0" stroke-width="1.2"/>
<text x="744.5" y="33.900000000000006" style="font-family:'Liberation Serif',serif;font-size:9.6px" fill="#3838d8" text-anchor="end" >100</text>
<line x1="747.6" y1="62.8" x2="750.6" y2="62.8" stroke="#3838e0" stroke-width="1.2"/>
<text x="744.5" y="66.025" style="font-family:'Liberation Serif',serif;font-size:9.6px" fill="#3838d8" text-anchor="end" >50</text>
<line x1="747.6" y1="95.0" x2="750.6" y2="95.0" stroke="#3838e0" stroke-width="1.2"/>
<text x="744.5" y="98.15" style="font-family:'Liberation Serif',serif;font-size:9.6px" fill="#3838d8" text-anchor="end" >0</text>
<line x1="747.6" y1="127.1" x2="750.6" y2="127.1" stroke="#3838e0" stroke-width="1.2"/>
<text x="744.5" y="130.275" style="font-family:'Liberation Serif',serif;font-size:9.6px" fill="#3838d8" text-anchor="end" >-50</text>
<line x1="747.6" y1="159.2" x2="750.6" y2="159.2" stroke="#3838e0" stroke-width="1.2"/>
<text x="744.5" y="162.39999999999998" style="font-family:'Liberation Serif',serif;font-size:9.6px" fill="#3838d8" text-anchor="end" >-100</text>
<line x1="747.6" y1="46.8" x2="749.6" y2="46.8" stroke="#3838e0" stroke-width="1"/>
<line x1="747.6" y1="78.9" x2="749.6" y2="78.9" stroke="#3838e0" stroke-width="1"/>
<line x1="747.6" y1="111.0" x2="749.6" y2="111.0" stroke="#3838e0" stroke-width="1"/>
<line x1="747.6" y1="143.1" x2="749.6" y2="143.1" stroke="#3838e0" stroke-width="1"/>
<line x1="766.6" y1="175.2" x2="766.6" y2="172.2" stroke="#333" stroke-width="1.2"/>
<text x="766.6" y="186.4" style="font-family:'Liberation Serif',serif;font-size:10.4px" fill="#333" text-anchor="middle" stroke="#333" stroke-width="0.2">-10</text>
<line x1="805.6" y1="175.2" x2="805.6" y2="172.2" stroke="#333" stroke-width="1.2"/>
<text x="805.625" y="186.4" style="font-family:'Liberation Serif',serif;font-size:10.4px" fill="#333" text-anchor="middle" stroke="#333" stroke-width="0.2">-5</text>
<line x1="844.6" y1="175.2" x2="844.6" y2="172.2" stroke="#333" stroke-width="1.2"/>
<text x="844.65" y="186.4" style="font-family:'Liberation Serif',serif;font-size:10.4px" fill="#333" text-anchor="middle" stroke="#333" stroke-width="0.2">0</text>
<line x1="883.7" y1="175.2" x2="883.7" y2="172.2" stroke="#333" stroke-width="1.2"/>
<text x="883.675" y="186.4" style="font-family:'Liberation Serif',serif;font-size:10.4px" fill="#333" text-anchor="middle" stroke="#333" stroke-width="0.2">5</text>
<line x1="922.7" y1="175.2" x2="922.7" y2="172.2" stroke="#333" stroke-width="1.2"/>
<text x="922.6999999999999" y="186.4" style="font-family:'Liberation Serif',serif;font-size:10.4px" fill="#333" text-anchor="middle" stroke="#333" stroke-width="0.2">10</text>
<line x1="786.1" y1="175.2" x2="786.1" y2="173.2" stroke="#333" stroke-width="1"/>
<line x1="825.1" y1="175.2" x2="825.1" y2="173.2" stroke="#333" stroke-width="1"/>
<line x1="864.2" y1="175.2" x2="864.2" y2="173.2" stroke="#333" stroke-width="1"/>
<line x1="903.2" y1="175.2" x2="903.2" y2="173.2" stroke="#333" stroke-width="1"/>
<line x1="942.3" y1="148.3" x2="939.3" y2="148.3" stroke="#e03838" stroke-width="1.2"/>
<text x="945.5" y="151.5" style="font-family:'Liberation Serif',serif;font-size:9.6px" fill="#d84040" text-anchor="start" >0</text>
<line x1="942.3" y1="94.7" x2="939.3" y2="94.7" stroke="#e03838" stroke-width="1.2"/>
<text x="945.5" y="97.85000000000001" style="font-family:'Liberation Serif',serif;font-size:9.6px" fill="#d84040" text-anchor="start" >100</text>
<line x1="942.3" y1="41.0" x2="939.3" y2="41.0" stroke="#e03838" stroke-width="1.2"/>
<text x="945.5" y="44.20000000000002" style="font-family:'Liberation Serif',serif;font-size:9.6px" fill="#d84040" text-anchor="start" >200</text>
<line x1="942.3" y1="121.5" x2="940.3" y2="121.5" stroke="#e03838" stroke-width="1"/>
<line x1="942.3" y1="67.8" x2="940.3" y2="67.8" stroke="#e03838" stroke-width="1"/>
<text x="845" y="203.5" style="font-family:'Liberation Serif',serif;font-size:10.6px" fill="#3a3a3a" text-anchor="middle" stroke="#3a3a3a" stroke-width="0.2">Applied Voltage (V)</text>
<text x="0" y="0" style="font-family:'Liberation Serif',serif;font-size:10.6px" fill="#3838d8" text-anchor="middle" transform="translate(723,95) rotate(-90)">Phase (°)</text>
<text x="0" y="0" style="font-family:'Liberation Serif',serif;font-size:10.6px" fill="#d84040" text-anchor="middle" transform="translate(968,95) rotate(-90)">Amplitude (pm)</text>
<path d="M765.9,146.2 L766.7,146.0 L767.2,146.5 L767.6,146.8 L768.2,146.7 L768.8,146.0 L769.6,147.4 L770.0,146.3 L770.9,147.6 L771.5,146.6 L772.3,145.9 L772.9,146.4 L773.1,146.0 L773.8,147.3 L774.3,146.9 L775.2,146.5 L775.7,145.9 L776.1,146.2 L777.0,146.6 L777.4,146.9 L778.1,146.3 L778.9,147.0 L779.2,146.8 L780.0,147.4 L780.7,146.3 L781.4,146.0 L781.7,147.1 L782.2,146.6 L782.8,147.0 L783.8,146.8 L784.4,146.3 L784.9,146.8 L785.5,146.5 L786.2,147.4 L786.6,146.9 L787.0,147.0 L787.9,147.5 L788.6,146.2 L789.0,146.9 L789.4,146.5 L790.1,145.9 L790.7,147.1 L791.3,146.1 L792.0,147.2 L792.5,146.5 L793.3,147.2 L794.1,147.2 L794.4,146.4 L795.1,147.2 L796.0,145.9 L796.2,146.0 L796.8,146.5 L797.6,146.1 L797.9,146.4 L798.7,146.6 L799.6,146.8 L800.0,146.7 L800.7,145.7 L801.4,147.0 L802.0,147.0 L802.3,146.2 L802.8,146.6 L803.4,145.6 L804.0,145.8 L804.7,145.5 L805.1,145.7 L805.8,146.1 L806.3,147.0 L807.3,145.6 L807.7,146.0 L808.3,145.5 L809.2,147.1 L809.6,146.2 L810.0,145.4 L810.7,145.7 L811.6,145.5 L811.7,146.9 L812.6,145.4 L813.2,145.2 L813.8,146.9 L814.6,146.4 L814.9,145.8 L815.4,146.5 L816.2,146.5 L816.7,145.4 L817.6,146.8 L818.2,146.5 L818.8,146.3 L819.1,145.9 L819.7,145.0 L820.1,145.4 L820.9,146.1 L821.8,145.7 L822.4,146.6 L823.0,145.5 L823.2,145.2 L823.8,145.2 L824.7,146.4 L825.4,145.6 L825.9,146.2 L826.2,145.9 L827.2,146.1 L827.7,145.5 L828.0,146.1 L828.7,146.1 L829.7,145.3 L829.9,146.3 L830.7,144.8 L831.0,144.7 L832.1,145.8 L832.3,145.7 L833.3,145.3 L833.6,145.0 L834.1,144.0 L835.2,145.0 L835.6,145.4 L836.1,145.2 L836.9,143.9 L837.3,144.0 L837.9,144.4 L838.5,144.0 L839.0,144.8 L839.8,143.9 L840.5,144.6 L841.0,144.5 L841.7,143.7 L842.3,142.7 L842.9,142.9 L843.3,143.9 L844.0,143.2 L844.9,143.3 L845.3,143.1 L846.0,143.5 L846.2,142.7 L846.7,141.7 L847.4,141.7 L847.7,141.8 L848.4,140.8 L848.6,140.4 L849.0,140.3 L849.0,139.5 L849.0,139.6 L849.1,138.9 L849.3,137.2 L849.1,137.8 L849.2,135.7 L848.8,135.7 L848.8,134.7 L848.8,134.9 L849.2,134.7 L848.9,133.8 L849.1,132.1 L849.3,133.0 L848.9,132.4 L849.0,131.0 L849.3,131.0 L848.9,129.7 L849.1,128.9 L848.9,128.2 L849.2,127.1 L849.1,127.3 L848.8,126.5 L849.2,126.2 L848.9,126.4 L849.3,125.8 L848.9,123.9 L848.9,124.3 L849.0,122.5 L849.1,123.3 L849.3,121.5 L849.0,122.1 L849.2,121.1 L848.9,119.4 L849.3,119.4 L848.9,119.7 L849.2,118.9 L848.9,118.4 L848.9,117.8 L849.2,116.3 L849.2,116.7 L849.1,114.7 L849.2,114.3 L849.0,113.5 L849.0,113.0 L849.1,112.6 L849.3,112.0 L849.2,111.1 L849.1,110.3 L849.1,109.7 L849.4,110.0 L849.1,109.3 L849.5,108.0 L849.4,108.0 L849.2,108.1 L849.2,106.9 L849.4,107.2 L849.2,106.3 L849.4,105.4 L849.2,104.2 L849.0,103.2 L849.0,103.7 L849.1,102.1 L849.1,102.7 L849.5,101.8 L849.2,100.4 L849.2,100.2 L849.1,99.6 L849.2,99.9 L849.6,98.6 L849.2,98.7 L849.2,97.0 L849.1,96.5 L849.3,96.1 L849.2,95.5 L849.1,94.5 L849.1,94.1 L849.1,92.8 L849.2,92.6 L849.4,92.5 L849.5,92.2 L849.5,92.0 L849.3,90.4 L849.6,89.4 L849.5,89.7 L849.1,89.5 L849.6,88.5 L849.5,88.2 L849.2,87.1 L849.4,87.1 L849.6,86.5 L849.5,86.0 L849.5,85.0 L849.3,83.2 L849.2,83.2 L849.2,83.5 L849.5,82.5 L849.5,82.0 L849.4,80.2 L849.6,80.9 L849.5,79.9 L849.5,78.5 L849.6,78.2 L849.2,77.6 L849.6,76.9 L849.6,77.7 L849.5,76.0 L849.5,76.0 L849.6,75.2 L849.6,73.7 L849.3,73.4 L849.6,72.9 L849.5,71.8 L849.3,71.6 L849.6,71.8 L849.6,70.5 L849.5,70.2 L849.5,68.9 L849.7,68.5 L849.8,69.2 L849.3,67.7 L849.7,68.1 L849.5,66.2 L849.4,66.8 L849.4,65.6 L849.4,64.9 L849.8,63.5 L849.7,63.6 L849.8,63.4 L849.4,63.1 L849.6,60.9 L849.3,61.2 L849.6,60.2 L849.4,59.7 L849.5,60.0 L849.4,59.2 L849.9,57.5 L849.9,58.0 L850.0,56.6 L849.7,56.2 L850.1,55.9 L849.7,55.0 L849.7,53.7 L849.7,54.5 L849.8,54.1 L849.8,52.3 L850.0,51.6 L849.9,52.3 L850.2,51.5 L850.1,51.0 L850.3,49.8 L850.2,48.3 L850.2,48.4 L850.3,48.1 L850.1,46.5 L850.4,46.0 L850.2,45.8 L850.1,45.9 L850.5,44.4 L850.4,43.9 L850.4,43.4 L850.2,42.4 L850.2,43.2 L850.4,41.3 L850.7,42.1 L850.4,40.0 L850.3,39.3 L850.8,38.7 L851.1,38.4 L851.6,39.0 L852.1,37.6 L852.2,37.2 L852.6,36.3 L852.8,35.6 L853.9,35.1 L854.3,35.9 L855.1,34.9 L855.4,34.8 L856.1,35.0 L857.0,35.5 L857.6,33.8 L857.7,34.9 L858.8,34.4 L859.2,33.5 L859.7,35.0 L860.6,34.8 L861.3,33.7 L861.4,33.4 L862.2,34.3 L863.0,34.3 L863.5,34.3 L864.0,33.8 L864.4,34.2 L865.1,34.4 L865.9,33.2 L866.2,33.0 L867.1,33.7 L867.4,32.5 L868.2,33.4 L868.7,32.7 L869.5,32.2 L869.9,32.9 L870.8,33.3 L871.4,32.9 L871.7,32.5 L872.6,33.3 L872.9,32.1 L873.6,33.3 L874.2,32.5 L874.9,33.7 L875.3,32.1 L875.9,32.8 L876.7,32.3 L877.4,33.3 L877.8,32.3 L878.7,32.5 L879.2,32.4 L879.4,33.3 L880.1,33.6 L880.8,32.3 L881.3,32.7 L882.1,33.6 L882.4,32.6 L883.0,33.6 L883.6,32.0 L884.2,32.6 L885.2,33.4 L885.7,33.6 L886.4,32.4 L886.6,33.5 L887.5,31.9 L888.1,32.5 L888.5,32.4 L889.0,31.8 L889.7,32.4 L890.6,32.0 L891.3,32.1 L891.5,33.2 L892.4,32.5 L892.6,32.6 L893.3,33.4 L893.8,32.4 L894.8,31.7 L895.2,33.1 L895.9,31.7 L896.1,31.8 L897.2,32.1 L897.7,33.3 L898.1,32.1 L899.0,32.7 L899.3,32.9 L899.9,32.1 L900.3,33.0 L901.4,32.8 L902.1,31.8 L902.3,32.6 L903.3,33.5 L903.6,32.3 L904.2,32.8 L905.1,32.3 L905.7,33.3 L906.3,33.4 L906.8,32.6 L907.2,32.8 L908.1,32.3 L908.4,33.5 L909.0,32.3 L909.5,33.3 L910.3,34.1 L911.2,34.1 L911.5,32.5 L912.0,33.3 L912.9,33.3 L913.3,33.3 L914.1,33.8 L914.8,34.1 L915.4,32.9 L916.1,33.2 L916.5,33.4 L917.2,33.1 L917.6,33.2 L918.1,34.4 L919.0,33.5 L919.5,34.7 L920.2,33.4 L920.9,34.2 L921.7,33.2 L922.0,34.0" fill="none" stroke="#3636c8" stroke-width="0.9"/>
<path d="M922.0,34.6 L921.6,34.7 L920.5,33.6 L920.0,33.4 L919.8,34.1 L919.2,33.7 L918.6,33.8 L917.6,34.4 L917.4,33.1 L916.6,34.0 L915.8,33.6 L915.2,33.3 L914.6,34.0 L914.2,33.2 L913.3,33.4 L913.0,33.2 L912.2,33.2 L911.9,33.8 L910.9,32.9 L910.5,33.7 L910.0,32.9 L909.1,34.0 L908.7,33.2 L908.0,34.4 L907.4,33.7 L906.8,33.4 L906.5,34.4 L905.6,32.9 L905.2,32.9 L904.2,34.2 L903.8,34.0 L903.2,34.1 L902.7,32.8 L901.8,33.5 L901.5,34.1 L900.6,33.6 L900.2,33.3 L899.5,32.9 L899.1,34.0 L898.2,33.2 L898.0,34.1 L897.1,32.6 L896.9,34.1 L896.0,32.4 L895.7,33.0 L895.0,33.4 L894.4,32.5 L893.8,32.6 L893.0,33.7 L892.6,32.5 L891.7,32.9 L891.2,32.8 L890.4,32.6 L890.1,33.7 L889.1,33.1 L888.9,32.2 L888.4,32.3 L887.6,33.1 L887.0,32.7 L886.3,33.2 L885.7,33.4 L885.1,33.0 L884.3,33.3 L883.9,32.6 L883.4,33.6 L882.7,32.6 L882.1,32.5 L881.3,33.0 L880.6,33.1 L880.2,32.4 L879.7,32.5 L879.2,33.7 L878.4,32.4 L877.8,33.0 L877.4,32.6 L876.8,34.2 L876.1,33.8 L875.2,34.2 L874.8,34.1 L874.4,32.7 L873.7,34.1 L872.7,33.1 L872.5,32.7 L871.9,33.0 L871.3,32.7 L870.5,34.1 L869.7,33.0 L869.3,33.1 L868.4,32.9 L867.9,34.2 L867.5,34.2 L866.7,34.0 L866.0,33.5 L865.7,33.2 L865.2,33.6 L864.5,34.4 L863.6,34.8 L863.3,33.9 L862.8,33.9 L862.3,34.7 L861.4,35.2 L860.9,34.4 L860.5,34.4 L859.9,34.9 L859.2,36.5 L858.6,36.1 L857.9,35.1 L857.6,36.0 L857.9,37.1 L857.7,38.5 L857.4,37.9 L857.6,38.1 L857.1,39.3 L857.1,39.9 L857.1,41.0 L857.1,40.9 L857.1,42.0 L856.7,43.4 L856.7,42.6 L856.5,44.0 L856.8,44.9 L856.4,44.6 L856.2,45.9 L856.5,45.9 L856.6,46.7 L856.7,47.8 L856.3,48.7 L856.2,48.7 L856.4,48.8 L856.2,50.3 L856.2,50.5 L856.7,50.4 L856.3,51.8 L856.4,52.5 L856.6,52.3 L856.3,53.1 L856.2,54.8 L856.6,55.1 L856.1,55.9 L856.5,55.8 L856.5,56.4 L856.2,56.4 L856.2,56.9 L856.3,58.7 L856.5,59.5 L856.5,59.1 L856.4,60.0 L856.5,60.8 L856.2,61.6 L856.6,61.4 L856.5,61.7 L856.2,62.7 L856.5,64.5 L856.5,64.0 L856.5,64.6 L856.2,66.3 L856.4,66.5 L856.4,67.6 L856.3,68.0 L856.4,68.6 L856.3,69.0 L856.3,68.8 L856.1,70.0 L856.0,71.1 L856.1,70.1 L856.0,72.4 L856.2,71.6 L856.0,72.0 L856.3,73.6 L856.3,74.4 L856.0,74.8 L856.2,75.8 L856.4,76.5 L856.0,77.1 L856.4,77.8 L856.0,77.1 L856.0,77.4 L856.4,79.4 L856.3,80.0 L856.3,79.7 L856.0,79.9 L856.3,80.7 L856.1,81.7 L855.9,82.0 L856.0,83.5 L856.1,83.4 L856.4,84.3 L856.3,85.1 L855.9,85.3 L856.1,86.6 L856.0,87.1 L856.1,86.8 L856.3,87.2 L856.3,87.9 L855.8,88.6 L856.2,90.6 L855.8,90.3 L856.1,91.5 L855.9,91.5 L856.0,92.7 L855.9,93.5 L855.9,92.8 L856.2,94.0 L855.8,94.8 L855.8,95.7 L856.1,96.3 L856.1,96.1 L856.0,96.8 L856.2,96.8 L856.2,97.3 L855.9,98.4 L856.2,99.4 L855.9,100.7 L855.8,100.5 L856.0,101.7 L856.1,102.1 L855.9,102.1 L855.7,103.6 L856.0,104.1 L855.7,104.1 L856.0,105.0 L855.7,105.4 L856.1,105.6 L855.7,106.3 L856.0,107.9 L855.6,107.2 L855.7,108.2 L855.8,108.5 L855.7,109.1 L856.0,110.7 L855.5,111.7 L855.5,111.3 L856.0,112.6 L855.8,112.6 L855.5,113.6 L855.5,113.4 L855.6,113.7 L855.6,115.7 L855.8,115.7 L855.7,116.3 L855.4,117.1 L855.6,118.0 L855.8,118.0 L855.6,119.2 L855.5,118.9 L855.7,120.7 L855.7,120.9 L855.7,121.5 L855.6,121.7 L855.4,122.6 L855.3,122.9 L855.6,124.0 L855.5,123.8 L855.4,124.7 L855.5,125.3 L855.5,126.8 L855.2,126.9 L855.6,127.0 L855.4,128.7 L855.1,128.5 L855.2,129.6 L855.6,129.7 L855.1,130.4 L855.4,131.3 L855.3,131.7 L855.5,132.1 L855.2,133.5 L855.1,133.6 L855.2,134.4 L855.0,135.4 L855.2,134.3 L855.1,135.5 L854.9,136.2 L855.2,137.3 L855.1,137.1 L855.0,138.6 L855.4,138.8 L855.0,139.9 L855.1,139.4 L854.9,141.1 L855.3,141.4 L855.1,141.9 L854.9,143.2 L855.0,143.2 L855.2,144.1 L855.0,143.8 L855.1,144.1 L855.2,145.1 L855.2,145.6 L854.6,146.1 L854.3,146.4 L853.7,147.9 L853.5,147.5 L853.2,148.5 L853.0,149.2 L852.5,148.4 L852.1,149.0 L851.1,148.6 L851.0,148.2 L850.0,147.9 L849.7,146.1 L848.8,147.5 L848.6,145.9 L847.8,145.4 L847.3,146.5 L846.7,145.4 L846.4,146.6 L845.4,146.8 L845.1,146.7 L844.5,146.9 L844.0,146.8 L843.0,146.6 L842.6,146.7 L842.0,147.0 L841.4,145.9 L840.7,145.8 L840.2,145.6 L839.6,145.8 L839.0,146.5 L838.4,147.2 L837.5,147.2 L837.2,146.7 L836.7,147.2 L835.9,146.5 L835.6,145.9 L834.9,147.0 L833.9,147.0 L833.7,147.6 L832.9,147.7 L832.4,146.8 L832.0,146.1 L831.3,147.2 L830.5,147.6 L829.9,147.0 L829.4,147.5 L828.6,146.9 L828.2,147.1 L827.8,146.7 L827.2,146.9 L826.4,146.6 L825.8,147.9 L825.3,147.6 L824.5,146.8 L823.9,147.3 L823.5,147.6 L822.6,147.5 L822.4,147.2 L821.4,146.8 L820.7,146.6 L820.6,147.4 L819.9,147.7 L819.4,147.4 L818.7,147.4 L818.1,147.4 L817.5,146.7 L816.9,147.1 L816.3,146.5 L815.4,146.4 L815.1,148.0 L814.5,147.0 L814.0,147.8 L813.2,146.8 L812.5,147.1 L811.9,147.2 L811.5,148.1 L810.6,147.4 L810.0,146.6 L809.8,147.5 L809.2,147.3 L808.1,147.2 L807.8,148.2 L807.5,147.3 L806.6,146.7 L806.1,146.9 L805.2,146.5 L804.5,147.8 L804.0,148.3 L803.4,148.1 L802.8,146.6 L802.5,147.0 L801.9,146.9 L801.0,148.0 L800.7,148.1 L800.1,146.8 L799.5,147.9 L798.8,148.3 L798.0,148.3 L797.7,146.6 L796.7,147.8 L796.5,146.7 L795.6,147.9 L795.0,148.1 L794.5,146.7 L793.9,147.6 L793.3,147.8 L792.5,148.0 L792.0,147.7 L791.6,147.3 L790.8,148.0 L790.5,148.0 L789.7,147.1 L788.8,148.3 L788.6,148.0 L787.8,147.6 L787.5,148.0 L786.7,147.1 L786.0,148.1 L785.4,147.7 L784.9,148.1 L784.4,147.0 L783.3,147.0 L783.0,147.6 L782.6,148.1 L781.5,148.0 L781.3,148.1 L780.6,147.0 L780.2,147.9 L779.5,148.1 L778.7,146.6 L778.2,147.9 L777.4,147.8 L777.2,146.9 L776.4,147.7 L775.7,146.8 L775.0,147.8 L774.7,147.3 L773.7,147.9 L773.4,146.9 L772.7,148.1 L772.3,147.4 L771.5,147.5 L770.7,146.8 L770.1,147.7 L769.6,147.4 L769.0,147.3 L768.2,146.5 L768.1,147.1 L767.0,147.5 L766.8,146.7 L766.0,147.3" fill="none" stroke="#3636c8" stroke-width="0.9"/>
<line x1="850" y1="31.5" x2="850" y2="146" stroke="#a0a0c0" stroke-width="0.8"/>
<path d="M852.5,146 L852.8,60 L853.5,40 M854.2,148 L854.8,44" fill="none" stroke="#5a5ad8" stroke-width="0.7"/>
<path d="M763.5,26.8 L763.9,26.7 L764.0,28.7 L764.8,28.4 L765.1,28.5 L765.5,29.2 L766.0,30.3 L766.3,31.0 L766.4,30.0 L766.8,30.7 L767.1,31.0 L767.7,32.8 L768.1,33.4 L768.7,32.4 L768.9,33.4 L769.1,34.8 L769.5,34.6 L770.1,35.7 L770.5,35.3 L770.7,35.4 L771.3,37.2 L771.3,36.2 L771.7,37.1 L772.4,38.5 L772.8,37.6 L773.1,39.2 L773.4,40.1 L773.5,39.2 L774.2,41.0 L774.5,40.4 L774.9,41.6 L775.0,41.4 L775.4,41.6 L775.9,42.1 L776.2,42.5 L776.8,42.8 L777.1,43.6 L777.2,45.2 L777.6,45.7 L778.3,46.1 L778.3,45.9 L778.7,47.1 L779.4,47.1 L779.6,47.1 L780.2,47.8 L780.4,47.8 L780.6,48.1 L781.2,49.4 L781.3,50.4 L781.7,50.1 L782.1,50.4 L782.8,51.0 L782.8,51.7 L783.2,52.8 L783.5,53.4 L783.9,53.8 L784.5,53.1 L784.8,53.7 L785.1,54.1 L785.5,55.8 L786.2,56.2 L786.1,55.7 L786.9,55.8 L787.1,56.6 L787.6,56.6 L787.9,57.6 L788.0,57.6 L788.7,58.9 L788.7,59.2 L789.5,59.4 L789.7,59.7 L789.8,61.2 L790.5,60.8 L790.5,61.1 L791.2,62.2 L791.4,62.2 L791.9,63.5 L792.4,63.8 L792.4,63.4 L793.1,64.4 L793.4,64.3 L793.9,65.3 L794.2,66.6 L794.4,65.7 L795.0,66.9 L795.4,67.1 L795.4,68.4 L795.9,67.9 L796.2,69.0 L796.4,69.4 L797.0,69.8 L797.2,70.6 L797.9,71.4 L798.1,71.6 L798.5,72.1 L798.7,72.8 L799.5,72.7 L799.6,73.2 L800.0,72.9 L800.6,73.7 L800.6,74.0 L801.0,75.6 L801.3,74.9 L801.9,75.5 L802.0,76.7 L802.6,77.0 L803.1,76.8 L803.5,78.3 L803.5,77.8 L804.1,78.9 L804.3,78.8 L804.8,79.3 L805.2,80.9 L805.4,80.9 L806.0,80.7 L806.5,82.4 L806.6,82.1 L807.2,82.7 L807.4,83.9 L807.9,83.4 L808.0,83.9 L808.5,85.4 L809.0,85.7 L809.4,86.1 L809.4,86.1 L810.2,87.2 L810.3,86.9 L810.8,87.3 L811.1,87.3 L811.4,88.4 L811.6,88.3 L812.4,89.8 L812.8,90.1 L813.1,91.0 L813.5,90.1 L813.8,90.9 L814.2,91.4 L814.5,92.9 L814.9,92.3 L815.2,93.1 L815.8,93.3 L815.8,94.4 L816.1,94.8 L816.9,95.1 L816.9,95.5 L817.4,95.5 L817.6,95.9 L818.0,96.9 L818.4,97.1 L818.7,98.0 L819.4,98.6 L819.7,99.2 L819.9,99.7 L820.4,99.9 L820.8,100.3 L821.1,100.4 L821.4,101.3 L821.9,101.9 L822.1,102.0 L822.9,102.3 L823.1,103.2 L823.4,104.4 L823.7,104.6 L824.1,103.9 L824.8,105.0 L824.8,105.4 L825.4,106.4 L825.6,106.1 L826.4,107.4 L826.4,107.2 L826.9,108.2 L827.4,108.9 L827.8,108.9 L828.2,109.7 L828.6,109.8 L829.0,110.6 L829.4,110.2 L829.8,110.4 L830.1,111.8 L830.4,112.9 L830.8,112.5 L831.3,113.7 L831.6,113.4 L831.9,114.0 L832.4,114.2 L832.6,115.1 L833.0,115.2 L833.6,116.5 L833.8,116.3 L834.1,116.6 L834.4,117.5 L835.0,117.2 L835.6,118.0 L835.9,119.3 L836.4,118.8 L836.5,120.4 L836.7,119.5 L837.3,120.7 L837.9,121.6 L838.1,122.4 L838.5,122.1 L838.9,122.4 L839.2,123.2 L839.5,124.2 L840.1,124.0 L840.1,124.3 L840.5,125.2 L840.9,126.2 L841.3,126.1 L841.3,126.9 L841.9,127.0 L841.9,128.3 L842.0,128.0 L842.7,129.4 L842.8,128.8 L843.2,130.2 L843.5,131.2 L843.8,130.9 L843.7,131.2 L844.1,132.1 L844.3,132.1 L844.7,133.3 L844.9,134.5 L845.3,133.5 L845.5,135.2 L845.7,135.6 L845.8,135.5 L846.5,136.5 L846.7,136.4 L846.9,137.5 L847.0,138.2 L847.4,139.3 L847.7,138.9 L847.8,139.0 L848.4,139.5 L848.3,140.1 L848.8,141.7 L849.1,142.2 L849.1,141.5 L849.8,142.5 L850.0,143.1 L850.0,143.5 L850.3,145.1 L850.8,144.7 L851.0,145.3 L851.5,146.5 L852.4,146.9 L853.0,146.7 L853.2,145.3 L853.9,146.1 L853.9,145.7 L854.5,144.2 L854.8,144.8 L855.1,144.3 L855.3,142.9 L855.9,142.1 L856.0,142.7 L856.4,142.0 L856.7,140.6 L857.1,140.1 L857.7,139.8 L857.8,139.0 L858.2,138.9 L858.5,137.9 L858.7,138.7 L859.1,137.2 L859.4,136.8 L859.7,135.9 L860.3,135.9 L860.4,136.0 L860.7,134.8 L861.4,134.1 L861.6,134.7 L862.1,133.2 L862.2,133.6 L862.6,133.5 L862.8,132.9 L863.3,131.3 L863.6,130.7 L864.1,130.4 L864.5,130.4 L864.6,129.4 L865.1,128.8 L865.6,128.2 L865.7,128.4 L866.0,128.2 L866.4,127.6 L866.8,126.5 L867.0,125.7 L867.3,126.4 L867.7,125.6 L867.9,124.9 L868.4,124.4 L868.7,123.2 L869.1,122.9 L869.3,123.2 L869.7,122.2 L870.4,122.3 L870.7,122.0 L870.7,120.5 L871.0,120.7 L871.6,119.7 L871.9,119.7 L872.3,118.5 L872.8,118.2 L873.0,117.4 L873.1,118.1 L873.7,117.3 L873.7,115.7 L874.2,115.5 L874.6,115.3 L874.8,114.7 L875.4,114.0 L875.8,114.1 L876.1,113.1 L876.3,113.3 L876.6,111.7 L877.1,112.4 L877.2,110.7 L877.8,111.1 L877.7,110.1 L878.1,110.4 L878.5,110.1 L879.1,108.3 L879.4,108.3 L879.7,108.5 L879.8,106.8 L880.5,106.8 L880.8,106.7 L881.0,106.5 L881.3,105.3 L881.4,105.2 L881.9,104.4 L882.4,103.3 L882.7,102.7 L883.0,103.4 L883.1,102.5 L883.8,102.1 L883.9,101.0 L884.0,100.7 L884.5,99.9 L884.8,99.3 L885.3,99.7 L885.4,98.5 L885.9,98.3 L886.4,97.6 L886.4,98.0 L886.7,97.0 L887.1,96.9 L887.5,96.3 L887.7,95.6 L888.2,94.8 L888.6,94.9 L888.6,93.5 L889.1,92.9 L889.3,92.5 L889.7,92.6 L890.1,91.2 L890.4,91.3 L890.7,90.3 L890.9,89.5 L891.7,90.2 L891.6,89.6 L892.3,88.9 L892.2,88.3 L892.7,87.3 L893.1,86.5 L893.6,87.0 L893.8,87.0 L894.2,85.4 L894.3,84.7 L894.5,85.2 L895.2,83.9 L895.2,84.0 L895.9,83.9 L895.9,83.2 L896.5,82.6 L896.6,81.2 L897.2,80.9 L897.3,80.8 L897.6,80.8 L897.9,79.0 L898.4,79.4 L898.8,79.0 L899.2,78.9 L899.3,77.7 L899.5,76.9 L900.0,76.0 L900.4,75.7 L900.7,76.5 L900.9,74.5 L901.4,74.3 L901.9,73.5 L902.3,74.3 L902.6,73.2 L902.7,73.0 L903.2,72.2 L903.4,71.7 L904.0,71.8 L904.4,70.3 L904.5,70.3 L905.0,69.6 L905.1,68.7 L905.5,68.8 L906.2,69.0 L906.5,68.7 L906.9,67.6 L907.2,66.2 L907.5,66.6 L907.6,66.1 L908.3,65.4 L908.5,64.6 L908.7,65.1 L908.9,63.5 L909.6,63.4 L909.7,63.3 L910.1,62.7 L910.5,62.1 L910.9,61.4 L911.1,60.5 L911.8,60.6 L911.8,60.7 L912.2,58.9 L912.7,58.7 L913.0,58.7 L913.2,58.2 L913.5,57.7 L914.1,56.5 L914.4,56.0 L914.8,56.8 L915.2,56.0 L915.6,54.6 L916.1,55.1 L916.0,54.7 L916.5,53.2 L917.1,53.3 L917.4,52.2 L917.7,51.6 L917.8,51.6 L918.1,51.4 L918.5,50.5 L919.1,50.2 L919.6,50.0 L919.9,49.4 L920.3,49.4 L920.3,48.7 L920.7,48.3 L921.2,47.9 L921.3,46.7 L921.9,47.1 L922.3,45.2 L922.6,44.8 L922.9,45.4 L923.1,45.1 L923.7,43.6 L923.8,43.4 L924.5,43.1 L924.5,41.7 L925.0,42.0" fill="none" stroke="#c43838" stroke-width="0.9"/>
<path d="M924.8,44.5 L924.5,44.6 L924.3,45.3 L924.0,45.0 L923.9,46.1 L923.5,47.1 L923.3,46.3 L922.7,47.0 L922.5,48.7 L922.3,47.9 L921.7,49.6 L921.6,49.5 L921.2,49.6 L921.0,50.5 L920.7,51.3 L920.0,51.4 L919.8,52.8 L919.7,52.0 L919.1,53.0 L919.0,53.9 L918.6,54.0 L918.1,54.9 L917.9,54.5 L917.7,56.6 L917.2,55.7 L917.2,56.4 L916.6,57.3 L916.3,57.9 L916.1,59.1 L916.0,58.1 L915.5,59.8 L915.3,60.3 L914.9,60.6 L914.5,60.6 L914.4,62.0 L914.1,62.2 L913.5,62.9 L913.4,63.0 L913.0,63.2 L912.7,63.8 L912.1,64.2 L911.9,65.8 L911.7,65.3 L911.3,65.6 L911.1,66.0 L910.6,67.7 L910.5,67.6 L910.3,67.9 L909.8,68.0 L909.6,68.9 L909.5,69.8 L909.4,70.0 L909.1,70.9 L908.4,70.8 L908.3,72.7 L907.9,72.8 L907.7,73.5 L907.2,73.4 L907.3,73.6 L906.7,73.8 L906.4,74.7 L906.4,75.1 L906.0,75.6 L905.8,77.2 L905.5,76.7 L905.3,78.4 L904.9,77.5 L904.7,79.3 L904.2,78.7 L903.9,79.9 L903.9,80.6 L903.6,80.4 L903.1,81.8 L902.9,81.8 L902.7,82.2 L902.1,82.8 L901.8,83.7 L901.6,84.0 L901.5,84.2 L901.1,84.3 L901.1,85.7 L900.8,85.4 L900.3,87.0 L899.9,86.5 L899.5,87.1 L899.4,87.5 L899.1,88.5 L898.6,89.3 L898.2,89.9 L897.9,89.8 L897.6,90.2 L897.2,91.5 L896.9,91.3 L896.6,92.8 L896.0,92.2 L895.7,93.7 L895.2,92.7 L895.0,94.2 L894.8,94.3 L894.5,94.5 L894.1,94.8 L893.3,95.4 L893.0,96.4 L892.9,96.4 L892.7,97.2 L892.0,97.4 L891.9,99.0 L891.3,98.1 L891.2,98.9 L890.9,99.8 L890.4,100.1 L890.1,100.7 L889.6,101.9 L889.1,102.1 L888.7,102.5 L888.5,103.3 L888.0,103.3 L887.8,104.4 L887.7,104.4 L887.0,104.3 L886.7,105.1 L886.3,105.2 L886.2,106.4 L885.6,107.4 L885.2,107.2 L884.8,108.2 L884.8,107.7 L884.4,109.1 L883.8,108.8 L883.6,110.2 L883.1,110.3 L882.9,110.4 L882.5,111.6 L882.0,112.1 L881.7,112.4 L881.6,111.9 L881.2,113.7 L880.6,112.7 L880.2,114.7 L879.8,115.1 L879.5,115.3 L879.1,114.8 L879.0,115.2 L878.5,117.0 L878.3,117.4 L878.1,116.6 L877.4,118.3 L877.2,117.5 L876.8,118.3 L876.4,118.6 L875.8,120.5 L875.6,120.8 L875.2,120.7 L874.8,121.1 L874.5,122.0 L874.1,122.6 L873.9,122.0 L873.5,123.1 L873.4,123.4 L872.7,124.9 L872.7,125.0 L872.0,124.6 L871.7,124.9 L871.2,126.1 L871.0,126.6 L870.6,126.2 L870.4,127.8 L870.0,128.1 L869.8,129.3 L869.5,129.3 L869.0,129.2 L868.6,130.8 L868.3,130.3 L868.0,130.4 L867.9,130.7 L867.4,132.7 L866.9,132.7 L866.6,132.6 L866.2,132.9 L866.2,134.5 L865.9,133.8 L865.4,134.7 L865.1,135.6 L864.6,136.8 L864.1,136.9 L864.2,137.0 L863.7,138.3 L863.2,138.2 L863.1,138.3 L862.8,138.8 L862.3,139.7 L862.1,139.7 L861.7,140.6 L861.2,141.2 L860.9,142.2 L860.7,142.4 L860.3,142.5 L859.9,142.4 L859.9,143.5 L859.3,144.0 L859.2,144.1 L858.5,145.5 L858.3,145.7 L858.2,146.6 L857.8,145.8 L857.3,147.5 L857.2,146.9 L856.2,147.3 L855.6,147.6 L855.3,148.1 L854.5,147.6 L853.8,149.2 L853.3,148.5 L852.6,149.3 L852.1,148.4 L851.7,148.4 L851.2,147.7 L850.7,147.5 L850.2,146.5 L849.7,147.0 L849.2,145.9 L849.1,145.6 L848.6,145.1 L848.4,144.4 L848.0,145.1 L847.4,144.0 L847.3,143.8 L846.8,142.4 L846.5,142.4 L846.2,141.8 L845.7,141.9 L845.5,141.0 L845.0,140.8 L844.9,139.7 L844.5,140.1 L843.9,139.5 L843.5,138.1 L843.4,138.1 L842.9,137.8 L842.7,137.8 L841.9,137.0 L841.8,136.3 L841.6,135.8 L841.1,136.1 L840.7,134.9 L840.4,135.0 L840.1,134.4 L839.6,132.8 L839.3,133.1 L839.0,133.0 L838.3,131.6 L837.9,132.1 L837.6,130.5 L837.5,130.7 L836.8,130.4 L836.8,129.6 L836.1,129.5 L835.9,128.8 L835.8,128.7 L835.4,127.2 L834.7,127.3 L834.2,127.6 L834.0,125.9 L833.6,125.4 L833.5,125.4 L833.0,124.7 L832.4,124.1 L832.4,124.4 L832.0,123.0 L831.3,122.2 L831.1,122.2 L830.7,121.9 L830.4,121.3 L830.1,120.5 L829.8,120.6 L829.0,119.7 L828.9,119.4 L828.5,118.8 L828.0,119.1 L827.7,118.4 L827.6,117.8 L827.0,117.8 L826.6,117.3 L826.1,116.1 L826.0,115.0 L825.7,114.5 L825.2,114.2 L825.0,114.4 L824.6,113.8 L824.2,113.6 L823.6,112.4 L823.5,111.8 L823.2,111.4 L822.4,110.7 L822.4,111.6 L821.8,110.7 L821.4,110.6 L821.2,108.9 L820.5,109.3 L820.2,109.0 L819.9,107.6 L819.7,107.2 L819.3,106.5 L819.2,106.3 L818.8,105.5 L818.4,106.3 L817.9,104.3 L817.5,104.8 L817.1,104.2 L816.7,103.5 L816.6,103.0 L816.2,102.0 L816.0,101.5 L815.7,102.4 L815.3,101.2 L814.7,100.4 L814.5,100.2 L814.3,99.0 L813.7,99.8 L813.4,98.8 L812.8,97.7 L812.6,98.4 L812.5,96.8 L812.2,96.0 L811.7,97.0 L811.2,96.5 L811.0,94.6 L810.5,94.7 L810.1,94.7 L809.7,94.3 L809.4,92.7 L809.2,92.2 L808.9,92.8 L808.5,91.8 L807.9,91.4 L807.6,91.1 L807.3,90.5 L807.0,89.7 L806.8,88.9 L806.2,89.7 L806.0,89.0 L805.9,87.9 L805.2,86.8 L805.2,86.4 L804.6,86.6 L804.1,86.0 L803.8,85.6 L803.6,84.8 L803.1,84.4 L802.8,83.5 L802.4,84.2 L802.2,83.7 L801.6,83.3 L801.5,82.6 L801.2,81.9 L800.7,81.5 L800.3,80.3 L799.9,80.0 L799.8,79.3 L799.6,78.5 L799.1,78.3 L798.8,78.7 L798.5,77.0 L797.9,77.4 L797.9,76.0 L797.4,76.6 L797.1,75.5 L796.8,75.2 L796.5,74.0 L796.1,74.2 L795.5,73.2 L795.1,73.7 L795.0,72.3 L794.5,71.8 L794.0,71.4 L793.8,72.1 L793.7,71.4 L793.1,70.4 L792.9,70.6 L792.6,69.6 L791.9,69.1 L791.9,68.9 L791.2,68.3 L791.0,66.9 L790.9,67.3 L790.5,65.9 L790.2,66.7 L789.8,65.9 L789.5,65.5 L789.0,64.4 L788.7,64.5 L788.4,63.2 L788.1,63.1 L787.7,61.9 L787.4,62.5 L786.7,62.1 L786.3,60.6 L786.1,60.2 L785.8,60.7 L785.5,59.9 L785.0,59.6 L784.8,58.9 L784.6,58.6 L783.9,57.0 L783.7,57.7 L783.2,56.8 L783.1,56.6 L782.3,55.6 L782.0,54.5 L782.0,54.5 L781.6,54.1 L781.1,53.2 L780.7,53.8 L780.5,52.4 L779.9,51.8 L779.8,51.6 L779.5,51.7 L778.8,51.0 L778.5,50.8 L778.2,49.4 L778.2,49.0 L777.5,49.4 L777.3,48.9 L776.9,47.8 L776.8,47.3 L776.4,46.3 L776.0,45.8 L775.5,45.0 L775.0,46.0 L774.8,45.3 L774.3,44.1 L773.9,43.9 L773.9,43.4 L773.3,43.5 L773.2,42.6 L772.5,42.1 L772.3,42.1 L771.9,41.2 L771.7,40.2 L771.3,40.2 L771.1,39.4 L770.5,39.7 L770.0,39.0 L769.9,38.0 L769.5,37.8 L769.3,37.3 L768.9,35.7 L768.3,35.4 L768.3,36.1 L767.5,35.1 L767.4,33.8 L766.9,34.4 L766.7,33.1 L766.5,32.6 L766.0,32.2 L765.9,32.0 L765.5,31.5 L764.9,31.4 L764.8,30.4 L764.2,29.0 L764.0,29.0" fill="none" stroke="#c43838" stroke-width="0.9"/>
<path d="M58.8,246.5 L60.0,439.5 C60.8,448.5 95.7,449.5 96.10000000000001,439.5 L97.7,246.5 Z" fill="url(#gtube)" stroke="#78b068" stroke-width="0.6"/>
<line x1="63.7" y1="250.5" x2="64.3" y2="443.5" stroke="#5a9a50" stroke-opacity="0.5" stroke-width="0.7"/>
<line x1="66.3" y1="250.5" x2="66.89999999999999" y2="443.5" stroke="#5a9a50" stroke-opacity="0.35" stroke-width="0.7"/>
<line x1="89.9" y1="250.5" x2="89.5" y2="443.5" stroke="#5a9a50" stroke-opacity="0.35" stroke-width="0.7"/>
<line x1="92.5" y1="250.5" x2="92.1" y2="443.5" stroke="#5a9a50" stroke-opacity="0.5" stroke-width="0.7"/>
<ellipse cx="79.7" cy="439.2" rx="15.3" ry="7.6" fill="#b0e6a0" stroke="#80b870" stroke-width="0.5"/>
<ellipse cx="78.25" cy="246.5" rx="19.450000000000003" ry="7" fill="#94d880" stroke="#6aa860" stroke-width="0.7"/>
<ellipse cx="78.25" cy="246.8" rx="15.25" ry="5.5" fill="#b4e8a2" stroke="#6aa860" stroke-width="0.6"/>
<circle cx="69.6" cy="276.8" r="1.4" fill="none" stroke="#5a9a50" stroke-opacity="0.6" stroke-width="0.6"/>
<circle cx="88" cy="276.5" r="1.4" fill="none" stroke="#5a9a50" stroke-opacity="0.6" stroke-width="0.6"/>
<circle cx="79" cy="288" r="1.4" fill="none" stroke="#5a9a50" stroke-opacity="0.6" stroke-width="0.6"/>
<circle cx="60.8" cy="329" r="1.4" fill="none" stroke="#5a9a50" stroke-opacity="0.6" stroke-width="0.6"/>
<circle cx="88" cy="329" r="1.4" fill="none" stroke="#5a9a50" stroke-opacity="0.6" stroke-width="0.6"/>
<circle cx="68.7" cy="413.8" r="1.4" fill="none" stroke="#5a9a50" stroke-opacity="0.6" stroke-width="0.6"/>
<circle cx="76.2" cy="410" r="1.4" fill="none" stroke="#5a9a50" stroke-opacity="0.6" stroke-width="0.6"/>
<circle cx="81" cy="407.8" r="1.4" fill="none" stroke="#5a9a50" stroke-opacity="0.6" stroke-width="0.6"/>
<circle cx="89.3" cy="426.4" r="1.4" fill="none" stroke="#5a9a50" stroke-opacity="0.6" stroke-width="0.6"/>
<circle cx="67.3" cy="436.8" r="1.4" fill="none" stroke="#5a9a50" stroke-opacity="0.6" stroke-width="0.6"/>
<text transform="translate(141,258.8) scale(1,1.04)" x="0" y="0" style="font-family:'Liberation Serif',serif;font-size:15.4px" fill="#151515" stroke="#151515" stroke-width="0.2">PVDF</text>
<text transform="translate(113.3,345.2) scale(1,1.12)" x="0" y="0" style="font-family:'Liberation Serif',serif;font-size:15.5px" fill="#151515" stroke="#151515" stroke-width="0.2">ZnO/CQDs</text>
<line x1="113.3" y1="346.6" x2="143" y2="346.6" stroke="#e88080" stroke-width="0.9"/>
<line x1="135.4" y1="256.6" x2="106.0" y2="266.4" stroke="#111" stroke-width="1.2"/>
<path d="M99.4,268.6 L105.9,262.7 L108.1,269.5 Z" fill="#111"/>
<line x1="124" y1="350.7" x2="97.4" y2="388.5" stroke="#111" stroke-width="1.2"/>
<path d="M93.4,394.2 L95.1,385.6 L100.9,389.7 Z" fill="#111"/>
<ellipse cx="208.6" cy="380.5" rx="23.5" ry="28" fill="url(#gring)"/>
<path d="M182.0,392 L185.1,380.5 L232.1,380.5 L235.2,392 Z" fill="url(#gring)"/>
<ellipse cx="208.6" cy="392" rx="26.6" ry="24" fill="#86d87a"/>
<ellipse cx="208.6" cy="392" rx="21" ry="18.9" fill="url(#ginner)"/>
<path d="M193.5,378.9 A21,18.9 0 0 1 223.7,378.9 Q208.6,391.1 193.5,378.9 Z" fill="#fff"/>
<line x1="196.6" y1="376.5" x2="193.3" y2="372.3" stroke="#5a9050" stroke-opacity="0.5" stroke-width="0.6"/>
<line x1="225.8" y1="381.2" x2="230.4" y2="378.2" stroke="#5a9050" stroke-opacity="0.5" stroke-width="0.6"/>
<line x1="220.6" y1="407.5" x2="223.9" y2="411.7" stroke="#5a9050" stroke-opacity="0.5" stroke-width="0.6"/>
<line x1="191.4" y1="402.8" x2="186.8" y2="405.8" stroke="#5a9050" stroke-opacity="0.5" stroke-width="0.6"/>
<ellipse cx="198" cy="392" rx="1.5" ry="1" fill="none" stroke="#8ac880" stroke-width="0.6"/>
<ellipse cx="197.5" cy="401" rx="1.5" ry="1" fill="none" stroke="#8ac880" stroke-width="0.6"/>
<ellipse cx="218" cy="388" rx="1.5" ry="1" fill="none" stroke="#8ac880" stroke-width="0.6"/>
<ellipse cx="214" cy="402" rx="1.5" ry="1" fill="none" stroke="#8ac880" stroke-width="0.6"/>
<ellipse cx="207" cy="386" rx="1.5" ry="1" fill="none" stroke="#8ac880" stroke-width="0.6"/>
<rect x="293.9" y="237.9" width="7.6" height="204.2" fill="#86dc76" stroke="#5a9a50" stroke-width="0.8"/>
<line x1="294" y1="339.5" x2="301" y2="339.5" stroke="#5a9a50" stroke-dasharray="1.5,1.5" stroke-width="0.5"/>
<circle cx="306" cy="339.5" r="1.2" fill="#888"/>
<text transform="translate(256.8,232) scale(1,1.06)" x="0" y="0" style="font-family:'Liberation Serif',serif;font-size:15.6px" fill="#151515" stroke="#151515" stroke-width="0.2">Potential (V)</text>
<path d="M401.3,255 L402.5,437 C402.8,444 435.5,444 435.8,437 L437.3,255 Z" fill="url(#tubegrad)"/>
<path d="M401.3,255 L402.5,437 C402.8,444 435.5,444 435.8,437 L437.3,255 Z" fill="url(#tubeshade)"/>
<line x1="430.3" y1="261" x2="430.8" y2="441" stroke="#203040" stroke-opacity="0.45" stroke-width="0.7"/>
<line x1="404.8" y1="261" x2="405.3" y2="440" stroke="#203040" stroke-opacity="0.3" stroke-width="0.6"/>
<path d="M401.8,437 C402.3,444 436.3,444 436.8,437" fill="none" stroke="#90d070" stroke-opacity="0.7" stroke-width="1.2"/>
<ellipse cx="419.2" cy="255" rx="18" ry="7.4" fill="#98dc70" stroke="#7aa860" stroke-width="0.5"/>
<ellipse cx="419.2" cy="255.6" rx="13.4" ry="4.8" fill="#d81800"/>
<path d="M405.8,256 Q419,263 432.6,256" fill="none" stroke="#f0c000" stroke-width="1" stroke-opacity="0.8"/>
<path d="M402,259 Q419,268 436.5,259" fill="none" stroke="#f0d000" stroke-width="1.2" stroke-opacity="0.7"/>
<text x="492" y="266.4" style="font-family:'Liberation Serif',serif;font-size:15.4px" fill="#151515">V<tspan dy="4" font-size="11">p</tspan><tspan dy="-9.5" font-size="11">+</tspan></text>
<line x1="492" y1="269" x2="509" y2="269" stroke="#e89090" stroke-width="0.8"/><line x1="503" y1="272.5" x2="509" y2="272.5" stroke="#e89090" stroke-width="0.7"/>
<text x="463" y="402.6" style="font-family:'Liberation Serif',serif;font-size:15.4px" fill="#151515">V<tspan dy="4" font-size="11">p</tspan><tspan dy="-7.5" font-size="11">-</tspan></text>
<line x1="463" y1="403.7" x2="474" y2="403.7" stroke="#e89090" stroke-width="0.8"/><line x1="474" y1="407.3" x2="480" y2="407.3" stroke="#e89090" stroke-width="0.7"/>
<line x1="478" y1="259.5" x2="445.7" y2="269.7" stroke="#111" stroke-width="1.2"/>
<path d="M439,271.8 L445.5,266.0 L447.7,272.8 Z" fill="#111"/>
<line x1="464.8" y1="406.2" x2="440.9" y2="425.7" stroke="#111" stroke-width="1.2"/>
<path d="M436.3,429.5 L439.5,422.4 L443.9,427.8 Z" fill="#111"/>
<ellipse cx="541.3" cy="392.8" rx="22" ry="28" fill="url(#ringback)"/>
<path d="M515.75,400.3 L519.3,392.8 L563.3,392.8 L566.8499999999999,400.3 Z" fill="url(#ringback)"/>
<ellipse cx="541.3" cy="400.3" rx="25.55" ry="23.4" fill="#a6e07a"/>
<ellipse cx="541.3" cy="400.3" rx="19.7" ry="18.15" fill="url(#ringin)"/>
<path d="M527.1,387.7 A19.7,18.15 0 0 1 555.5,387.7 Q541.3,405.7 527.1,387.7 Z" fill="#fff"/>
<line x1="530.0" y1="385.4" x2="526.6" y2="381.1" stroke="#70a050" stroke-opacity="0.5" stroke-width="0.6"/>
<line x1="557.4" y1="389.9" x2="562.2" y2="386.9" stroke="#70a050" stroke-opacity="0.5" stroke-width="0.6"/>
<line x1="552.6" y1="415.2" x2="556.0" y2="419.5" stroke="#70a050" stroke-opacity="0.5" stroke-width="0.6"/>
<line x1="525.2" y1="410.7" x2="520.4" y2="413.7" stroke="#70a050" stroke-opacity="0.5" stroke-width="0.6"/>
<circle cx="532" cy="401" r="1.3" fill="#e8d020"/><circle cx="556" cy="396" r="1.3" fill="#e8e040"/><circle cx="549.5" cy="411" r="1.6" fill="#f03010"/>
<rect x="617.8" y="247" width="7" height="190.7" fill="url(#jet)"/>
<text x="627.8" y="256.2" style="font-family:'Liberation Sans',sans-serif;font-size:6.2px" fill="#333" text-anchor="start" >0.6</text>
<text x="627.8" y="284.25" style="font-family:'Liberation Sans',sans-serif;font-size:6.2px" fill="#333" text-anchor="start" >0.4</text>
<text x="627.8" y="312.3" style="font-family:'Liberation Sans',sans-serif;font-size:6.2px" fill="#333" text-anchor="start" >0.2</text>
<text x="627.8" y="340.34999999999997" style="font-family:'Liberation Sans',sans-serif;font-size:6.2px" fill="#333" text-anchor="start" >0</text>
<text x="627.8" y="368.4" style="font-family:'Liberation Sans',sans-serif;font-size:6.2px" fill="#333" text-anchor="start" >-0.2</text>
<text x="627.8" y="396.45" style="font-family:'Liberation Sans',sans-serif;font-size:6.2px" fill="#333" text-anchor="start" >-0.4</text>
<text x="627.8" y="424.5" style="font-family:'Liberation Sans',sans-serif;font-size:6.2px" fill="#333" text-anchor="start" >-0.6</text>
<text transform="translate(582.6,235.6) scale(1,1.06)" x="0" y="0" style="font-family:'Liberation Serif',serif;font-size:15.6px" fill="#151515" stroke="#151515" stroke-width="0.2">Potential (V)</text>
<path d="M723.6,264.6 L724.8000000000001,437 C725.1,444 753.4000000000001,444 753.7,437 L755.2,262 Z" fill="url(#tubegrad)"/>
<path d="M723.6,264.6 L724.8000000000001,437 C725.1,444 753.4000000000001,444 753.7,437 L755.2,262 Z" fill="url(#tubeshade)"/>
<line x1="748.2" y1="268" x2="748.7" y2="441" stroke="#203040" stroke-opacity="0.45" stroke-width="0.7"/>
<line x1="727.1" y1="270.6" x2="727.6" y2="440" stroke="#203040" stroke-opacity="0.3" stroke-width="0.6"/>
<path d="M724.1,437 C724.6,444 754.2,444 754.7,437" fill="none" stroke="#90d070" stroke-opacity="0.7" stroke-width="1.2"/>
<clipPath id="slitclip"><rect x="729.7" y="240" width="40" height="40"/></clipPath>
<g clip-path="url(#slitclip)"><ellipse cx="742.5" cy="259.6" rx="12.9" ry="6.7" fill="#98dc70" stroke="#5a8a48" stroke-width="0.6"/>
<ellipse cx="742.8" cy="259.8" rx="10.2" ry="4.7" fill="#d41800" stroke="#5a8a48" stroke-width="0.4"/>
<path d="M729.7,257 L733,256.5 L733,263 L729.7,264 Z" fill="#a01000" opacity="0.5"/></g>
<line x1="729.7" y1="256" x2="729.7" y2="264.5" stroke="#4a6a38" stroke-width="0.6"/>
<path d="M723.6,264.6 Q726,263.6 729.7,264.4 Q740,269 752,265.8" fill="none" stroke="#f0d000" stroke-width="1.1" stroke-opacity="0.75"/>
<line x1="748.5" y1="265" x2="748.5" y2="437" stroke="#203040" stroke-opacity="0.4" stroke-width="0.6"/>
<ellipse cx="830" cy="380.1" rx="20.5" ry="27.9" fill="url(#ringback)"/>
<path d="M807,386.9 L809.5,380.1 L850.5,380.1 L853,386.9 Z" fill="url(#ringback)"/>
<ellipse cx="830" cy="386.9" rx="23" ry="22.95" fill="#a6e07a"/>
<ellipse cx="830" cy="386.9" rx="17.5" ry="17.5" fill="url(#ringin)"/>
<path d="M817.4,374.8 A17.5,17.5 0 0 1 842.6,374.8 Q830,391.4 817.4,374.8 Z" fill="#fff"/>
<line x1="820.0" y1="372.6" x2="816.8" y2="368.1" stroke="#70a050" stroke-opacity="0.5" stroke-width="0.6"/>
<line x1="844.3" y1="376.9" x2="848.8" y2="373.7" stroke="#70a050" stroke-opacity="0.5" stroke-width="0.6"/>
<line x1="840.0" y1="401.2" x2="843.2" y2="405.7" stroke="#70a050" stroke-opacity="0.5" stroke-width="0.6"/>
<line x1="815.7" y1="396.9" x2="811.2" y2="400.1" stroke="#70a050" stroke-opacity="0.5" stroke-width="0.6"/>
<circle cx="820" cy="388" r="1.3" fill="#e8d020"/><circle cx="843" cy="383.5" r="1.3" fill="#e8e040"/><circle cx="837.5" cy="397" r="1.6" fill="#f03010"/>
<rect x="918.2" y="251.5" width="6" height="185.5" fill="url(#jet)"/>
<text x="927" y="260.7" style="font-family:'Liberation Sans',sans-serif;font-size:6.2px" fill="#333" text-anchor="start" >3</text>
<text x="927" y="288.09999999999997" style="font-family:'Liberation Sans',sans-serif;font-size:6.2px" fill="#333" text-anchor="start" >2</text>
<text x="927" y="315.5" style="font-family:'Liberation Sans',sans-serif;font-size:6.2px" fill="#333" text-anchor="start" >1</text>
<text x="927" y="342.9" style="font-family:'Liberation Sans',sans-serif;font-size:6.2px" fill="#333" text-anchor="start" >0</text>
<text x="927" y="370.3" style="font-family:'Liberation Sans',sans-serif;font-size:6.2px" fill="#333" text-anchor="start" >-1</text>
<text x="927" y="397.7" style="font-family:'Liberation Sans',sans-serif;font-size:6.2px" fill="#333" text-anchor="start" >-2</text>
<text x="927" y="425.09999999999997" style="font-family:'Liberation Sans',sans-serif;font-size:6.2px" fill="#333" text-anchor="start" >-3</text>
<text transform="translate(879.2,238.8) scale(1,1.06)" x="0" y="0" style="font-family:'Liberation Serif',serif;font-size:15.6px" fill="#151515" stroke="#151515" stroke-width="0.2">Potential (V)</text>
<rect x="28.7" y="541" width="262.9" height="60" fill="url(#flow1grad)"/>
<line x1="28.7" y1="551" x2="291.6" y2="551" stroke="#000" stroke-opacity="0.18" stroke-width="0.8"/>
<line x1="28.7" y1="559" x2="291.6" y2="559" stroke="#000" stroke-opacity="0.18" stroke-width="0.8"/>
<line x1="28.7" y1="567" x2="291.6" y2="567" stroke="#000" stroke-opacity="0.18" stroke-width="0.8"/>
<line x1="28.7" y1="575" x2="291.6" y2="575" stroke="#000" stroke-opacity="0.18" stroke-width="0.8"/>
<line x1="28.7" y1="583" x2="291.6" y2="583" stroke="#000" stroke-opacity="0.18" stroke-width="0.8"/>
<line x1="28.7" y1="591" x2="291.6" y2="591" stroke="#000" stroke-opacity="0.18" stroke-width="0.8"/>
<rect x="29" y="605.5" width="262.5" height="2" fill="#d4f2f8"/>
<path d="M50.4,541.1 L55.4,543.2 L50.4,545.3 Z" fill="#111"/>
<path d="M50.4,548.9 L55.4,551.0 L50.4,553.1 Z" fill="#111"/>
<path d="M50.5,557.0 L55.3,559.0 L50.5,561.0 Z" fill="#111"/>
<path d="M50.6,565.1 L55.2,567.0 L50.6,568.9 Z" fill="#111"/>
<path d="M50.8,573.3 L54.9,575.0 L50.8,576.7 Z" fill="#111"/>
<path d="M51.3,581.4 L54.4,582.7 L51.3,584.0 Z" fill="#111"/>
<path d="M51.9,590.1 L53.6,590.8 L51.9,591.5 Z" fill="#111"/>
<path d="M80.6,541.1 L85.7,543.2 L80.6,545.3 Z" fill="#111"/>
<path d="M80.6,548.9 L85.7,551.0 L80.6,553.1 Z" fill="#111"/>
<path d="M80.8,557.0 L85.5,559.0 L80.8,561.0 Z" fill="#111"/>
<path d="M80.9,565.1 L85.4,567.0 L80.9,568.9 Z" fill="#111"/>
<path d="M81.1,573.3 L85.2,575.0 L81.1,576.7 Z" fill="#111"/>
<path d="M81.5,581.4 L84.6,582.7 L81.5,584.0 Z" fill="#111"/>
<path d="M82.2,590.1 L83.9,590.8 L82.2,591.5 Z" fill="#111"/>
<path d="M110.9,541.1 L115.9,543.2 L110.9,545.3 Z" fill="#111"/>
<path d="M110.9,548.9 L115.9,551.0 L110.9,553.1 Z" fill="#111"/>
<path d="M111.0,557.0 L115.8,559.0 L111.0,561.0 Z" fill="#111"/>
<path d="M111.1,565.1 L115.7,567.0 L111.1,568.9 Z" fill="#111"/>
<path d="M111.3,573.3 L115.4,575.0 L111.3,576.7 Z" fill="#111"/>
<path d="M111.8,581.4 L114.9,582.7 L111.8,584.0 Z" fill="#111"/>
<path d="M112.4,590.1 L114.1,590.8 L112.4,591.5 Z" fill="#111"/>
<path d="M141.1,541.1 L146.2,543.2 L141.1,545.3 Z" fill="#111"/>
<path d="M141.1,548.9 L146.2,551.0 L141.1,553.1 Z" fill="#111"/>
<path d="M141.2,557.0 L146.0,559.0 L141.2,561.0 Z" fill="#111"/>
<path d="M141.4,565.1 L145.9,567.0 L141.4,568.9 Z" fill="#111"/>
<path d="M141.6,573.3 L145.7,575.0 L141.6,576.7 Z" fill="#111"/>
<path d="M142.0,581.4 L145.1,582.7 L142.0,584.0 Z" fill="#111"/>
<path d="M142.7,590.1 L144.4,590.8 L142.7,591.5 Z" fill="#111"/>
<path d="M171.4,541.1 L176.4,543.2 L171.4,545.3 Z" fill="#111"/>
<path d="M171.4,548.9 L176.4,551.0 L171.4,553.1 Z" fill="#111"/>
<path d="M171.5,557.0 L176.3,559.0 L171.5,561.0 Z" fill="#111"/>
<path d="M171.6,565.1 L176.2,567.0 L171.6,568.9 Z" fill="#111"/>
<path d="M171.8,573.3 L175.9,575.0 L171.8,576.7 Z" fill="#111"/>
<path d="M172.3,581.4 L175.4,582.7 L172.3,584.0 Z" fill="#111"/>
<path d="M172.9,590.1 L174.6,590.8 L172.9,591.5 Z" fill="#111"/>
<path d="M201.6,541.1 L206.7,543.2 L201.6,545.3 Z" fill="#111"/>
<path d="M201.6,548.9 L206.7,551.0 L201.6,553.1 Z" fill="#111"/>
<path d="M201.8,557.0 L206.5,559.0 L201.8,561.0 Z" fill="#111"/>
<path d="M201.9,565.1 L206.4,567.0 L201.9,568.9 Z" fill="#111"/>
<path d="M202.1,573.3 L206.2,575.0 L202.1,576.7 Z" fill="#111"/>
<path d="M202.5,581.4 L205.6,582.7 L202.5,584.0 Z" fill="#111"/>
<path d="M203.2,590.1 L204.9,590.8 L203.2,591.5 Z" fill="#111"/>
<path d="M231.9,541.1 L236.9,543.2 L231.9,545.3 Z" fill="#111"/>
<path d="M231.9,548.9 L236.9,551.0 L231.9,553.1 Z" fill="#111"/>
<path d="M232.0,557.0 L236.8,559.0 L232.0,561.0 Z" fill="#111"/>
<path d="M232.1,565.1 L236.7,567.0 L232.1,568.9 Z" fill="#111"/>
<path d="M232.3,573.3 L236.4,575.0 L232.3,576.7 Z" fill="#111"/>
<path d="M232.8,581.4 L235.9,582.7 L232.8,584.0 Z" fill="#111"/>
<path d="M233.4,590.1 L235.1,590.8 L233.4,591.5 Z" fill="#111"/>
<path d="M262.1,541.1 L267.2,543.2 L262.1,545.3 Z" fill="#111"/>
<path d="M262.1,548.9 L267.2,551.0 L262.1,553.1 Z" fill="#111"/>
<path d="M262.2,557.0 L267.1,559.0 L262.2,561.0 Z" fill="#111"/>
<path d="M262.4,565.1 L266.9,567.0 L262.4,568.9 Z" fill="#111"/>
<path d="M262.6,573.3 L266.7,575.0 L262.6,576.7 Z" fill="#111"/>
<path d="M263.0,581.4 L266.1,582.7 L263.0,584.0 Z" fill="#111"/>
<path d="M263.7,590.1 L265.4,590.8 L263.7,591.5 Z" fill="#111"/>
<line x1="43" y1="546" x2="43" y2="563" stroke="#fff" stroke-width="1.3"/>
<path d="M43,541.5 L40,548 L46,548 Z" fill="#fff"/>
<line x1="43" y1="582" x2="43" y2="596" stroke="#fff" stroke-width="1.3"/>
<path d="M43,600.5 L40,594 L46,594 Z" fill="#fff"/>
<text transform="translate(32.3,579.6) scale(1,1.12)" x="0" y="0" style="font-family:'Liberation Serif',serif;font-size:20px;font-weight:bold" fill="#fff" filter="url(#tshadow)">r =6 mm</text>
<rect x="296.5" y="504" width="5.5" height="147" fill="url(#jet)"/>
<text transform="translate(274,475) scale(1,1.1)" x="0" y="0" style="font-family:'Liberation Serif',serif;font-size:17px" fill="#151515" stroke="#151515" stroke-width="0.2">u/m·s<tspan dy="-7" font-size="10.5">-1</tspan></text>
<path d="M292,492.2 L298.6,492.2 L295.3,486.59999999999997 Z" fill="#111"/>
<text x="301.5" y="492.3" style="font-family:'Liberation Sans',sans-serif;font-size:7.3px" fill="#3a3a3a" text-anchor="start" >0.22</text>
<path d="M292,655.6 L298.6,655.6 L295.3,661.1999999999999 Z" fill="#111"/>
<text x="301.5" y="661.3" style="font-family:'Liberation Sans',sans-serif;font-size:7.3px" fill="#3a3a3a" text-anchor="start" >0</text>
<text x="303.5" y="520.9" style="font-family:'Liberation Sans',sans-serif;font-size:7.3px" fill="#3a3a3a" text-anchor="start" >0.2</text>
<text x="303.5" y="553.6" style="font-family:'Liberation Sans',sans-serif;font-size:7.3px" fill="#3a3a3a" text-anchor="start" >0.15</text>
<text x="303.5" y="587.2" style="font-family:'Liberation Sans',sans-serif;font-size:7.3px" fill="#3a3a3a" text-anchor="start" >0.1</text>
<text x="303.5" y="620.6" style="font-family:'Liberation Sans',sans-serif;font-size:7.3px" fill="#3a3a3a" text-anchor="start" >0.05</text>
<text x="303.5" y="653.6" style="font-family:'Liberation Sans',sans-serif;font-size:7.3px" fill="#3a3a3a" text-anchor="start" >0</text>
<text transform="translate(120,532.9) scale(1,1.09)" x="0" y="0" style="font-family:'Liberation Serif',serif;font-size:20px" fill="#151515" stroke="#151515" stroke-width="0.2">L = 25 mm</text>
<text transform="translate(114.4,627.2) scale(1,1.05)" x="0" y="0" style="font-family:'Liberation Serif',serif;font-size:20.2px" fill="#151515" stroke="#151515" stroke-width="0.2">ū = 0.147 m/s</text>
<line x1="33.6" y1="637.7" x2="277.0" y2="637.7" stroke="#111" stroke-width="1.3"/>
<path d="M284,637.7 L276.0,640.9 L276.0,634.5 Z" fill="#111"/>
<text transform="translate(123,663.3) scale(1,1.087)" x="0" y="0" style="font-family:'Liberation Serif',serif;font-size:19.5px" fill="#151515" stroke="#151515" stroke-width="0.2">Water Flow</text>
<rect x="347" y="540.7" width="262.6" height="60.6" fill="url(#jetr)"/>
<line x1="347" y1="606.7" x2="609.6" y2="606.7" stroke="#b8b8b8" stroke-width="1.2"/>
<rect x="613.8" y="504" width="5.6" height="147.4" fill="url(#jet)"/>
<text transform="translate(568.3,474.8) scale(1,1.11)" x="0" y="0" style="font-family:'Liberation Serif',serif;font-size:17.8px" fill="#151515" stroke="#151515" stroke-width="0.2">Pressure/Pa</text>
<path d="M609,491.8 L615.6,491.8 L612.3,486.2 Z" fill="#111"/>
<text x="619.0" y="491.8" style="font-family:'Liberation Sans',sans-serif;font-size:7.3px" fill="#3a3a3a" text-anchor="start" >-4.54</text>
<path d="M609,657.0 L615.6,657.0 L612.3,662.5999999999999 Z" fill="#111"/>
<text x="619.0" y="662.5999999999999" style="font-family:'Liberation Sans',sans-serif;font-size:7.3px" fill="#3a3a3a" text-anchor="start" >-58.7</text>
<text x="622.5" y="508.40000000000003" style="font-family:'Liberation Sans',sans-serif;font-size:7.3px" fill="#3a3a3a" text-anchor="start" >-5</text>
<text x="622.5" y="521.9" style="font-family:'Liberation Sans',sans-serif;font-size:7.3px" fill="#3a3a3a" text-anchor="start" >-10</text>
<text x="622.5" y="535.4" style="font-family:'Liberation Sans',sans-serif;font-size:7.3px" fill="#3a3a3a" text-anchor="start" >-15</text>
<text x="622.5" y="548.9" style="font-family:'Liberation Sans',sans-serif;font-size:7.3px" fill="#3a3a3a" text-anchor="start" >-20</text>
<text x="622.5" y="562.4" style="font-family:'Liberation Sans',sans-serif;font-size:7.3px" fill="#3a3a3a" text-anchor="start" >-25</text>
<text x="622.5" y="575.9" style="font-family:'Liberation Sans',sans-serif;font-size:7.3px" fill="#3a3a3a" text-anchor="start" >-30</text>
<text x="622.5" y="589.4" style="font-family:'Liberation Sans',sans-serif;font-size:7.3px" fill="#3a3a3a" text-anchor="start" >-35</text>
<text x="622.5" y="602.9" style="font-family:'Liberation Sans',sans-serif;font-size:7.3px" fill="#3a3a3a" text-anchor="start" >-40</text>
<text x="622.5" y="616.4" style="font-family:'Liberation Sans',sans-serif;font-size:7.3px" fill="#3a3a3a" text-anchor="start" >-45</text>
<text x="622.5" y="629.9" style="font-family:'Liberation Sans',sans-serif;font-size:7.3px" fill="#3a3a3a" text-anchor="start" >-50</text>
<text x="622.5" y="643.4" style="font-family:'Liberation Sans',sans-serif;font-size:7.3px" fill="#3a3a3a" text-anchor="start" >-55</text>
<text x="411.2" y="634.7" style="font-family:'Liberation Serif',serif;font-size:20px" fill="#111" text-anchor="start" >P<tspan dy="5" font-size="13.5">max</tspan><tspan dy="-5"> = -4.54 Pa</tspan></text>
<line x1="662.3" y1="539.3" x2="925" y2="539.3" stroke="#b0b0b0" stroke-width="1.2"/>
<rect x="662.3" y="600" width="262.7" height="2" fill="#1840c0"/>
<rect x="662.3" y="602" width="262.7" height="2" fill="#40b8b0"/>
<rect x="662.3" y="604" width="262.7" height="2.2" fill="#e8d010"/>
<rect x="929.5" y="503.3" width="5.6" height="147.4" fill="url(#jetv)"/>
<text transform="translate(890.5,474.6) scale(1,1.11)" x="0" y="0" style="font-family:'Liberation Serif',serif;font-size:17.6px" fill="#151515" stroke="#151515" stroke-width="0.2">Voltage/V</text>
<path d="M925,490.5 L931.6,490.5 L928.3,484.9 Z" fill="#111"/>
<text x="934.5" y="490.3" style="font-family:'Liberation Sans',sans-serif;font-size:7.6px" fill="#3a3a3a" text-anchor="start" >6.36×10<tspan dy="-2.5" font-size="4.6">-4</tspan></text>
<text x="934.5" y="497.8" style="font-family:'Liberation Sans',sans-serif;font-size:7.6px" fill="#3a3a3a" text-anchor="start" >×10<tspan dy="-2.5" font-size="4.6">-4</tspan></text>
<path d="M925,655.5 L931.6,655.5 L928.3,661.0999999999999 Z" fill="#111"/>
<text x="934.5" y="660.9" style="font-family:'Liberation Sans',sans-serif;font-size:7.6px" fill="#3a3a3a" text-anchor="start" >-5.72×10<tspan dy="-2.5" font-size="4.6">-4</tspan></text>
<text x="937.5" y="509.90000000000003" style="font-family:'Liberation Sans',sans-serif;font-size:7.3px" fill="#3a3a3a" text-anchor="start" >6</text>
<text x="937.5" y="534.3000000000001" style="font-family:'Liberation Sans',sans-serif;font-size:7.3px" fill="#3a3a3a" text-anchor="start" >4</text>
<text x="937.5" y="558.6" style="font-family:'Liberation Sans',sans-serif;font-size:7.3px" fill="#3a3a3a" text-anchor="start" >2</text>
<text x="937.5" y="583.3000000000001" style="font-family:'Liberation Sans',sans-serif;font-size:7.3px" fill="#3a3a3a" text-anchor="start" >0</text>
<text x="937.5" y="607.6" style="font-family:'Liberation Sans',sans-serif;font-size:7.3px" fill="#3a3a3a" text-anchor="start" >-2</text>
<text x="937.5" y="631.9" style="font-family:'Liberation Sans',sans-serif;font-size:7.3px" fill="#3a3a3a" text-anchor="start" >-4</text>
<text x="722" y="639" style="font-family:'Liberation Serif',serif;font-size:20.2px" fill="#111" text-anchor="start" >V<tspan dy="5" font-size="13.5">max</tspan><tspan dy="-5">= 6.36×10</tspan><tspan dy="-7.5" font-size="11.5">-4</tspan><tspan dy="7.5" dx="5">V</tspan></text>
<clipPath id="fl2"><rect x="28.6" y="786.5" width="262.8" height="58.8"/></clipPath>
<g clip-path="url(#fl2)">
<rect x="28.6" y="786.5" width="262.8" height="58.8" fill="url(#fl2base)"/>
<rect x="28.6" y="786.5" width="262.8" height="58.8" fill="url(#fl2left)"/>
<path d="M28.6,845.5 L45,840 Q120,838 180,839.5 T291.6,837 L291.6,846 L28.6,846 Z" fill="#f8a000" filter="url(#bl1)"/>
<path d="M28.6,845.5 L45,841.5 Q120,840.5 180,841 T291.6,840.5 L291.6,846 L28.6,846 Z" fill="#f0f000"/>
<path d="M28.6,845.5 L45,842.5 Q120,842 180,842.2 T291.6,841.8 L291.6,846 L28.6,846 Z" fill="#20c0d0"/>
<path d="M28.6,845.5 L45,843.3 Q120,843 180,843.2 T291.6,842.8 L291.6,846 L28.6,846 Z" fill="#0040d0"/>
<path d="M28.6,845.5 L45,844.2 L291.6,844 L291.6,846 L28.6,846 Z" fill="#001090"/>
<line x1="28.6" y1="788.9" x2="291.6" y2="788.9" stroke="#200000" stroke-opacity="0.55" stroke-width="0.7"/>
<line x1="28.6" y1="799.4" x2="291.6" y2="799.4" stroke="#200000" stroke-opacity="0.55" stroke-width="0.7"/>
<line x1="28.6" y1="811.9" x2="291.6" y2="811.9" stroke="#200000" stroke-opacity="0.55" stroke-width="0.7"/>
<line x1="28.6" y1="824.5" x2="291.6" y2="824.5" stroke="#200000" stroke-opacity="0.55" stroke-width="0.7"/>
<line x1="28.6" y1="838.2" x2="291.6" y2="838.2" stroke="#200000" stroke-opacity="0.55" stroke-width="0.7"/>
<path d="M53.8,787.0 L58.4,788.9 L53.8,790.8 Z" fill="#111"/>
<path d="M53.8,797.5 L58.4,799.4 L53.8,801.3 Z" fill="#111"/>
<path d="M53.8,810.0 L58.4,811.9 L53.8,813.8 Z" fill="#111"/>
<path d="M53.8,822.6 L58.4,824.5 L53.8,826.4 Z" fill="#111"/>
<path d="M54.2,836.7 L57.9,838.2 L54.2,839.7 Z" fill="#111"/>
<path d="M83.4,787.0 L87.9,788.9 L83.4,790.8 Z" fill="#111"/>
<path d="M83.4,797.5 L87.9,799.4 L83.4,801.3 Z" fill="#111"/>
<path d="M83.4,810.0 L87.9,811.9 L83.4,813.8 Z" fill="#111"/>
<path d="M83.4,822.6 L87.9,824.5 L83.4,826.4 Z" fill="#111"/>
<path d="M83.8,836.7 L87.4,838.2 L83.8,839.7 Z" fill="#111"/>
<path d="M112.9,787.0 L117.5,788.9 L112.9,790.8 Z" fill="#111"/>
<path d="M112.9,797.5 L117.5,799.4 L112.9,801.3 Z" fill="#111"/>
<path d="M112.9,810.0 L117.5,811.9 L112.9,813.8 Z" fill="#111"/>
<path d="M112.9,822.6 L117.5,824.5 L112.9,826.4 Z" fill="#111"/>
<path d="M113.3,836.7 L117.0,838.2 L113.3,839.7 Z" fill="#111"/>
<path d="M142.5,787.0 L147.0,788.9 L142.5,790.8 Z" fill="#111"/>
<path d="M142.5,797.5 L147.0,799.4 L142.5,801.3 Z" fill="#111"/>
<path d="M142.5,810.0 L147.0,811.9 L142.5,813.8 Z" fill="#111"/>
<path d="M142.5,822.6 L147.0,824.5 L142.5,826.4 Z" fill="#111"/>
<path d="M142.9,836.7 L146.5,838.2 L142.9,839.7 Z" fill="#111"/>
<path d="M172.0,787.0 L176.6,788.9 L172.0,790.8 Z" fill="#111"/>
<path d="M172.0,797.5 L176.6,799.4 L172.0,801.3 Z" fill="#111"/>
<path d="M172.0,810.0 L176.6,811.9 L172.0,813.8 Z" fill="#111"/>
<path d="M172.0,822.6 L176.6,824.5 L172.0,826.4 Z" fill="#111"/>
<path d="M172.4,836.7 L176.0,838.2 L172.4,839.7 Z" fill="#111"/>
<path d="M201.6,787.0 L206.1,788.9 L201.6,790.8 Z" fill="#111"/>
<path d="M201.6,797.5 L206.1,799.4 L201.6,801.3 Z" fill="#111"/>
<path d="M201.6,810.0 L206.1,811.9 L201.6,813.8 Z" fill="#111"/>
<path d="M201.6,822.6 L206.1,824.5 L201.6,826.4 Z" fill="#111"/>
<path d="M202.0,836.7 L205.6,838.2 L202.0,839.7 Z" fill="#111"/>
<path d="M231.1,787.0 L235.7,788.9 L231.1,790.8 Z" fill="#111"/>
<path d="M231.1,797.5 L235.7,799.4 L231.1,801.3 Z" fill="#111"/>
<path d="M231.1,810.0 L235.7,811.9 L231.1,813.8 Z" fill="#111"/>
<path d="M231.1,822.6 L235.7,824.5 L231.1,826.4 Z" fill="#111"/>
<path d="M231.6,836.7 L235.2,838.2 L231.6,839.7 Z" fill="#111"/>
<path d="M260.7,787.0 L265.2,788.9 L260.7,790.8 Z" fill="#111"/>
<path d="M260.7,797.5 L265.2,799.4 L260.7,801.3 Z" fill="#111"/>
<path d="M260.7,810.0 L265.2,811.9 L260.7,813.8 Z" fill="#111"/>
<path d="M260.7,822.6 L265.2,824.5 L260.7,826.4 Z" fill="#111"/>
<path d="M261.1,836.7 L264.7,838.2 L261.1,839.7 Z" fill="#111"/>
<circle cx="47.1" cy="845.6" r="3" fill="#fff"/>
<circle cx="90.6" cy="845.6" r="3" fill="#fff"/>
<circle cx="133.3" cy="845.6" r="3" fill="#fff"/>
<circle cx="175.6" cy="845.6" r="3" fill="#fff"/>
<circle cx="229.1" cy="845.6" r="3" fill="#fff"/>
</g>
<line x1="28.6" y1="850.4" x2="291.4" y2="850.4" stroke="#b4b4b4" stroke-width="1.3"/>
<line x1="47" y1="791" x2="47" y2="808" stroke="#fff" stroke-width="1.3"/>
<path d="M47,786.5 L44,793 L50,793 Z" fill="#fff"/>
<line x1="47" y1="826" x2="47" y2="845" stroke="#fff" stroke-width="1.3"/>
<text transform="translate(36.5,825.2) scale(1,1.12)" x="0" y="0" style="font-family:'Liberation Serif',serif;font-size:20px;font-weight:bold" fill="#fff" filter="url(#tshadow)">r =6 mm</text>
<text x="45.8" y="850.6" style="font-family:'Liberation Sans',sans-serif;font-size:6.6px" fill="#333" stroke="#fff" stroke-width="1.2" paint-order="stroke">min: 0.00000</text>
<rect x="296.5" y="749" width="5.5" height="146" fill="url(#jet)"/>
<text transform="translate(274,724.5) scale(1,1.1)" x="0" y="0" style="font-family:'Liberation Serif',serif;font-size:17px" fill="#151515" stroke="#151515" stroke-width="0.2">u/m·s<tspan dy="-7" font-size="10.5">-1</tspan></text>
<path d="M292,736.0999999999999 L298.6,736.0999999999999 L295.3,730.5 Z" fill="#111"/>
<text x="301.5" y="736.3" style="font-family:'Liberation Sans',sans-serif;font-size:7.3px" fill="#3a3a3a" text-anchor="start" >0.19</text>
<path d="M292,902.2 L298.6,902.2 L295.3,907.8 Z" fill="#111"/>
<text x="301.5" y="907.8" style="font-family:'Liberation Sans',sans-serif;font-size:7.3px" fill="#3a3a3a" text-anchor="start" >0</text>
<text x="303.5" y="759.9" style="font-family:'Liberation Sans',sans-serif;font-size:7.3px" fill="#3a3a3a" text-anchor="start" >0.18</text>
<text x="303.5" y="775.3" style="font-family:'Liberation Sans',sans-serif;font-size:7.3px" fill="#3a3a3a" text-anchor="start" >0.16</text>
<text x="303.5" y="790.6999999999999" style="font-family:'Liberation Sans',sans-serif;font-size:7.3px" fill="#3a3a3a" text-anchor="start" >0.14</text>
<text x="303.5" y="806.1" style="font-family:'Liberation Sans',sans-serif;font-size:7.3px" fill="#3a3a3a" text-anchor="start" >0.12</text>
<text x="303.5" y="821.5" style="font-family:'Liberation Sans',sans-serif;font-size:7.3px" fill="#3a3a3a" text-anchor="start" >0.1</text>
<text x="303.5" y="836.9" style="font-family:'Liberation Sans',sans-serif;font-size:7.3px" fill="#3a3a3a" text-anchor="start" >0.08</text>
<text x="303.5" y="852.3" style="font-family:'Liberation Sans',sans-serif;font-size:7.3px" fill="#3a3a3a" text-anchor="start" >0.06</text>
<text x="303.5" y="867.6999999999999" style="font-family:'Liberation Sans',sans-serif;font-size:7.3px" fill="#3a3a3a" text-anchor="start" >0.04</text>
<text x="303.5" y="883.1" style="font-family:'Liberation Sans',sans-serif;font-size:7.3px" fill="#3a3a3a" text-anchor="start" >0.02</text>
<text x="303.5" y="898.5" style="font-family:'Liberation Sans',sans-serif;font-size:7.3px" fill="#3a3a3a" text-anchor="start" >0</text>
<text transform="translate(120,777.3) scale(1,1.09)" x="0" y="0" style="font-family:'Liberation Serif',serif;font-size:20px" fill="#151515" stroke="#151515" stroke-width="0.2">L = 25 mm</text>
<text transform="translate(114.4,875.5) scale(1,1.05)" x="0" y="0" style="font-family:'Liberation Serif',serif;font-size:20.2px" fill="#151515" stroke="#151515" stroke-width="0.2">ū = 0.147 m/s</text>
<line x1="33.6" y1="886.9" x2="277.0" y2="886.9" stroke="#111" stroke-width="1.3"/>
<path d="M284,886.9 L276.0,890.1 L276.0,883.7 Z" fill="#111"/>
<text transform="translate(123,914.4) scale(1,1.087)" x="0" y="0" style="font-family:'Liberation Serif',serif;font-size:19.5px" fill="#151515" stroke="#151515" stroke-width="0.2">Water Flow</text>
<clipPath id="pr2"><rect x="347" y="790.2" width="262.6" height="59"/></clipPath><g clip-path="url(#pr2)">
<rect x="347" y="790.2" width="262.6" height="59" fill="url(#pr2grad)"/>
<ellipse cx="352" cy="849" rx="14" ry="10" fill="#c81808" filter="url(#blur1)"/>
<ellipse cx="366.6" cy="849" rx="14" ry="5" fill="#e05808" opacity="0.6" filter="url(#blur1)"/>
<circle cx="366.6" cy="849.2" r="2.8" fill="#fff"/>
<ellipse cx="408.9" cy="849" rx="14" ry="5" fill="#e05808" opacity="0.6" filter="url(#blur1)"/>
<circle cx="408.9" cy="849.2" r="2.8" fill="#fff"/>
<ellipse cx="451.2" cy="849" rx="14" ry="5" fill="#e05808" opacity="0.6" filter="url(#blur1)"/>
<circle cx="451.2" cy="849.2" r="2.8" fill="#fff"/>
<ellipse cx="493.8" cy="849" rx="14" ry="5" fill="#e05808" opacity="0.6" filter="url(#blur1)"/>
<circle cx="493.8" cy="849.2" r="2.8" fill="#fff"/>
<ellipse cx="547.3" cy="849" rx="14" ry="5" fill="#e05808" opacity="0.6" filter="url(#blur1)"/>
<circle cx="547.3" cy="849.2" r="2.8" fill="#fff"/>
</g>
<line x1="347" y1="854.2" x2="609.6" y2="854.2" stroke="#b0b0b0" stroke-width="1.2"/>
<rect x="613.8" y="752.6" width="5.6" height="147.2" fill="url(#jet)"/>
<text transform="translate(568.3,722.9) scale(1,1.11)" x="0" y="0" style="font-family:'Liberation Serif',serif;font-size:17.8px" fill="#151515" stroke="#151515" stroke-width="0.2">Pressure/Pa</text>
<path d="M609,740.8 L615.6,740.8 L612.3,735.2 Z" fill="#111"/>
<text x="619.0" y="740.8" style="font-family:'Liberation Sans',sans-serif;font-size:7.3px" fill="#3a3a3a" text-anchor="start" >10.3</text>
<path d="M609,905.5 L615.6,905.5 L612.3,911.0999999999999 Z" fill="#111"/>
<text x="619.0" y="911.0999999999999" style="font-family:'Liberation Sans',sans-serif;font-size:7.3px" fill="#3a3a3a" text-anchor="start" >-58.8</text>
<text x="622.5" y="756.2" style="font-family:'Liberation Sans',sans-serif;font-size:7.3px" fill="#3a3a3a" text-anchor="start" >10</text>
<text x="622.5" y="777.35" style="font-family:'Liberation Sans',sans-serif;font-size:7.3px" fill="#3a3a3a" text-anchor="start" >0</text>
<text x="622.5" y="798.5" style="font-family:'Liberation Sans',sans-serif;font-size:7.3px" fill="#3a3a3a" text-anchor="start" >-10</text>
<text x="622.5" y="819.6500000000001" style="font-family:'Liberation Sans',sans-serif;font-size:7.3px" fill="#3a3a3a" text-anchor="start" >-20</text>
<text x="622.5" y="840.8000000000001" style="font-family:'Liberation Sans',sans-serif;font-size:7.3px" fill="#3a3a3a" text-anchor="start" >-30</text>
<text x="622.5" y="861.95" style="font-family:'Liberation Sans',sans-serif;font-size:7.3px" fill="#3a3a3a" text-anchor="start" >-40</text>
<text x="622.5" y="883.1" style="font-family:'Liberation Sans',sans-serif;font-size:7.3px" fill="#3a3a3a" text-anchor="start" >-50</text>
<text x="411.2" y="879.7" style="font-family:'Liberation Serif',serif;font-size:20px" fill="#111" text-anchor="start" >P<tspan dy="5" font-size="13.5">max</tspan><tspan dy="-5"> = 10.33 Pa</tspan></text>
<line x1="662.3" y1="786.7" x2="925" y2="786.7" stroke="#b0b0b0" stroke-width="1.2"/>
<rect x="662.3" y="844.3" width="262.7" height="2" fill="#40a8d0"/>
<rect x="662.3" y="846.3" width="262.7" height="2" fill="#e0d020"/>
<rect x="662.3" y="848.3" width="262.7" height="2.4" fill="#f08020"/>
<path d="M678.5,845 A3.2,3.2 0 0 1 684.9000000000001,845 Z" fill="#1840c0"/>
<path d="M721.0999999999999,845 A3.2,3.2 0 0 1 727.5,845 Z" fill="#1840c0"/>
<path d="M763.5,845 A3.2,3.2 0 0 1 769.9000000000001,845 Z" fill="#1840c0"/>
<path d="M806.0999999999999,845 A3.2,3.2 0 0 1 812.5,845 Z" fill="#1840c0"/>
<path d="M859.0999999999999,845 A3.2,3.2 0 0 1 865.5,845 Z" fill="#1840c0"/>
<text x="683" y="848.7" style="font-family:'Liberation Sans',sans-serif;font-size:5.2px" fill="#222" text-anchor="start" >min: -8.38187E-4</text>
<text x="683" y="856" style="font-family:'Liberation Sans',sans-serif;font-size:5.2px" fill="#222" text-anchor="start" >max: 6.49658E-4</text>
<rect x="929.5" y="749.3" width="5.6" height="147.4" fill="url(#jetv)"/>
<text transform="translate(890.5,723.6) scale(1,1.11)" x="0" y="0" style="font-family:'Liberation Serif',serif;font-size:17.6px" fill="#151515" stroke="#151515" stroke-width="0.2">Voltage/V</text>
<path d="M925,736.8 L931.6,736.8 L928.3,731.2 Z" fill="#111"/>
<text x="934.5" y="736.6" style="font-family:'Liberation Sans',sans-serif;font-size:7.6px" fill="#3a3a3a" text-anchor="start" >6.51×10<tspan dy="-2.5" font-size="4.6">-4</tspan></text>
<text x="934.5" y="744.3" style="font-family:'Liberation Sans',sans-serif;font-size:7.6px" fill="#3a3a3a" text-anchor="start" >×10<tspan dy="-2.5" font-size="4.6">-4</tspan></text>
<path d="M925,902.2 L931.6,902.2 L928.3,907.8 Z" fill="#111"/>
<text x="934.5" y="907.6" style="font-family:'Liberation Sans',sans-serif;font-size:7.6px" fill="#3a3a3a" text-anchor="start" >-8.38×10<tspan dy="-2.5" font-size="4.6">-4</tspan></text>
<text x="937.5" y="755.9" style="font-family:'Liberation Sans',sans-serif;font-size:7.3px" fill="#3a3a3a" text-anchor="start" >6</text>
<text x="937.5" y="775.9" style="font-family:'Liberation Sans',sans-serif;font-size:7.3px" fill="#3a3a3a" text-anchor="start" >4</text>
<text x="937.5" y="795.9" style="font-family:'Liberation Sans',sans-serif;font-size:7.3px" fill="#3a3a3a" text-anchor="start" >2</text>
<text x="937.5" y="815.9" style="font-family:'Liberation Sans',sans-serif;font-size:7.3px" fill="#3a3a3a" text-anchor="start" >0</text>
<text x="937.5" y="835.9" style="font-family:'Liberation Sans',sans-serif;font-size:7.3px" fill="#3a3a3a" text-anchor="start" >-2</text>
<text x="937.5" y="855.9" style="font-family:'Liberation Sans',sans-serif;font-size:7.3px" fill="#3a3a3a" text-anchor="start" >-4</text>
<text x="937.5" y="875.9" style="font-family:'Liberation Sans',sans-serif;font-size:7.3px" fill="#3a3a3a" text-anchor="start" >-6</text>
<text x="937.5" y="895.9" style="font-family:'Liberation Sans',sans-serif;font-size:7.3px" fill="#3a3a3a" text-anchor="start" >-8</text>
<text x="722" y="879" style="font-family:'Liberation Serif',serif;font-size:20.2px" fill="#111" text-anchor="start" >V<tspan dy="5" font-size="13.5">max</tspan><tspan dy="-5">= 6.50×10</tspan><tspan dy="-7.5" font-size="11.5">-4</tspan><tspan dy="7.5" dx="5">V</tspan></text>
</svg>
</body></html>
